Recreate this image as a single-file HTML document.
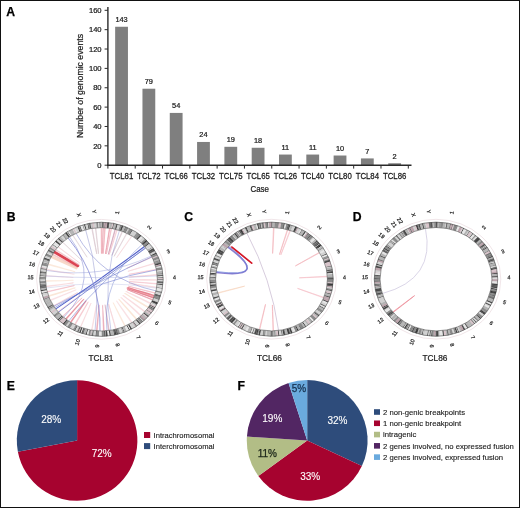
<!DOCTYPE html>
<html><head><meta charset="utf-8"><style>
html,body{margin:0;padding:0;background:#fff;width:520px;height:508px;overflow:hidden}
svg{display:block;will-change:transform;filter:blur(0.3px)}
</style></head><body>
<svg width="520" height="508" viewBox="0 0 520 508" font-family='"Liberation Sans", sans-serif'>
<rect width="520" height="508" fill="#fff"/>
<rect x="115.15" y="26.76" width="12.8" height="138.44" fill="#7f7f7f"/>
<text x="121.55" y="22.16" font-size="7.4" text-anchor="middle" fill="#1a1a1a" stroke="#1a1a1a" stroke-width="0.22">143</text>
<text transform="translate(121.55,178.7) scale(1,1.14)" x="0" y="0" font-size="7.8" text-anchor="middle" fill="#1a1a1a" stroke="#1a1a1a" stroke-width="0.22">TCL81</text>
<rect x="142.46" y="88.72" width="12.8" height="76.48" fill="#7f7f7f"/>
<text x="148.86" y="84.12" font-size="7.4" text-anchor="middle" fill="#1a1a1a" stroke="#1a1a1a" stroke-width="0.22">79</text>
<text transform="translate(148.86,178.7) scale(1,1.14)" x="0" y="0" font-size="7.8" text-anchor="middle" fill="#1a1a1a" stroke="#1a1a1a" stroke-width="0.22">TCL72</text>
<rect x="169.77" y="112.92" width="12.8" height="52.28" fill="#7f7f7f"/>
<text x="176.17" y="108.32" font-size="7.4" text-anchor="middle" fill="#1a1a1a" stroke="#1a1a1a" stroke-width="0.22">54</text>
<text transform="translate(176.17,178.7) scale(1,1.14)" x="0" y="0" font-size="7.8" text-anchor="middle" fill="#1a1a1a" stroke="#1a1a1a" stroke-width="0.22">TCL66</text>
<rect x="197.08" y="141.96" width="12.8" height="23.24" fill="#7f7f7f"/>
<text x="203.48" y="137.36" font-size="7.4" text-anchor="middle" fill="#1a1a1a" stroke="#1a1a1a" stroke-width="0.22">24</text>
<text transform="translate(203.48,178.7) scale(1,1.14)" x="0" y="0" font-size="7.8" text-anchor="middle" fill="#1a1a1a" stroke="#1a1a1a" stroke-width="0.22">TCL32</text>
<rect x="224.39" y="146.81" width="12.8" height="18.39" fill="#7f7f7f"/>
<text x="230.79" y="142.21" font-size="7.4" text-anchor="middle" fill="#1a1a1a" stroke="#1a1a1a" stroke-width="0.22">19</text>
<text transform="translate(230.79,178.7) scale(1,1.14)" x="0" y="0" font-size="7.8" text-anchor="middle" fill="#1a1a1a" stroke="#1a1a1a" stroke-width="0.22">TCL75</text>
<rect x="251.70" y="147.77" width="12.8" height="17.43" fill="#7f7f7f"/>
<text x="258.10" y="143.17" font-size="7.4" text-anchor="middle" fill="#1a1a1a" stroke="#1a1a1a" stroke-width="0.22">18</text>
<text transform="translate(258.10,178.7) scale(1,1.14)" x="0" y="0" font-size="7.8" text-anchor="middle" fill="#1a1a1a" stroke="#1a1a1a" stroke-width="0.22">TCL65</text>
<rect x="279.01" y="154.55" width="12.8" height="10.65" fill="#7f7f7f"/>
<text x="285.41" y="149.95" font-size="7.4" text-anchor="middle" fill="#1a1a1a" stroke="#1a1a1a" stroke-width="0.22">11</text>
<text transform="translate(285.41,178.7) scale(1,1.14)" x="0" y="0" font-size="7.8" text-anchor="middle" fill="#1a1a1a" stroke="#1a1a1a" stroke-width="0.22">TCL26</text>
<rect x="306.32" y="154.55" width="12.8" height="10.65" fill="#7f7f7f"/>
<text x="312.72" y="149.95" font-size="7.4" text-anchor="middle" fill="#1a1a1a" stroke="#1a1a1a" stroke-width="0.22">11</text>
<text transform="translate(312.72,178.7) scale(1,1.14)" x="0" y="0" font-size="7.8" text-anchor="middle" fill="#1a1a1a" stroke="#1a1a1a" stroke-width="0.22">TCL40</text>
<rect x="333.63" y="155.52" width="12.8" height="9.68" fill="#7f7f7f"/>
<text x="340.03" y="150.92" font-size="7.4" text-anchor="middle" fill="#1a1a1a" stroke="#1a1a1a" stroke-width="0.22">10</text>
<text transform="translate(340.03,178.7) scale(1,1.14)" x="0" y="0" font-size="7.8" text-anchor="middle" fill="#1a1a1a" stroke="#1a1a1a" stroke-width="0.22">TCL80</text>
<rect x="360.94" y="158.42" width="12.8" height="6.78" fill="#7f7f7f"/>
<text x="367.34" y="153.82" font-size="7.4" text-anchor="middle" fill="#1a1a1a" stroke="#1a1a1a" stroke-width="0.22">7</text>
<text transform="translate(367.34,178.7) scale(1,1.14)" x="0" y="0" font-size="7.8" text-anchor="middle" fill="#1a1a1a" stroke="#1a1a1a" stroke-width="0.22">TCL84</text>
<rect x="388.25" y="163.26" width="12.8" height="1.94" fill="#7f7f7f"/>
<text x="394.65" y="158.66" font-size="7.4" text-anchor="middle" fill="#1a1a1a" stroke="#1a1a1a" stroke-width="0.22">2</text>
<text transform="translate(394.65,178.7) scale(1,1.14)" x="0" y="0" font-size="7.8" text-anchor="middle" fill="#1a1a1a" stroke="#1a1a1a" stroke-width="0.22">TCL86</text>
<line x1="107.9" y1="7" x2="107.9" y2="165.89999999999998" stroke="#2a2a2a" stroke-width="1.4"/>
<line x1="107.2" y1="165.2" x2="411.5" y2="165.2" stroke="#2a2a2a" stroke-width="1.4"/>
<line x1="104.6" y1="165.20" x2="107.9" y2="165.20" stroke="#2a2a2a" stroke-width="1"/>
<text x="101.6" y="167.90" font-size="7.6" text-anchor="end" fill="#1a1a1a" stroke="#1a1a1a" stroke-width="0.22">0</text>
<line x1="104.6" y1="145.84" x2="107.9" y2="145.84" stroke="#2a2a2a" stroke-width="1"/>
<text x="101.6" y="148.54" font-size="7.6" text-anchor="end" fill="#1a1a1a" stroke="#1a1a1a" stroke-width="0.22">20</text>
<line x1="104.6" y1="126.47" x2="107.9" y2="126.47" stroke="#2a2a2a" stroke-width="1"/>
<text x="101.6" y="129.17" font-size="7.6" text-anchor="end" fill="#1a1a1a" stroke="#1a1a1a" stroke-width="0.22">40</text>
<line x1="104.6" y1="107.11" x2="107.9" y2="107.11" stroke="#2a2a2a" stroke-width="1"/>
<text x="101.6" y="109.81" font-size="7.6" text-anchor="end" fill="#1a1a1a" stroke="#1a1a1a" stroke-width="0.22">60</text>
<line x1="104.6" y1="87.75" x2="107.9" y2="87.75" stroke="#2a2a2a" stroke-width="1"/>
<text x="101.6" y="90.45" font-size="7.6" text-anchor="end" fill="#1a1a1a" stroke="#1a1a1a" stroke-width="0.22">80</text>
<line x1="104.6" y1="68.39" x2="107.9" y2="68.39" stroke="#2a2a2a" stroke-width="1"/>
<text x="101.6" y="71.09" font-size="7.6" text-anchor="end" fill="#1a1a1a" stroke="#1a1a1a" stroke-width="0.22">100</text>
<line x1="104.6" y1="49.03" x2="107.9" y2="49.03" stroke="#2a2a2a" stroke-width="1"/>
<text x="101.6" y="51.73" font-size="7.6" text-anchor="end" fill="#1a1a1a" stroke="#1a1a1a" stroke-width="0.22">120</text>
<line x1="104.6" y1="29.66" x2="107.9" y2="29.66" stroke="#2a2a2a" stroke-width="1"/>
<text x="101.6" y="32.36" font-size="7.6" text-anchor="end" fill="#1a1a1a" stroke="#1a1a1a" stroke-width="0.22">140</text>
<line x1="104.6" y1="10.30" x2="107.9" y2="10.30" stroke="#2a2a2a" stroke-width="1"/>
<text x="101.6" y="13.00" font-size="7.6" text-anchor="end" fill="#1a1a1a" stroke="#1a1a1a" stroke-width="0.22">160</text>
<line x1="107.90" y1="165.2" x2="107.90" y2="168.6" stroke="#2a2a2a" stroke-width="1"/>
<line x1="135.21" y1="165.2" x2="135.21" y2="168.6" stroke="#2a2a2a" stroke-width="1"/>
<line x1="162.52" y1="165.2" x2="162.52" y2="168.6" stroke="#2a2a2a" stroke-width="1"/>
<line x1="189.83" y1="165.2" x2="189.83" y2="168.6" stroke="#2a2a2a" stroke-width="1"/>
<line x1="217.14" y1="165.2" x2="217.14" y2="168.6" stroke="#2a2a2a" stroke-width="1"/>
<line x1="244.45" y1="165.2" x2="244.45" y2="168.6" stroke="#2a2a2a" stroke-width="1"/>
<line x1="271.75" y1="165.2" x2="271.75" y2="168.6" stroke="#2a2a2a" stroke-width="1"/>
<line x1="299.06" y1="165.2" x2="299.06" y2="168.6" stroke="#2a2a2a" stroke-width="1"/>
<line x1="326.37" y1="165.2" x2="326.37" y2="168.6" stroke="#2a2a2a" stroke-width="1"/>
<line x1="353.68" y1="165.2" x2="353.68" y2="168.6" stroke="#2a2a2a" stroke-width="1"/>
<line x1="380.99" y1="165.2" x2="380.99" y2="168.6" stroke="#2a2a2a" stroke-width="1"/>
<line x1="408.30" y1="165.2" x2="408.30" y2="168.6" stroke="#2a2a2a" stroke-width="1"/>
<text x="259.7" y="192.2" font-size="9" text-anchor="middle" fill="#1a1a1a" textLength="18.5" lengthAdjust="spacingAndGlyphs" stroke="#1a1a1a" stroke-width="0.22">Case</text>
<text transform="translate(82.6,86) rotate(-90)" x="0" y="0" font-size="9.3" text-anchor="middle" fill="#1a1a1a" textLength="104" lengthAdjust="spacingAndGlyphs" stroke="#1a1a1a" stroke-width="0.22">Number of genomic events</text>
<path d="M91.82,228.57 Q101.45,279.30 92.30,228.50" stroke="#d8c4cc" stroke-width="0.9" stroke-opacity="0.7200000000000001" fill="none"/>
<path d="M95.38,228.11 Q101.45,279.30 95.87,228.06" stroke="#d8c4cc" stroke-width="0.9" stroke-opacity="0.63" fill="none"/>
<path d="M101.21,227.80 Q101.45,279.30 101.69,227.80" stroke="#f0b0ba" stroke-width="1.0" stroke-opacity="0.765" fill="none"/>
<path d="M102.96,227.82 Q101.45,279.30 103.44,227.83" stroke="#e48c9c" stroke-width="0.9" stroke-opacity="0.54" fill="none"/>
<path d="M104.71,227.89 Q101.45,279.30 105.19,227.92" stroke="#f0b0ba" stroke-width="1.0" stroke-opacity="0.7200000000000001" fill="none"/>
<path d="M109.35,228.32 Q101.45,279.30 109.83,228.39" stroke="#e48c9c" stroke-width="0.9" stroke-opacity="0.63" fill="none"/>
<path d="M111.08,228.57 Q101.45,279.30 111.56,228.65" stroke="#f0b0ba" stroke-width="0.9" stroke-opacity="0.63" fill="none"/>
<path d="M114.98,229.34 Q101.45,279.30 115.45,229.45" stroke="#d0a4b8" stroke-width="1.0" stroke-opacity="0.7200000000000001" fill="none"/>
<path d="M116.76,229.78 Q101.45,279.30 117.23,229.91" stroke="#f0b0ba" stroke-width="0.8" stroke-opacity="0.54" fill="none"/>
<path d="M122.10,231.47 Q101.45,279.30 122.55,231.63" stroke="#d8c4cc" stroke-width="0.9" stroke-opacity="0.7200000000000001" fill="none"/>
<path d="M126.53,233.31 Q101.45,279.30 126.96,233.52" stroke="#d8c4cc" stroke-width="0.8" stroke-opacity="0.63" fill="none"/>
<path d="M131.59,235.99 Q101.45,279.30 132.00,236.23" stroke="#f6d0d4" stroke-width="0.8" stroke-opacity="0.63" fill="none"/>
<path d="M151.68,257.01 Q101.45,279.30 151.89,257.41" stroke="#f6d0d4" stroke-width="1.0" stroke-opacity="0.7200000000000001" fill="none"/>
<path d="M154.37,263.17 Q101.45,279.30 154.52,263.60" stroke="#f6d0d4" stroke-width="0.9" stroke-opacity="0.63" fill="none"/>
<path d="M156.10,269.25 Q101.45,279.30 156.20,269.69" stroke="#f0b0ba" stroke-width="0.8" stroke-opacity="0.54" fill="none"/>
<path d="M156.94,274.59 Q101.45,279.30 156.98,275.04" stroke="#f6d0d4" stroke-width="1.0" stroke-opacity="0.7200000000000001" fill="none"/>
<path d="M157.17,279.79 Q101.45,279.30 157.16,280.24" stroke="#f6d0d4" stroke-width="1.2" stroke-opacity="0.7200000000000001" fill="none"/>
<path d="M156.98,283.56 Q101.45,279.30 156.94,284.01" stroke="#f0b0ba" stroke-width="0.8" stroke-opacity="0.54" fill="none"/>
<path d="M156.52,287.13 Q101.45,279.30 156.45,287.58" stroke="#f6d0d4" stroke-width="1.0" stroke-opacity="0.63" fill="none"/>
<path d="M155.21,292.85 Q101.45,279.30 155.08,293.28" stroke="#f0b0ba" stroke-width="0.9" stroke-opacity="0.63" fill="none"/>
<path d="M154.37,295.43 Q101.45,279.30 154.22,295.85" stroke="#dc5c6c" stroke-width="1.1" stroke-opacity="0.7200000000000001" fill="none"/>
<path d="M153.56,297.55 Q101.45,279.30 153.38,297.97" stroke="#dc5c6c" stroke-width="1.1" stroke-opacity="0.675" fill="none"/>
<path d="M152.65,299.63 Q101.45,279.30 152.45,300.04" stroke="#e48c9c" stroke-width="1.0" stroke-opacity="0.63" fill="none"/>
<path d="M150.76,303.28 Q101.45,279.30 150.54,303.68" stroke="#f6d0d4" stroke-width="1.1" stroke-opacity="0.7200000000000001" fill="none"/>
<path d="M148.32,307.16 Q101.45,279.30 148.05,307.54" stroke="#f8dcc8" stroke-width="1.2" stroke-opacity="0.7200000000000001" fill="none"/>
<path d="M144.91,311.54 Q101.45,279.30 144.60,311.88" stroke="#f6d0d4" stroke-width="1.2" stroke-opacity="0.7200000000000001" fill="none"/>
<path d="M141.02,315.56 Q101.45,279.30 140.68,315.87" stroke="#f6d0d4" stroke-width="1.1" stroke-opacity="0.7200000000000001" fill="none"/>
<path d="M136.71,319.18 Q101.45,279.30 136.33,319.46" stroke="#f8dcc8" stroke-width="1.1" stroke-opacity="0.7200000000000001" fill="none"/>
<path d="M132.00,322.37 Q101.45,279.30 131.59,322.61" stroke="#f6d0d4" stroke-width="1.1" stroke-opacity="0.63" fill="none"/>
<path d="M125.22,325.88 Q101.45,279.30 124.78,326.07" stroke="#f8dcc8" stroke-width="1.1" stroke-opacity="0.63" fill="none"/>
<path d="M116.11,328.99 Q101.45,279.30 115.64,329.10" stroke="#f6d0d4" stroke-width="1.0" stroke-opacity="0.63" fill="none"/>
<path d="M109.06,330.32 Q101.45,279.30 108.58,330.38" stroke="#d0a4b8" stroke-width="1.1" stroke-opacity="0.7200000000000001" fill="none"/>
<path d="M104.03,330.74 Q101.45,279.30 103.54,330.76" stroke="#e48c9c" stroke-width="1.1" stroke-opacity="0.675" fill="none"/>
<path d="M97.03,330.64 Q101.45,279.30 96.54,330.60" stroke="#e48c9c" stroke-width="1.1" stroke-opacity="0.675" fill="none"/>
<path d="M92.01,330.06 Q101.45,279.30 91.53,329.98" stroke="#f6d0d4" stroke-width="1.0" stroke-opacity="0.54" fill="none"/>
<path d="M80.80,327.13 Q101.45,279.30 80.35,326.97" stroke="#f6d0d4" stroke-width="1.0" stroke-opacity="0.54" fill="none"/>
<path d="M75.08,324.67 Q101.45,279.30 74.65,324.45" stroke="#f0b0ba" stroke-width="1.1" stroke-opacity="0.63" fill="none"/>
<path d="M70.90,322.37 Q101.45,279.30 70.49,322.12" stroke="#dc5c6c" stroke-width="1.1" stroke-opacity="0.63" fill="none"/>
<path d="M66.19,319.18 Q101.45,279.30 65.82,318.90" stroke="#dc5c6c" stroke-width="1.1" stroke-opacity="0.63" fill="none"/>
<path d="M62.92,316.50 Q101.45,279.30 62.57,316.19" stroke="#f0b0ba" stroke-width="1.0" stroke-opacity="0.54" fill="none"/>
<path d="M58.30,311.88 Q101.45,279.30 57.99,311.54" stroke="#f6d0d4" stroke-width="1.0" stroke-opacity="0.63" fill="none"/>
<path d="M53.81,306.02 Q101.45,279.30 53.56,305.63" stroke="#f6d0d4" stroke-width="1.0" stroke-opacity="0.63" fill="none"/>
<path d="M50.64,300.45 Q101.45,279.30 50.45,300.04" stroke="#f6d0d4" stroke-width="1.1" stroke-opacity="0.63" fill="none"/>
<path d="M48.84,296.28 Q101.45,279.30 48.68,295.85" stroke="#f8dcc8" stroke-width="1.2" stroke-opacity="0.7200000000000001" fill="none"/>
<path d="M47.44,291.98 Q101.45,279.30 47.32,291.54" stroke="#f0b0ba" stroke-width="1.0" stroke-opacity="0.54" fill="none"/>
<path d="M46.30,286.69 Q101.45,279.30 46.24,286.24" stroke="#f6d0d4" stroke-width="1.2" stroke-opacity="0.7200000000000001" fill="none"/>
<path d="M45.77,281.32 Q101.45,279.30 45.75,280.87" stroke="#f8dcc8" stroke-width="1.1" stroke-opacity="0.63" fill="none"/>
<path d="M45.85,275.93 Q101.45,279.30 45.88,275.48" stroke="#f6d0d4" stroke-width="1.1" stroke-opacity="0.63" fill="none"/>
<path d="M46.70,269.69 Q101.45,279.30 46.80,269.25" stroke="#f6d0d4" stroke-width="1.1" stroke-opacity="0.63" fill="none"/>
<path d="M48.09,264.46 Q101.45,279.30 48.23,264.03" stroke="#f8dcc8" stroke-width="1.1" stroke-opacity="0.63" fill="none"/>
<path d="M57.99,247.06 Q101.45,279.30 58.30,246.72" stroke="#f6d0d4" stroke-width="0.9" stroke-opacity="0.63" fill="none"/>
<path d="M62.57,242.41 Q101.45,279.30 62.92,242.10" stroke="#d8c4cc" stroke-width="0.8" stroke-opacity="0.54" fill="none"/>
<path d="M72.54,235.27 Q101.45,279.30 72.96,235.04" stroke="#d8c4cc" stroke-width="0.8" stroke-opacity="0.54" fill="none"/>
<path d="M51.46,256.77 L76.46,268.03" stroke="#f6d0bc" stroke-width="2.6" stroke-opacity="0.8" fill="none" stroke-linecap="round"/>
<path d="M52.71,254.54 L77.08,266.92" stroke="#f0b0b0" stroke-width="1.6" stroke-opacity="0.7" fill="none" stroke-linecap="round"/>
<path d="M54.29,252.06 L77.87,265.68" stroke="#d83444" stroke-width="2.8" stroke-opacity="0.92" fill="none" stroke-linecap="round"/>
<path d="M55.89,249.82 L78.67,264.56" stroke="#f0b8c0" stroke-width="1.4" stroke-opacity="0.7" fill="none" stroke-linecap="round"/>
<path d="M153.71,296.88 L127.58,288.09" stroke="#e87884" stroke-width="2.2" stroke-opacity="0.45" fill="none" stroke-linecap="round"/>
<path d="M144.41,246.50 Q101.45,279.30 55.84,308.88" stroke="#4a58c8" stroke-width="1.1" stroke-opacity="0.96" fill="none"/>
<path d="M145.75,248.06 Q101.45,279.30 58.52,312.13" stroke="#5a68c8" stroke-width="0.8800000000000001" stroke-opacity="0.84" fill="none"/>
<path d="M156.24,269.91 Q101.45,279.30 53.92,306.18" stroke="#6a78d0" stroke-width="0.77" stroke-opacity="0.72" fill="none"/>
<path d="M68.17,238.00 Q101.45,279.30 100.01,330.78" stroke="#7a80d0" stroke-width="0.8800000000000001" stroke-opacity="0.84" fill="none"/>
<path d="M76.12,233.43 Q101.45,279.30 155.77,290.80" stroke="#8088d0" stroke-width="0.77" stroke-opacity="0.72" fill="none"/>
<path d="M69.69,236.99 Q101.45,279.30 63.77,317.24" stroke="#8a90d8" stroke-width="0.77" stroke-opacity="0.72" fill="none"/>
<path d="M85.65,229.91 Q101.45,279.30 95.07,330.46" stroke="#9094d0" stroke-width="0.77" stroke-opacity="0.66" fill="none"/>
<path d="M119.43,230.55 Q101.45,279.30 110.83,330.07" stroke="#8c90d0" stroke-width="0.77" stroke-opacity="0.6" fill="none"/>
<path d="M142.31,244.28 Q101.45,279.30 106.95,330.55" stroke="#7080d0" stroke-width="0.77" stroke-opacity="0.6" fill="none"/>
<path d="M54.89,307.59 Q101.45,279.30 151.64,256.93" stroke="#6070c8" stroke-width="0.77" stroke-opacity="0.72" fill="none"/>
<path d="M68.73,320.99 Q101.45,279.30 145.35,247.58" stroke="#5868c8" stroke-width="0.77" stroke-opacity="0.6" fill="none"/>
<path d="M151.14,256.00 Q101.45,279.30 46.55,270.47" stroke="#9098d8" stroke-width="0.66" stroke-opacity="0.66" fill="none"/>
<path d="M45.84,275.99 Q101.45,279.30 157.05,275.94" stroke="#b0b8e4" stroke-width="0.77" stroke-opacity="0.66" fill="none"/>
<path d="M46.53,288.00 Q101.45,279.30 156.35,288.14" stroke="#b8bce4" stroke-width="0.66" stroke-opacity="0.6" fill="none"/>
<ellipse cx="101.45" cy="279.3" rx="64.81" ry="59.9" fill="none" stroke="#e6d4d8" stroke-width="0.6"/>
<ellipse cx="101.45" cy="279.3" rx="58.86" ry="54.40" fill="none" stroke="#d0d0d0" stroke-width="5.40"/>
<path d="M98.65,222.26 A61.78,57.10 0 0 1 99.71,222.22 L99.87,227.62 A55.94,51.70 0 0 0 98.91,227.65Z" fill="#d2d2d2"/>
<path d="M99.71,222.22 A61.78,57.10 0 0 1 100.30,222.21 L100.41,227.61 A55.94,51.70 0 0 0 99.87,227.62Z" fill="#1a1a1a"/>
<path d="M100.30,222.21 A61.78,57.10 0 0 1 102.07,222.20 L102.01,227.60 A55.94,51.70 0 0 0 100.41,227.61Z" fill="#b4b4b4"/>
<path d="M102.07,222.20 A61.78,57.10 0 0 1 102.46,222.21 L102.36,227.61 A55.94,51.70 0 0 0 102.01,227.60Z" fill="#1a1a1a"/>
<path d="M102.46,222.21 A61.78,57.10 0 0 1 103.16,222.22 L103.00,227.62 A55.94,51.70 0 0 0 102.36,227.61Z" fill="#555555"/>
<path d="M103.16,222.22 A61.78,57.10 0 0 1 103.85,222.24 L103.63,227.64 A55.94,51.70 0 0 0 103.00,227.62Z" fill="#555555"/>
<path d="M103.85,222.24 A61.78,57.10 0 0 1 105.12,222.30 L104.78,227.69 A55.94,51.70 0 0 0 103.63,227.64Z" fill="#bca4ac"/>
<path d="M105.12,222.30 A61.78,57.10 0 0 1 105.51,222.32 L105.13,227.71 A55.94,51.70 0 0 0 104.78,227.69Z" fill="#1a1a1a"/>
<path d="M105.51,222.32 A61.78,57.10 0 0 1 107.49,222.47 L106.92,227.85 A55.94,51.70 0 0 0 105.13,227.71Z" fill="#bca4ac"/>
<path d="M107.49,222.47 A61.78,57.10 0 0 1 108.04,222.53 L107.42,227.90 A55.94,51.70 0 0 0 106.92,227.85Z" fill="#1a1a1a"/>
<path d="M108.04,222.53 A61.78,57.10 0 0 1 108.61,222.58 L107.93,227.95 A55.94,51.70 0 0 0 107.42,227.90Z" fill="#1a1a1a"/>
<path d="M108.61,222.58 A61.78,57.10 0 0 1 109.08,222.64 L108.36,228.00 A55.94,51.70 0 0 0 107.93,227.95Z" fill="#1a1a1a"/>
<path d="M109.08,222.64 A61.78,57.10 0 0 1 109.58,222.70 L108.81,228.05 A55.94,51.70 0 0 0 108.36,228.00Z" fill="#555555"/>
<path d="M109.58,222.70 A61.78,57.10 0 0 1 110.37,222.80 L109.53,228.14 A55.94,51.70 0 0 0 108.81,228.05Z" fill="#d2d2d2"/>
<path d="M110.37,222.80 A61.78,57.10 0 0 1 112.36,223.10 L111.33,228.41 A55.94,51.70 0 0 0 109.53,228.14Z" fill="#b4b4b4"/>
<path d="M112.36,223.10 A61.78,57.10 0 0 1 113.52,223.30 L112.38,228.60 A55.94,51.70 0 0 0 111.33,228.41Z" fill="#d8c4ca"/>
<path d="M113.52,223.30 A61.78,57.10 0 0 1 114.03,223.40 L112.84,228.68 A55.94,51.70 0 0 0 112.38,228.60Z" fill="#1a1a1a"/>
<path d="M114.03,223.40 A61.78,57.10 0 0 1 116.36,223.89 L114.95,229.13 A55.94,51.70 0 0 0 112.84,228.68Z" fill="#b4b4b4"/>
<path d="M116.36,223.89 A61.78,57.10 0 0 1 117.07,224.05 L115.59,229.28 A55.94,51.70 0 0 0 114.95,229.13Z" fill="#555555"/>
<path d="M117.07,224.05 A61.78,57.10 0 0 1 117.68,224.20 L116.14,229.42 A55.94,51.70 0 0 0 115.59,229.28Z" fill="#1a1a1a"/>
<path d="M117.68,224.20 A61.78,57.10 0 0 1 120.32,224.93 L118.53,230.07 A55.94,51.70 0 0 0 116.14,229.42Z" fill="#d2d2d2"/>
<path d="M120.32,224.93 A61.78,57.10 0 0 1 122.12,225.49 L120.16,230.58 A55.94,51.70 0 0 0 118.53,230.07Z" fill="#8a8a8a"/>
<path d="M122.12,225.49 A61.78,57.10 0 0 1 122.79,225.72 L120.78,230.78 A55.94,51.70 0 0 0 120.16,230.58Z" fill="#1a1a1a"/>
<path d="M122.79,225.72 A61.78,57.10 0 0 1 123.37,225.91 L121.30,230.96 A55.94,51.70 0 0 0 120.78,230.78Z" fill="#1a1a1a"/>
<path d="M123.37,225.91 A61.78,57.10 0 0 1 125.55,226.72 L123.27,231.69 A55.94,51.70 0 0 0 121.30,230.96Z" fill="#b4b4b4"/>
<path d="M125.55,226.72 A61.78,57.10 0 0 1 126.10,226.94 L123.77,231.89 A55.94,51.70 0 0 0 123.27,231.69Z" fill="#555555"/>
<path d="M126.10,226.94 A61.78,57.10 0 0 1 128.38,227.91 L125.84,232.77 A55.94,51.70 0 0 0 123.77,231.89Z" fill="#8a8a8a"/>
<path d="M128.38,227.91 A61.78,57.10 0 0 1 128.52,227.97 L125.96,232.83 A55.94,51.70 0 0 0 125.84,232.77Z" fill="#555555"/>
<path d="M128.52,227.97 A61.78,57.10 0 0 1 128.91,228.15 L126.31,232.99 A55.94,51.70 0 0 0 125.96,232.83Z" fill="#f0f0f0"/>
<text transform="translate(117.04,212.60) rotate(-78.3)" x="0" y="2.1" font-size="5.4" text-anchor="middle" fill="#2a2a2a" class="t2" stroke="#2a2a2a" stroke-width="0.25">1</text>
<path d="M128.91,228.15 A61.78,57.10 0 0 1 129.67,228.50 L127.00,233.31 A55.94,51.70 0 0 0 126.31,232.99Z" fill="#b4b4b4"/>
<path d="M129.67,228.50 A61.78,57.10 0 0 1 132.29,229.82 L129.37,234.50 A55.94,51.70 0 0 0 127.00,233.31Z" fill="#8a8a8a"/>
<path d="M132.29,229.82 A61.78,57.10 0 0 1 132.80,230.10 L129.84,234.75 A55.94,51.70 0 0 0 129.37,234.50Z" fill="#1a1a1a"/>
<path d="M132.80,230.10 A61.78,57.10 0 0 1 135.33,231.55 L132.13,236.07 A55.94,51.70 0 0 0 129.84,234.75Z" fill="#d2d2d2"/>
<path d="M135.33,231.55 A61.78,57.10 0 0 1 136.97,232.58 L133.61,237.00 A55.94,51.70 0 0 0 132.13,236.07Z" fill="#d2d2d2"/>
<path d="M136.97,232.58 A61.78,57.10 0 0 1 138.01,233.27 L134.55,237.62 A55.94,51.70 0 0 0 133.61,237.00Z" fill="#8a8a8a"/>
<path d="M138.01,233.27 A61.78,57.10 0 0 1 140.31,234.91 L136.64,239.11 A55.94,51.70 0 0 0 134.55,237.62Z" fill="#8a8a8a"/>
<path d="M140.31,234.91 A61.78,57.10 0 0 1 140.79,235.27 L137.07,239.43 A55.94,51.70 0 0 0 136.64,239.11Z" fill="#1a1a1a"/>
<path d="M140.79,235.27 A61.78,57.10 0 0 1 141.34,235.69 L137.56,239.82 A55.94,51.70 0 0 0 137.07,239.43Z" fill="#1a1a1a"/>
<path d="M141.34,235.69 A61.78,57.10 0 0 1 143.29,237.29 L139.34,241.26 A55.94,51.70 0 0 0 137.56,239.82Z" fill="#e6e6e6"/>
<path d="M143.29,237.29 A61.78,57.10 0 0 1 145.05,238.85 L140.93,242.67 A55.94,51.70 0 0 0 139.34,241.26Z" fill="#d2d2d2"/>
<path d="M145.05,238.85 A61.78,57.10 0 0 1 146.40,240.12 L142.15,243.83 A55.94,51.70 0 0 0 140.93,242.67Z" fill="#8a8a8a"/>
<path d="M146.40,240.12 A61.78,57.10 0 0 1 146.91,240.63 L142.61,244.29 A55.94,51.70 0 0 0 142.15,243.83Z" fill="#1a1a1a"/>
<path d="M146.91,240.63 A61.78,57.10 0 0 1 147.31,241.04 L142.97,244.66 A55.94,51.70 0 0 0 142.61,244.29Z" fill="#1a1a1a"/>
<path d="M147.31,241.04 A61.78,57.10 0 0 1 147.66,241.40 L143.29,244.99 A55.94,51.70 0 0 0 142.97,244.66Z" fill="#555555"/>
<path d="M147.66,241.40 A61.78,57.10 0 0 1 148.95,242.79 L144.46,246.24 A55.94,51.70 0 0 0 143.29,244.99Z" fill="#8a8a8a"/>
<path d="M148.95,242.79 A61.78,57.10 0 0 1 149.20,243.06 L144.68,246.49 A55.94,51.70 0 0 0 144.46,246.24Z" fill="#555555"/>
<path d="M149.20,243.06 A61.78,57.10 0 0 1 149.59,243.51 L145.04,246.90 A55.94,51.70 0 0 0 144.68,246.49Z" fill="#1a1a1a"/>
<path d="M149.59,243.51 A61.78,57.10 0 0 1 151.24,245.50 L146.53,248.69 A55.94,51.70 0 0 0 145.04,246.90Z" fill="#d2d2d2"/>
<path d="M151.24,245.50 A61.78,57.10 0 0 1 151.60,245.96 L146.86,249.11 A55.94,51.70 0 0 0 146.53,248.69Z" fill="#d2d2d2"/>
<path d="M151.60,245.96 A61.78,57.10 0 0 1 151.85,246.28 L147.09,249.40 A55.94,51.70 0 0 0 146.86,249.11Z" fill="#f0f0f0"/>
<text transform="translate(149.05,227.27) rotate(-49.7)" x="0" y="2.1" font-size="5.4" text-anchor="middle" fill="#2a2a2a" class="t2" stroke="#2a2a2a" stroke-width="0.25">2</text>
<path d="M151.85,246.28 A61.78,57.10 0 0 1 152.61,247.29 L147.77,250.32 A55.94,51.70 0 0 0 147.09,249.40Z" fill="#d2d2d2"/>
<path d="M152.61,247.29 A61.78,57.10 0 0 1 152.83,247.59 L147.97,250.59 A55.94,51.70 0 0 0 147.77,250.32Z" fill="#1a1a1a"/>
<path d="M152.83,247.59 A61.78,57.10 0 0 1 153.26,248.20 L148.36,251.14 A55.94,51.70 0 0 0 147.97,250.59Z" fill="#d2d2d2"/>
<path d="M153.26,248.20 A61.78,57.10 0 0 1 153.61,248.70 L148.68,251.59 A55.94,51.70 0 0 0 148.36,251.14Z" fill="#1a1a1a"/>
<path d="M153.61,248.70 A61.78,57.10 0 0 1 153.85,249.05 L148.89,251.91 A55.94,51.70 0 0 0 148.68,251.59Z" fill="#1a1a1a"/>
<path d="M153.85,249.05 A61.78,57.10 0 0 1 154.11,249.44 L149.13,252.26 A55.94,51.70 0 0 0 148.89,251.91Z" fill="#1a1a1a"/>
<path d="M154.11,249.44 A61.78,57.10 0 0 1 154.38,249.84 L149.37,252.63 A55.94,51.70 0 0 0 149.13,252.26Z" fill="#555555"/>
<path d="M154.38,249.84 A61.78,57.10 0 0 1 154.66,250.28 L149.62,253.02 A55.94,51.70 0 0 0 149.37,252.63Z" fill="#1a1a1a"/>
<path d="M154.66,250.28 A61.78,57.10 0 0 1 154.87,250.61 L149.82,253.33 A55.94,51.70 0 0 0 149.62,253.02Z" fill="#1a1a1a"/>
<path d="M154.87,250.61 A61.78,57.10 0 0 1 155.10,250.99 L150.03,253.67 A55.94,51.70 0 0 0 149.82,253.33Z" fill="#555555"/>
<path d="M155.10,250.99 A61.78,57.10 0 0 1 156.13,252.71 L150.96,255.23 A55.94,51.70 0 0 0 150.03,253.67Z" fill="#d2d2d2"/>
<path d="M156.13,252.71 A61.78,57.10 0 0 1 156.33,253.07 L151.14,255.55 A55.94,51.70 0 0 0 150.96,255.23Z" fill="#1a1a1a"/>
<path d="M156.33,253.07 A61.78,57.10 0 0 1 156.64,253.63 L151.42,256.06 A55.94,51.70 0 0 0 151.14,255.55Z" fill="#1a1a1a"/>
<path d="M156.64,253.63 A61.78,57.10 0 0 1 157.63,255.54 L152.32,257.79 A55.94,51.70 0 0 0 151.42,256.06Z" fill="#8a8a8a"/>
<path d="M157.63,255.54 A61.78,57.10 0 0 1 158.14,256.60 L152.78,258.75 A55.94,51.70 0 0 0 152.32,257.79Z" fill="#d8c4ca"/>
<path d="M158.14,256.60 A61.78,57.10 0 0 1 159.11,258.79 L153.66,260.73 A55.94,51.70 0 0 0 152.78,258.75Z" fill="#8a8a8a"/>
<path d="M159.11,258.79 A61.78,57.10 0 0 1 159.55,259.88 L154.06,261.72 A55.94,51.70 0 0 0 153.66,260.73Z" fill="#b4b4b4"/>
<path d="M159.55,259.88 A61.78,57.10 0 0 1 160.09,261.32 L154.54,263.02 A55.94,51.70 0 0 0 154.06,261.72Z" fill="#8a8a8a"/>
<path d="M160.09,261.32 A61.78,57.10 0 0 1 160.54,262.63 L154.95,264.21 A55.94,51.70 0 0 0 154.54,263.02Z" fill="#8a8a8a"/>
<path d="M160.54,262.63 A61.78,57.10 0 0 1 160.77,263.33 L155.16,264.84 A55.94,51.70 0 0 0 154.95,264.21Z" fill="#1a1a1a"/>
<path d="M160.77,263.33 A61.78,57.10 0 0 1 160.97,264.00 L155.34,265.44 A55.94,51.70 0 0 0 155.16,264.84Z" fill="#1a1a1a"/>
<path d="M160.97,264.00 A61.78,57.10 0 0 1 161.35,265.30 L155.68,266.62 A55.94,51.70 0 0 0 155.34,265.44Z" fill="#bca4ac"/>
<path d="M161.35,265.30 A61.78,57.10 0 0 1 161.46,265.74 L155.79,267.02 A55.94,51.70 0 0 0 155.68,266.62Z" fill="#555555"/>
<path d="M161.46,265.74 A61.78,57.10 0 0 1 161.64,266.43 L155.95,267.65 A55.94,51.70 0 0 0 155.79,267.02Z" fill="#e6e6e6"/>
<path d="M161.64,266.43 A61.78,57.10 0 0 1 161.72,266.74 L156.02,267.93 A55.94,51.70 0 0 0 155.95,267.65Z" fill="#d2d2d2"/>
<path d="M161.72,266.74 A61.78,57.10 0 0 1 161.81,267.13 L156.10,268.28 A55.94,51.70 0 0 0 156.02,267.93Z" fill="#f0f0f0"/>
<text transform="translate(168.22,251.29) rotate(-24.0)" x="0" y="2.1" font-size="5.4" text-anchor="middle" fill="#2a2a2a" class="t2" stroke="#2a2a2a" stroke-width="0.25">3</text>
<path d="M161.81,267.13 A61.78,57.10 0 0 1 162.37,269.79 L156.61,270.69 A55.94,51.70 0 0 0 156.10,268.28Z" fill="#8a8a8a"/>
<path d="M162.37,269.79 A61.78,57.10 0 0 1 162.55,270.84 L156.77,271.64 A55.94,51.70 0 0 0 156.61,270.69Z" fill="#e6e6e6"/>
<path d="M162.55,270.84 A61.78,57.10 0 0 1 162.92,273.55 L157.11,274.10 A55.94,51.70 0 0 0 156.77,271.64Z" fill="#b4b4b4"/>
<path d="M162.92,273.55 A61.78,57.10 0 0 1 162.97,274.04 L157.15,274.53 A55.94,51.70 0 0 0 157.11,274.10Z" fill="#555555"/>
<path d="M162.97,274.04 A61.78,57.10 0 0 1 163.07,275.16 L157.24,275.55 A55.94,51.70 0 0 0 157.15,274.53Z" fill="#b4b4b4"/>
<path d="M163.07,275.16 A61.78,57.10 0 0 1 163.10,275.55 L157.27,275.91 A55.94,51.70 0 0 0 157.24,275.55Z" fill="#1a1a1a"/>
<path d="M163.10,275.55 A61.78,57.10 0 0 1 163.13,276.10 L157.30,276.40 A55.94,51.70 0 0 0 157.27,275.91Z" fill="#1a1a1a"/>
<path d="M163.13,276.10 A61.78,57.10 0 0 1 163.20,277.47 L157.36,277.65 A55.94,51.70 0 0 0 157.30,276.40Z" fill="#e6e6e6"/>
<path d="M163.20,277.47 A61.78,57.10 0 0 1 163.21,277.90 L157.37,278.04 A55.94,51.70 0 0 0 157.36,277.65Z" fill="#1a1a1a"/>
<path d="M163.21,277.90 A61.78,57.10 0 0 1 163.23,279.29 L157.39,279.29 A55.94,51.70 0 0 0 157.37,278.04Z" fill="#d8c4ca"/>
<path d="M163.23,279.29 A61.78,57.10 0 0 1 163.23,279.72 L157.39,279.68 A55.94,51.70 0 0 0 157.39,279.29Z" fill="#1a1a1a"/>
<path d="M163.23,279.72 A61.78,57.10 0 0 1 163.17,281.83 L157.33,281.59 A55.94,51.70 0 0 0 157.39,279.68Z" fill="#d2d2d2"/>
<path d="M163.17,281.83 A61.78,57.10 0 0 1 163.13,282.53 L157.30,282.22 A55.94,51.70 0 0 0 157.33,281.59Z" fill="#1a1a1a"/>
<path d="M163.13,282.53 A61.78,57.10 0 0 1 163.08,283.27 L157.25,282.89 A55.94,51.70 0 0 0 157.30,282.22Z" fill="#555555"/>
<path d="M163.08,283.27 A61.78,57.10 0 0 1 162.98,284.45 L157.16,283.97 A55.94,51.70 0 0 0 157.25,282.89Z" fill="#b4b4b4"/>
<path d="M162.98,284.45 A61.78,57.10 0 0 1 162.91,285.16 L157.09,284.61 A55.94,51.70 0 0 0 157.16,283.97Z" fill="#1a1a1a"/>
<path d="M162.91,285.16 A61.78,57.10 0 0 1 162.77,286.30 L156.97,285.64 A55.94,51.70 0 0 0 157.09,284.61Z" fill="#d2d2d2"/>
<path d="M162.77,286.30 A61.78,57.10 0 0 1 162.47,288.23 L156.70,287.39 A55.94,51.70 0 0 0 156.97,285.64Z" fill="#d2d2d2"/>
<path d="M162.47,288.23 A61.78,57.10 0 0 1 162.39,288.69 L156.63,287.80 A55.94,51.70 0 0 0 156.70,287.39Z" fill="#1a1a1a"/>
<path d="M162.39,288.69 A61.78,57.10 0 0 1 162.38,288.75 L156.62,287.86 A55.94,51.70 0 0 0 156.63,287.80Z" fill="#8a8a8a"/>
<path d="M162.38,288.75 A61.78,57.10 0 0 1 162.31,289.14 L156.55,288.21 A55.94,51.70 0 0 0 156.62,287.86Z" fill="#f0f0f0"/>
<text transform="translate(174.43,277.16) rotate(-1.4)" x="0" y="2.1" font-size="5.4" text-anchor="middle" fill="#2a2a2a" class="t2" stroke="#2a2a2a" stroke-width="0.25">4</text>
<path d="M162.31,289.14 A61.78,57.10 0 0 1 161.74,291.79 L156.04,290.60 A55.94,51.70 0 0 0 156.55,288.21Z" fill="#e6e6e6"/>
<path d="M161.74,291.79 A61.78,57.10 0 0 1 161.50,292.74 L155.82,291.47 A55.94,51.70 0 0 0 156.04,290.60Z" fill="#8a8a8a"/>
<path d="M161.50,292.74 A61.78,57.10 0 0 1 161.40,293.11 L155.73,291.80 A55.94,51.70 0 0 0 155.82,291.47Z" fill="#1a1a1a"/>
<path d="M161.40,293.11 A61.78,57.10 0 0 1 160.68,295.53 L155.08,293.99 A55.94,51.70 0 0 0 155.73,291.80Z" fill="#d2d2d2"/>
<path d="M160.68,295.53 A61.78,57.10 0 0 1 160.50,296.10 L154.91,294.51 A55.94,51.70 0 0 0 155.08,293.99Z" fill="#1a1a1a"/>
<path d="M160.50,296.10 A61.78,57.10 0 0 1 160.31,296.65 L154.75,295.01 A55.94,51.70 0 0 0 154.91,294.51Z" fill="#555555"/>
<path d="M160.31,296.65 A61.78,57.10 0 0 1 160.16,297.08 L154.61,295.40 A55.94,51.70 0 0 0 154.75,295.01Z" fill="#1a1a1a"/>
<path d="M160.16,297.08 A61.78,57.10 0 0 1 159.24,299.50 L153.77,297.59 A55.94,51.70 0 0 0 154.61,295.40Z" fill="#8a8a8a"/>
<path d="M159.24,299.50 A61.78,57.10 0 0 1 159.06,299.93 L153.61,297.98 A55.94,51.70 0 0 0 153.77,297.59Z" fill="#555555"/>
<path d="M159.06,299.93 A61.78,57.10 0 0 1 158.10,302.09 L152.74,299.94 A55.94,51.70 0 0 0 153.61,297.98Z" fill="#d2d2d2"/>
<path d="M158.10,302.09 A61.78,57.10 0 0 1 157.78,302.76 L152.45,300.54 A55.94,51.70 0 0 0 152.74,299.94Z" fill="#b4b4b4"/>
<path d="M157.78,302.76 A61.78,57.10 0 0 1 157.46,303.39 L152.17,301.12 A55.94,51.70 0 0 0 152.45,300.54Z" fill="#1a1a1a"/>
<path d="M157.46,303.39 A61.78,57.10 0 0 1 157.12,304.07 L151.85,301.72 A55.94,51.70 0 0 0 152.17,301.12Z" fill="#1a1a1a"/>
<path d="M157.12,304.07 A61.78,57.10 0 0 1 156.92,304.44 L151.68,302.06 A55.94,51.70 0 0 0 151.85,301.72Z" fill="#1a1a1a"/>
<path d="M156.92,304.44 A61.78,57.10 0 0 1 156.34,305.51 L151.15,303.03 A55.94,51.70 0 0 0 151.68,302.06Z" fill="#b4b4b4"/>
<path d="M156.34,305.51 A61.78,57.10 0 0 1 155.88,306.32 L150.73,303.77 A55.94,51.70 0 0 0 151.15,303.03Z" fill="#e6e6e6"/>
<path d="M155.88,306.32 A61.78,57.10 0 0 1 155.10,307.62 L150.02,304.94 A55.94,51.70 0 0 0 150.73,303.77Z" fill="#d8c4ca"/>
<path d="M155.10,307.62 A61.78,57.10 0 0 1 154.85,308.01 L149.80,305.30 A55.94,51.70 0 0 0 150.02,304.94Z" fill="#1a1a1a"/>
<path d="M154.85,308.01 A61.78,57.10 0 0 1 154.65,308.34 L149.62,305.59 A55.94,51.70 0 0 0 149.80,305.30Z" fill="#1a1a1a"/>
<path d="M154.65,308.34 A61.78,57.10 0 0 1 154.43,308.68 L149.42,305.90 A55.94,51.70 0 0 0 149.62,305.59Z" fill="#f0f0f0"/>
<text transform="translate(170.00,302.19) rotate(20.2)" x="0" y="2.1" font-size="5.4" text-anchor="middle" fill="#2a2a2a" class="t2" stroke="#2a2a2a" stroke-width="0.25">5</text>
<path d="M154.43,308.68 A61.78,57.10 0 0 1 154.01,309.31 L149.04,306.47 A55.94,51.70 0 0 0 149.42,305.90Z" fill="#1a1a1a"/>
<path d="M154.01,309.31 A61.78,57.10 0 0 1 153.25,310.42 L148.35,307.48 A55.94,51.70 0 0 0 149.04,306.47Z" fill="#8a8a8a"/>
<path d="M153.25,310.42 A61.78,57.10 0 0 1 153.03,310.74 L148.15,307.76 A55.94,51.70 0 0 0 148.35,307.48Z" fill="#1a1a1a"/>
<path d="M153.03,310.74 A61.78,57.10 0 0 1 151.42,312.88 L146.69,309.70 A55.94,51.70 0 0 0 148.15,307.76Z" fill="#d8c4ca"/>
<path d="M151.42,312.88 A61.78,57.10 0 0 1 151.14,313.23 L146.44,310.02 A55.94,51.70 0 0 0 146.69,309.70Z" fill="#1a1a1a"/>
<path d="M151.14,313.23 A61.78,57.10 0 0 1 149.83,314.81 L145.26,311.45 A55.94,51.70 0 0 0 146.44,310.02Z" fill="#d8c4ca"/>
<path d="M149.83,314.81 A61.78,57.10 0 0 1 148.57,316.23 L144.12,312.74 A55.94,51.70 0 0 0 145.26,311.45Z" fill="#b4b4b4"/>
<path d="M148.57,316.23 A61.78,57.10 0 0 1 148.18,316.66 L143.76,313.12 A55.94,51.70 0 0 0 144.12,312.74Z" fill="#1a1a1a"/>
<path d="M148.18,316.66 A61.78,57.10 0 0 1 147.90,316.94 L143.51,313.38 A55.94,51.70 0 0 0 143.76,313.12Z" fill="#1a1a1a"/>
<path d="M147.90,316.94 A61.78,57.10 0 0 1 146.98,317.90 L142.67,314.25 A55.94,51.70 0 0 0 143.51,313.38Z" fill="#d8c4ca"/>
<path d="M146.98,317.90 A61.78,57.10 0 0 1 145.76,319.09 L141.57,315.33 A55.94,51.70 0 0 0 142.67,314.25Z" fill="#b4b4b4"/>
<path d="M145.76,319.09 A61.78,57.10 0 0 1 144.19,320.53 L140.15,316.63 A55.94,51.70 0 0 0 141.57,315.33Z" fill="#bca4ac"/>
<path d="M144.19,320.53 A61.78,57.10 0 0 1 143.82,320.86 L139.81,316.93 A55.94,51.70 0 0 0 140.15,316.63Z" fill="#1a1a1a"/>
<path d="M143.82,320.86 A61.78,57.10 0 0 1 142.73,321.78 L138.83,317.76 A55.94,51.70 0 0 0 139.81,316.93Z" fill="#d2d2d2"/>
<path d="M142.73,321.78 A61.78,57.10 0 0 1 142.34,322.10 L138.48,318.05 A55.94,51.70 0 0 0 138.83,317.76Z" fill="#1a1a1a"/>
<path d="M142.34,322.10 A61.78,57.10 0 0 1 140.83,323.30 L137.11,319.13 A55.94,51.70 0 0 0 138.48,318.05Z" fill="#8a8a8a"/>
<path d="M140.83,323.30 A61.78,57.10 0 0 1 140.78,323.34 L137.06,319.17 A55.94,51.70 0 0 0 137.11,319.13Z" fill="#1a1a1a"/>
<path d="M140.78,323.34 A61.78,57.10 0 0 1 140.45,323.59 L136.76,319.40 A55.94,51.70 0 0 0 137.06,319.17Z" fill="#f0f0f0"/>
<text transform="translate(157.02,322.89) rotate(40.7)" x="0" y="2.1" font-size="5.4" text-anchor="middle" fill="#2a2a2a" class="t2" stroke="#2a2a2a" stroke-width="0.25">6</text>
<path d="M140.45,323.59 A61.78,57.10 0 0 1 139.97,323.95 L136.32,319.72 A55.94,51.70 0 0 0 136.76,319.40Z" fill="#1a1a1a"/>
<path d="M139.97,323.95 A61.78,57.10 0 0 1 139.46,324.32 L135.86,320.06 A55.94,51.70 0 0 0 136.32,319.72Z" fill="#1a1a1a"/>
<path d="M139.46,324.32 A61.78,57.10 0 0 1 138.33,325.11 L134.84,320.78 A55.94,51.70 0 0 0 135.86,320.06Z" fill="#d2d2d2"/>
<path d="M138.33,325.11 A61.78,57.10 0 0 1 136.81,326.12 L133.47,321.69 A55.94,51.70 0 0 0 134.84,320.78Z" fill="#d2d2d2"/>
<path d="M136.81,326.12 A61.78,57.10 0 0 1 136.22,326.50 L132.93,322.04 A55.94,51.70 0 0 0 133.47,321.69Z" fill="#555555"/>
<path d="M136.22,326.50 A61.78,57.10 0 0 1 135.45,326.98 L132.23,322.47 A55.94,51.70 0 0 0 132.93,322.04Z" fill="#bca4ac"/>
<path d="M135.45,326.98 A61.78,57.10 0 0 1 134.48,327.55 L131.36,322.99 A55.94,51.70 0 0 0 132.23,322.47Z" fill="#d2d2d2"/>
<path d="M134.48,327.55 A61.78,57.10 0 0 1 131.92,328.97 L129.04,324.27 A55.94,51.70 0 0 0 131.36,322.99Z" fill="#d2d2d2"/>
<path d="M131.92,328.97 A61.78,57.10 0 0 1 131.40,329.24 L128.57,324.52 A55.94,51.70 0 0 0 129.04,324.27Z" fill="#1a1a1a"/>
<path d="M131.40,329.24 A61.78,57.10 0 0 1 130.73,329.58 L127.96,324.82 A55.94,51.70 0 0 0 128.57,324.52Z" fill="#1a1a1a"/>
<path d="M130.73,329.58 A61.78,57.10 0 0 1 129.78,330.04 L127.10,325.24 A55.94,51.70 0 0 0 127.96,324.82Z" fill="#e6e6e6"/>
<path d="M129.78,330.04 A61.78,57.10 0 0 1 129.10,330.36 L126.48,325.54 A55.94,51.70 0 0 0 127.10,325.24Z" fill="#1a1a1a"/>
<path d="M129.10,330.36 A61.78,57.10 0 0 1 126.77,331.38 L124.38,326.46 A55.94,51.70 0 0 0 126.48,325.54Z" fill="#e6e6e6"/>
<path d="M126.77,331.38 A61.78,57.10 0 0 1 124.32,332.34 L122.16,327.33 A55.94,51.70 0 0 0 124.38,326.46Z" fill="#b4b4b4"/>
<path d="M124.32,332.34 A61.78,57.10 0 0 1 123.80,332.53 L121.68,327.50 A55.94,51.70 0 0 0 122.16,327.33Z" fill="#1a1a1a"/>
<path d="M123.80,332.53 A61.78,57.10 0 0 1 123.63,332.60 L121.53,327.55 A55.94,51.70 0 0 0 121.68,327.50Z" fill="#b4b4b4"/>
<path d="M123.63,332.60 A61.78,57.10 0 0 1 123.22,332.74 L121.16,327.68 A55.94,51.70 0 0 0 121.53,327.55Z" fill="#f0f0f0"/>
<text transform="translate(138.54,337.29) rotate(59.9)" x="0" y="2.1" font-size="5.4" text-anchor="middle" fill="#2a2a2a" class="t2" stroke="#2a2a2a" stroke-width="0.25">7</text>
<path d="M123.22,332.74 A61.78,57.10 0 0 1 122.84,332.87 L120.82,327.80 A55.94,51.70 0 0 0 121.16,327.68Z" fill="#1a1a1a"/>
<path d="M122.84,332.87 A61.78,57.10 0 0 1 120.06,333.75 L118.30,328.60 A55.94,51.70 0 0 0 120.82,327.80Z" fill="#d2d2d2"/>
<path d="M120.06,333.75 A61.78,57.10 0 0 1 118.15,334.27 L116.57,329.08 A55.94,51.70 0 0 0 118.30,328.60Z" fill="#8a8a8a"/>
<path d="M118.15,334.27 A61.78,57.10 0 0 1 117.62,334.41 L116.09,329.20 A55.94,51.70 0 0 0 116.57,329.08Z" fill="#555555"/>
<path d="M117.62,334.41 A61.78,57.10 0 0 1 117.25,334.50 L115.75,329.28 A55.94,51.70 0 0 0 116.09,329.20Z" fill="#1a1a1a"/>
<path d="M117.25,334.50 A61.78,57.10 0 0 1 116.64,334.65 L115.21,329.41 A55.94,51.70 0 0 0 115.75,329.28Z" fill="#555555"/>
<path d="M116.64,334.65 A61.78,57.10 0 0 1 116.22,334.74 L114.82,329.50 A55.94,51.70 0 0 0 115.21,329.41Z" fill="#555555"/>
<path d="M116.22,334.74 A61.78,57.10 0 0 1 115.50,334.90 L114.18,329.64 A55.94,51.70 0 0 0 114.82,329.50Z" fill="#1a1a1a"/>
<path d="M115.50,334.90 A61.78,57.10 0 0 1 114.88,335.03 L113.61,329.76 A55.94,51.70 0 0 0 114.18,329.64Z" fill="#555555"/>
<path d="M114.88,335.03 A61.78,57.10 0 0 1 114.29,335.15 L113.07,329.87 A55.94,51.70 0 0 0 113.61,329.76Z" fill="#1a1a1a"/>
<path d="M114.29,335.15 A61.78,57.10 0 0 1 112.43,335.49 L111.40,330.18 A55.94,51.70 0 0 0 113.07,329.87Z" fill="#b4b4b4"/>
<path d="M112.43,335.49 A61.78,57.10 0 0 1 110.71,335.75 L109.83,330.42 A55.94,51.70 0 0 0 111.40,330.18Z" fill="#b4b4b4"/>
<path d="M110.71,335.75 A61.78,57.10 0 0 1 110.13,335.83 L109.31,330.49 A55.94,51.70 0 0 0 109.83,330.42Z" fill="#1a1a1a"/>
<path d="M110.13,335.83 A61.78,57.10 0 0 1 109.58,335.90 L108.81,330.55 A55.94,51.70 0 0 0 109.31,330.49Z" fill="#1a1a1a"/>
<path d="M109.58,335.90 A61.78,57.10 0 0 1 107.57,336.12 L106.99,330.75 A55.94,51.70 0 0 0 108.81,330.55Z" fill="#e6e6e6"/>
<path d="M107.57,336.12 A61.78,57.10 0 0 1 106.91,336.18 L106.40,330.80 A55.94,51.70 0 0 0 106.99,330.75Z" fill="#1a1a1a"/>
<path d="M106.91,336.18 A61.78,57.10 0 0 1 106.32,336.22 L105.86,330.84 A55.94,51.70 0 0 0 106.40,330.80Z" fill="#1a1a1a"/>
<path d="M106.32,336.22 A61.78,57.10 0 0 1 105.77,336.26 L105.36,330.87 A55.94,51.70 0 0 0 105.86,330.84Z" fill="#1a1a1a"/>
<path d="M105.77,336.26 A61.78,57.10 0 0 1 105.34,336.29 L104.97,330.90 A55.94,51.70 0 0 0 105.36,330.87Z" fill="#f0f0f0"/>
<text transform="translate(117.81,344.84) rotate(77.7)" x="0" y="2.1" font-size="5.4" text-anchor="middle" fill="#2a2a2a" class="t2" stroke="#2a2a2a" stroke-width="0.25">8</text>
<path d="M105.34,336.29 A61.78,57.10 0 0 1 104.66,336.32 L104.36,330.93 A55.94,51.70 0 0 0 104.97,330.90Z" fill="#1a1a1a"/>
<path d="M104.66,336.32 A61.78,57.10 0 0 1 103.98,336.35 L103.75,330.96 A55.94,51.70 0 0 0 104.36,330.93Z" fill="#555555"/>
<path d="M103.98,336.35 A61.78,57.10 0 0 1 101.56,336.40 L101.55,331.00 A55.94,51.70 0 0 0 103.75,330.96Z" fill="#8a8a8a"/>
<path d="M101.56,336.40 A61.78,57.10 0 0 1 98.87,336.35 L99.11,330.95 A55.94,51.70 0 0 0 101.55,331.00Z" fill="#e6e6e6"/>
<path d="M98.87,336.35 A61.78,57.10 0 0 1 95.95,336.17 L96.47,330.79 A55.94,51.70 0 0 0 99.11,330.95Z" fill="#8a8a8a"/>
<path d="M95.95,336.17 A61.78,57.10 0 0 1 95.48,336.13 L96.04,330.76 A55.94,51.70 0 0 0 96.47,330.79Z" fill="#1a1a1a"/>
<path d="M95.48,336.13 A61.78,57.10 0 0 1 93.45,335.92 L94.20,330.56 A55.94,51.70 0 0 0 96.04,330.76Z" fill="#d2d2d2"/>
<path d="M93.45,335.92 A61.78,57.10 0 0 1 92.58,335.81 L93.42,330.46 A55.94,51.70 0 0 0 94.20,330.56Z" fill="#b4b4b4"/>
<path d="M92.58,335.81 A61.78,57.10 0 0 1 91.99,335.73 L92.88,330.39 A55.94,51.70 0 0 0 93.42,330.46Z" fill="#1a1a1a"/>
<path d="M91.99,335.73 A61.78,57.10 0 0 1 90.88,335.56 L91.88,330.24 A55.94,51.70 0 0 0 92.88,330.39Z" fill="#b4b4b4"/>
<path d="M90.88,335.56 A61.78,57.10 0 0 1 90.04,335.42 L91.12,330.11 A55.94,51.70 0 0 0 91.88,330.24Z" fill="#d8c4ca"/>
<path d="M90.04,335.42 A61.78,57.10 0 0 1 88.17,335.07 L89.43,329.79 A55.94,51.70 0 0 0 91.12,330.11Z" fill="#8a8a8a"/>
<path d="M88.17,335.07 A61.78,57.10 0 0 1 87.75,334.98 L89.05,329.71 A55.94,51.70 0 0 0 89.43,329.79Z" fill="#f0f0f0"/>
<text transform="translate(96.92,346.20) rotate(-85.6)" x="0" y="2.1" font-size="5.4" text-anchor="middle" fill="#2a2a2a" class="t2" stroke="#2a2a2a" stroke-width="0.25">9</text>
<path d="M87.75,334.98 A61.78,57.10 0 0 1 86.43,334.69 L87.85,329.45 A55.94,51.70 0 0 0 89.05,329.71Z" fill="#e6e6e6"/>
<path d="M86.43,334.69 A61.78,57.10 0 0 1 85.74,334.52 L87.22,329.30 A55.94,51.70 0 0 0 87.85,329.45Z" fill="#1a1a1a"/>
<path d="M85.74,334.52 A61.78,57.10 0 0 1 83.18,333.85 L84.91,328.69 A55.94,51.70 0 0 0 87.22,329.30Z" fill="#b4b4b4"/>
<path d="M83.18,333.85 A61.78,57.10 0 0 1 82.44,333.63 L84.24,328.49 A55.94,51.70 0 0 0 84.91,328.69Z" fill="#555555"/>
<path d="M82.44,333.63 A61.78,57.10 0 0 1 81.75,333.42 L83.61,328.30 A55.94,51.70 0 0 0 84.24,328.49Z" fill="#555555"/>
<path d="M81.75,333.42 A61.78,57.10 0 0 1 81.26,333.27 L83.17,328.16 A55.94,51.70 0 0 0 83.61,328.30Z" fill="#1a1a1a"/>
<path d="M81.26,333.27 A61.78,57.10 0 0 1 80.28,332.94 L82.28,327.87 A55.94,51.70 0 0 0 83.17,328.16Z" fill="#e6e6e6"/>
<path d="M80.28,332.94 A61.78,57.10 0 0 1 79.68,332.74 L81.74,327.69 A55.94,51.70 0 0 0 82.28,327.87Z" fill="#1a1a1a"/>
<path d="M79.68,332.74 A61.78,57.10 0 0 1 79.21,332.57 L81.31,327.53 A55.94,51.70 0 0 0 81.74,327.69Z" fill="#1a1a1a"/>
<path d="M79.21,332.57 A61.78,57.10 0 0 1 77.99,332.12 L80.21,327.13 A55.94,51.70 0 0 0 81.31,327.53Z" fill="#b4b4b4"/>
<path d="M77.99,332.12 A61.78,57.10 0 0 1 77.46,331.92 L79.73,326.94 A55.94,51.70 0 0 0 80.21,327.13Z" fill="#1a1a1a"/>
<path d="M77.46,331.92 A61.78,57.10 0 0 1 76.73,331.63 L79.07,326.68 A55.94,51.70 0 0 0 79.73,326.94Z" fill="#8a8a8a"/>
<path d="M76.73,331.63 A61.78,57.10 0 0 1 74.79,330.81 L77.31,325.94 A55.94,51.70 0 0 0 79.07,326.68Z" fill="#d2d2d2"/>
<path d="M74.79,330.81 A61.78,57.10 0 0 1 74.24,330.57 L76.82,325.72 A55.94,51.70 0 0 0 77.31,325.94Z" fill="#1a1a1a"/>
<path d="M74.24,330.57 A61.78,57.10 0 0 1 73.02,329.99 L75.71,325.20 A55.94,51.70 0 0 0 76.82,325.72Z" fill="#8a8a8a"/>
<path d="M73.02,329.99 A61.78,57.10 0 0 1 72.28,329.64 L75.04,324.88 A55.94,51.70 0 0 0 75.71,325.20Z" fill="#b4b4b4"/>
<path d="M72.28,329.64 A61.78,57.10 0 0 1 71.90,329.45 L74.70,324.70 A55.94,51.70 0 0 0 75.04,324.88Z" fill="#f0f0f0"/>
<text transform="translate(77.25,342.12) rotate(-69.5)" x="0" y="2.1" font-size="5.4" text-anchor="middle" fill="#2a2a2a" class="t2" stroke="#2a2a2a" stroke-width="0.25">10</text>
<path d="M71.90,329.45 A61.78,57.10 0 0 1 69.69,328.28 L72.70,323.65 A55.94,51.70 0 0 0 74.70,324.70Z" fill="#d2d2d2"/>
<path d="M69.69,328.28 A61.78,57.10 0 0 1 67.19,326.82 L70.43,322.32 A55.94,51.70 0 0 0 72.70,323.65Z" fill="#8a8a8a"/>
<path d="M67.19,326.82 A61.78,57.10 0 0 1 65.65,325.84 L69.04,321.44 A55.94,51.70 0 0 0 70.43,322.32Z" fill="#d2d2d2"/>
<path d="M65.65,325.84 A61.78,57.10 0 0 1 63.65,324.47 L67.22,320.19 A55.94,51.70 0 0 0 69.04,321.44Z" fill="#8a8a8a"/>
<path d="M63.65,324.47 A61.78,57.10 0 0 1 63.32,324.22 L66.92,319.98 A55.94,51.70 0 0 0 67.22,320.19Z" fill="#1a1a1a"/>
<path d="M63.32,324.22 A61.78,57.10 0 0 1 62.77,323.82 L66.43,319.61 A55.94,51.70 0 0 0 66.92,319.98Z" fill="#1a1a1a"/>
<path d="M62.77,323.82 A61.78,57.10 0 0 1 61.24,322.65 L65.04,318.55 A55.94,51.70 0 0 0 66.43,319.61Z" fill="#d8c4ca"/>
<path d="M61.24,322.65 A61.78,57.10 0 0 1 59.39,321.12 L63.37,317.17 A55.94,51.70 0 0 0 65.04,318.55Z" fill="#d8c4ca"/>
<path d="M59.39,321.12 A61.78,57.10 0 0 1 58.93,320.73 L62.95,316.81 A55.94,51.70 0 0 0 63.37,317.17Z" fill="#555555"/>
<path d="M58.93,320.73 A61.78,57.10 0 0 1 58.63,320.46 L62.68,316.57 A55.94,51.70 0 0 0 62.95,316.81Z" fill="#555555"/>
<path d="M58.63,320.46 A61.78,57.10 0 0 1 58.32,320.19 L62.40,316.32 A55.94,51.70 0 0 0 62.68,316.57Z" fill="#f0f0f0"/>
<text transform="translate(59.91,333.34) rotate(-53.8)" x="0" y="2.1" font-size="5.4" text-anchor="middle" fill="#2a2a2a" class="t2" stroke="#2a2a2a" stroke-width="0.25">11</text>
<path d="M58.32,320.19 A61.78,57.10 0 0 1 57.92,319.82 L62.04,315.99 A55.94,51.70 0 0 0 62.40,316.32Z" fill="#1a1a1a"/>
<path d="M57.92,319.82 A61.78,57.10 0 0 1 57.53,319.46 L61.68,315.66 A55.94,51.70 0 0 0 62.04,315.99Z" fill="#1a1a1a"/>
<path d="M57.53,319.46 A61.78,57.10 0 0 1 55.79,317.76 L60.11,314.13 A55.94,51.70 0 0 0 61.68,315.66Z" fill="#b4b4b4"/>
<path d="M55.79,317.76 A61.78,57.10 0 0 1 54.55,316.47 L58.99,312.96 A55.94,51.70 0 0 0 60.11,314.13Z" fill="#b4b4b4"/>
<path d="M54.55,316.47 A61.78,57.10 0 0 1 54.31,316.20 L58.76,312.71 A55.94,51.70 0 0 0 58.99,312.96Z" fill="#1a1a1a"/>
<path d="M54.31,316.20 A61.78,57.10 0 0 1 53.42,315.22 L57.96,311.82 A55.94,51.70 0 0 0 58.76,312.71Z" fill="#8a8a8a"/>
<path d="M53.42,315.22 A61.78,57.10 0 0 1 51.74,313.21 L56.44,310.00 A55.94,51.70 0 0 0 57.96,311.82Z" fill="#d2d2d2"/>
<path d="M51.74,313.21 A61.78,57.10 0 0 1 50.63,311.77 L55.44,308.70 A55.94,51.70 0 0 0 56.44,310.00Z" fill="#d8c4ca"/>
<path d="M50.63,311.77 A61.78,57.10 0 0 1 49.63,310.39 L54.53,307.45 A55.94,51.70 0 0 0 55.44,308.70Z" fill="#d2d2d2"/>
<path d="M49.63,310.39 A61.78,57.10 0 0 1 48.73,309.07 L53.72,306.26 A55.94,51.70 0 0 0 54.53,307.45Z" fill="#b4b4b4"/>
<path d="M48.73,309.07 A61.78,57.10 0 0 1 48.50,308.72 L53.51,305.93 A55.94,51.70 0 0 0 53.72,306.26Z" fill="#1a1a1a"/>
<path d="M48.50,308.72 A61.78,57.10 0 0 1 48.25,308.34 L53.28,305.59 A55.94,51.70 0 0 0 53.51,305.93Z" fill="#8a8a8a"/>
<path d="M48.25,308.34 A61.78,57.10 0 0 1 48.03,307.99 L53.09,305.28 A55.94,51.70 0 0 0 53.28,305.59Z" fill="#f0f0f0"/>
<text transform="translate(45.83,320.55) rotate(-38.1)" x="0" y="2.1" font-size="5.4" text-anchor="middle" fill="#2a2a2a" class="t2" stroke="#2a2a2a" stroke-width="0.25">12</text>
<path d="M48.03,307.99 A61.78,57.10 0 0 1 47.76,307.55 L52.84,304.88 A55.94,51.70 0 0 0 53.09,305.28Z" fill="#1a1a1a"/>
<path d="M47.76,307.55 A61.78,57.10 0 0 1 47.39,306.95 L52.51,304.34 A55.94,51.70 0 0 0 52.84,304.88Z" fill="#555555"/>
<path d="M47.39,306.95 A61.78,57.10 0 0 1 46.42,305.25 L51.62,302.80 A55.94,51.70 0 0 0 52.51,304.34Z" fill="#b4b4b4"/>
<path d="M46.42,305.25 A61.78,57.10 0 0 1 45.21,302.93 L50.53,300.70 A55.94,51.70 0 0 0 51.62,302.80Z" fill="#b4b4b4"/>
<path d="M45.21,302.93 A61.78,57.10 0 0 1 44.46,301.35 L49.85,299.26 A55.94,51.70 0 0 0 50.53,300.70Z" fill="#b4b4b4"/>
<path d="M44.46,301.35 A61.78,57.10 0 0 1 43.65,299.46 L49.11,297.55 A55.94,51.70 0 0 0 49.85,299.26Z" fill="#b4b4b4"/>
<path d="M43.65,299.46 A61.78,57.10 0 0 1 43.42,298.89 L48.91,297.04 A55.94,51.70 0 0 0 49.11,297.55Z" fill="#555555"/>
<path d="M43.42,298.89 A61.78,57.10 0 0 1 42.70,296.98 L48.26,295.31 A55.94,51.70 0 0 0 48.91,297.04Z" fill="#bca4ac"/>
<path d="M42.70,296.98 A61.78,57.10 0 0 1 42.42,296.15 L48.00,294.56 A55.94,51.70 0 0 0 48.26,295.31Z" fill="#d2d2d2"/>
<path d="M42.42,296.15 A61.78,57.10 0 0 1 42.29,295.77 L47.89,294.21 A55.94,51.70 0 0 0 48.00,294.56Z" fill="#f0f0f0"/>
<text transform="translate(36.50,305.93) rotate(-23.7)" x="0" y="2.1" font-size="5.4" text-anchor="middle" fill="#2a2a2a" class="t2" stroke="#2a2a2a" stroke-width="0.25">13</text>
<path d="M42.29,295.77 A61.78,57.10 0 0 1 41.62,293.55 L47.28,292.20 A55.94,51.70 0 0 0 47.89,294.21Z" fill="#d2d2d2"/>
<path d="M41.62,293.55 A61.78,57.10 0 0 1 41.50,293.11 L47.17,291.81 A55.94,51.70 0 0 0 47.28,292.20Z" fill="#1a1a1a"/>
<path d="M41.50,293.11 A61.78,57.10 0 0 1 40.98,290.99 L46.70,289.88 A55.94,51.70 0 0 0 47.17,291.81Z" fill="#e6e6e6"/>
<path d="M40.98,290.99 A61.78,57.10 0 0 1 40.83,290.32 L46.56,289.28 A55.94,51.70 0 0 0 46.70,289.88Z" fill="#1a1a1a"/>
<path d="M40.83,290.32 A61.78,57.10 0 0 1 40.75,289.96 L46.49,288.95 A55.94,51.70 0 0 0 46.56,289.28Z" fill="#555555"/>
<path d="M40.75,289.96 A61.78,57.10 0 0 1 40.43,288.22 L46.20,287.38 A55.94,51.70 0 0 0 46.49,288.95Z" fill="#b4b4b4"/>
<path d="M40.43,288.22 A61.78,57.10 0 0 1 40.33,287.62 L46.11,286.83 A55.94,51.70 0 0 0 46.20,287.38Z" fill="#555555"/>
<path d="M40.33,287.62 A61.78,57.10 0 0 1 40.22,286.90 L46.01,286.18 A55.94,51.70 0 0 0 46.11,286.83Z" fill="#555555"/>
<path d="M40.22,286.90 A61.78,57.10 0 0 1 40.13,286.28 L45.93,285.62 A55.94,51.70 0 0 0 46.01,286.18Z" fill="#555555"/>
<path d="M40.13,286.28 A61.78,57.10 0 0 1 40.08,285.85 L45.88,285.23 A55.94,51.70 0 0 0 45.93,285.62Z" fill="#1a1a1a"/>
<path d="M40.08,285.85 A61.78,57.10 0 0 1 40.03,285.48 L45.84,284.89 A55.94,51.70 0 0 0 45.88,285.23Z" fill="#1a1a1a"/>
<path d="M40.03,285.48 A61.78,57.10 0 0 1 39.87,283.96 L45.70,283.52 A55.94,51.70 0 0 0 45.84,284.89Z" fill="#8a8a8a"/>
<path d="M39.87,283.96 A61.78,57.10 0 0 1 39.84,283.56 L45.67,283.16 A55.94,51.70 0 0 0 45.70,283.52Z" fill="#f0f0f0"/>
<text transform="translate(31.71,291.38) rotate(-10.7)" x="0" y="2.1" font-size="5.4" text-anchor="middle" fill="#2a2a2a" class="t2" stroke="#2a2a2a" stroke-width="0.25">14</text>
<path d="M39.84,283.56 A61.78,57.10 0 0 1 39.74,282.10 L45.58,281.83 A55.94,51.70 0 0 0 45.67,283.16Z" fill="#8a8a8a"/>
<path d="M39.74,282.10 A61.78,57.10 0 0 1 39.71,281.49 L45.55,281.28 A55.94,51.70 0 0 0 45.58,281.83Z" fill="#1a1a1a"/>
<path d="M39.71,281.49 A61.78,57.10 0 0 1 39.67,279.30 L45.51,279.30 A55.94,51.70 0 0 0 45.55,281.28Z" fill="#d2d2d2"/>
<path d="M39.67,279.30 A61.78,57.10 0 0 1 39.68,278.04 L45.52,278.16 A55.94,51.70 0 0 0 45.51,279.30Z" fill="#8a8a8a"/>
<path d="M39.68,278.04 A61.78,57.10 0 0 1 39.72,276.85 L45.56,277.09 A55.94,51.70 0 0 0 45.52,278.16Z" fill="#8a8a8a"/>
<path d="M39.72,276.85 A61.78,57.10 0 0 1 39.78,275.80 L45.62,276.13 A55.94,51.70 0 0 0 45.56,277.09Z" fill="#d2d2d2"/>
<path d="M39.78,275.80 A61.78,57.10 0 0 1 39.81,275.36 L45.64,275.73 A55.94,51.70 0 0 0 45.62,276.13Z" fill="#1a1a1a"/>
<path d="M39.81,275.36 A61.78,57.10 0 0 1 40.09,272.66 L45.89,273.29 A55.94,51.70 0 0 0 45.64,275.73Z" fill="#b4b4b4"/>
<path d="M40.09,272.66 A61.78,57.10 0 0 1 40.16,272.11 L45.96,272.79 A55.94,51.70 0 0 0 45.89,273.29Z" fill="#1a1a1a"/>
<path d="M40.16,272.11 A61.78,57.10 0 0 1 40.22,271.71 L46.01,272.43 A55.94,51.70 0 0 0 45.96,272.79Z" fill="#f0f0f0"/>
<text transform="translate(30.47,277.06) rotate(1.5)" x="0" y="2.1" font-size="5.4" text-anchor="middle" fill="#2a2a2a" class="t2" stroke="#2a2a2a" stroke-width="0.25">15</text>
<path d="M40.22,271.71 A61.78,57.10 0 0 1 40.29,271.19 L46.08,271.96 A55.94,51.70 0 0 0 46.01,272.43Z" fill="#1a1a1a"/>
<path d="M40.29,271.19 A61.78,57.10 0 0 1 40.69,268.93 L46.44,269.91 A55.94,51.70 0 0 0 46.08,271.96Z" fill="#d2d2d2"/>
<path d="M40.69,268.93 A61.78,57.10 0 0 1 40.92,267.86 L46.65,268.94 A55.94,51.70 0 0 0 46.44,269.91Z" fill="#8a8a8a"/>
<path d="M40.92,267.86 A61.78,57.10 0 0 1 41.16,266.84 L46.86,268.02 A55.94,51.70 0 0 0 46.65,268.94Z" fill="#d8c4ca"/>
<path d="M41.16,266.84 A61.78,57.10 0 0 1 41.57,265.26 L47.23,266.58 A55.94,51.70 0 0 0 46.86,268.02Z" fill="#e6e6e6"/>
<path d="M41.57,265.26 A61.78,57.10 0 0 1 42.20,263.11 L47.81,264.64 A55.94,51.70 0 0 0 47.23,266.58Z" fill="#8a8a8a"/>
<path d="M42.20,263.11 A61.78,57.10 0 0 1 42.60,261.92 L48.16,263.57 A55.94,51.70 0 0 0 47.81,264.64Z" fill="#8a8a8a"/>
<path d="M42.60,261.92 A61.78,57.10 0 0 1 42.61,261.90 L48.17,263.54 A55.94,51.70 0 0 0 48.16,263.57Z" fill="#1a1a1a"/>
<path d="M42.61,261.90 A61.78,57.10 0 0 1 42.74,261.52 L48.29,263.20 A55.94,51.70 0 0 0 48.17,263.54Z" fill="#f0f0f0"/>
<text transform="translate(32.21,263.95) rotate(12.7)" x="0" y="2.1" font-size="5.4" text-anchor="middle" fill="#2a2a2a" class="t2" stroke="#2a2a2a" stroke-width="0.25">16</text>
<path d="M42.74,261.52 A61.78,57.10 0 0 1 43.25,260.14 L48.75,261.95 A55.94,51.70 0 0 0 48.29,263.20Z" fill="#b4b4b4"/>
<path d="M43.25,260.14 A61.78,57.10 0 0 1 43.70,259.01 L49.16,260.93 A55.94,51.70 0 0 0 48.75,261.95Z" fill="#b4b4b4"/>
<path d="M43.70,259.01 A61.78,57.10 0 0 1 43.85,258.65 L49.30,260.60 A55.94,51.70 0 0 0 49.16,260.93Z" fill="#1a1a1a"/>
<path d="M43.85,258.65 A61.78,57.10 0 0 1 44.00,258.29 L49.44,260.27 A55.94,51.70 0 0 0 49.30,260.60Z" fill="#555555"/>
<path d="M44.00,258.29 A61.78,57.10 0 0 1 44.24,257.74 L49.65,259.78 A55.94,51.70 0 0 0 49.44,260.27Z" fill="#1a1a1a"/>
<path d="M44.24,257.74 A61.78,57.10 0 0 1 44.39,257.41 L49.79,259.48 A55.94,51.70 0 0 0 49.65,259.78Z" fill="#1a1a1a"/>
<path d="M44.39,257.41 A61.78,57.10 0 0 1 45.33,255.42 L50.64,257.68 A55.94,51.70 0 0 0 49.79,259.48Z" fill="#d2d2d2"/>
<path d="M45.33,255.42 A61.78,57.10 0 0 1 46.49,253.21 L51.69,255.68 A55.94,51.70 0 0 0 50.64,257.68Z" fill="#8a8a8a"/>
<path d="M46.49,253.21 A61.78,57.10 0 0 1 46.69,252.86 L51.87,255.36 A55.94,51.70 0 0 0 51.69,255.68Z" fill="#f0f0f0"/>
<text transform="translate(36.01,252.75) rotate(22.7)" x="0" y="2.1" font-size="5.4" text-anchor="middle" fill="#2a2a2a" class="t2" stroke="#2a2a2a" stroke-width="0.25">17</text>
<path d="M46.69,252.86 A61.78,57.10 0 0 1 47.42,251.61 L52.53,254.23 A55.94,51.70 0 0 0 51.87,255.36Z" fill="#d2d2d2"/>
<path d="M47.42,251.61 A61.78,57.10 0 0 1 47.92,250.79 L52.98,253.48 A55.94,51.70 0 0 0 52.53,254.23Z" fill="#b4b4b4"/>
<path d="M47.92,250.79 A61.78,57.10 0 0 1 48.22,250.32 L53.25,253.06 A55.94,51.70 0 0 0 52.98,253.48Z" fill="#555555"/>
<path d="M48.22,250.32 A61.78,57.10 0 0 1 48.46,249.94 L53.47,252.71 A55.94,51.70 0 0 0 53.25,253.06Z" fill="#1a1a1a"/>
<path d="M48.46,249.94 A61.78,57.10 0 0 1 48.79,249.44 L53.77,252.26 A55.94,51.70 0 0 0 53.47,252.71Z" fill="#555555"/>
<path d="M48.79,249.44 A61.78,57.10 0 0 1 49.44,248.47 L54.36,251.39 A55.94,51.70 0 0 0 53.77,252.26Z" fill="#b4b4b4"/>
<path d="M49.44,248.47 A61.78,57.10 0 0 1 50.27,247.31 L55.11,250.34 A55.94,51.70 0 0 0 54.36,251.39Z" fill="#8a8a8a"/>
<path d="M50.27,247.31 A61.78,57.10 0 0 1 51.64,245.52 L56.35,248.71 A55.94,51.70 0 0 0 55.11,250.34Z" fill="#d8c4ca"/>
<path d="M51.64,245.52 A61.78,57.10 0 0 1 51.90,245.20 L56.58,248.42 A55.94,51.70 0 0 0 56.35,248.71Z" fill="#f0f0f0"/>
<text transform="translate(41.34,243.05) rotate(31.9)" x="0" y="2.1" font-size="5.4" text-anchor="middle" fill="#2a2a2a" class="t2" stroke="#2a2a2a" stroke-width="0.25">18</text>
<path d="M51.90,245.20 A61.78,57.10 0 0 1 52.41,244.56 L57.05,247.85 A55.94,51.70 0 0 0 56.58,248.42Z" fill="#d2d2d2"/>
<path d="M52.41,244.56 A61.78,57.10 0 0 1 52.75,244.17 L57.35,247.49 A55.94,51.70 0 0 0 57.05,247.85Z" fill="#1a1a1a"/>
<path d="M52.75,244.17 A61.78,57.10 0 0 1 54.05,242.68 L58.53,246.14 A55.94,51.70 0 0 0 57.35,247.49Z" fill="#e6e6e6"/>
<path d="M54.05,242.68 A61.78,57.10 0 0 1 55.13,241.52 L59.51,245.09 A55.94,51.70 0 0 0 58.53,246.14Z" fill="#e6e6e6"/>
<path d="M55.13,241.52 A61.78,57.10 0 0 1 55.64,240.98 L59.97,244.61 A55.94,51.70 0 0 0 59.51,245.09Z" fill="#1a1a1a"/>
<path d="M55.64,240.98 A61.78,57.10 0 0 1 56.09,240.53 L60.38,244.20 A55.94,51.70 0 0 0 59.97,244.61Z" fill="#1a1a1a"/>
<path d="M56.09,240.53 A61.78,57.10 0 0 1 56.37,240.25 L60.64,243.95 A55.94,51.70 0 0 0 60.38,244.20Z" fill="#555555"/>
<path d="M56.37,240.25 A61.78,57.10 0 0 1 56.67,239.96 L60.90,243.68 A55.94,51.70 0 0 0 60.64,243.95Z" fill="#f0f0f0"/>
<text transform="translate(47.22,235.43) rotate(39.9)" x="0" y="2.1" font-size="5.4" text-anchor="middle" fill="#2a2a2a" class="t2" stroke="#2a2a2a" stroke-width="0.25">19</text>
<path d="M56.67,239.96 A61.78,57.10 0 0 1 57.93,238.77 L62.04,242.60 A55.94,51.70 0 0 0 60.90,243.68Z" fill="#d2d2d2"/>
<path d="M57.93,238.77 A61.78,57.10 0 0 1 58.22,238.51 L62.31,242.37 A55.94,51.70 0 0 0 62.04,242.60Z" fill="#1a1a1a"/>
<path d="M58.22,238.51 A61.78,57.10 0 0 1 58.57,238.19 L62.63,242.08 A55.94,51.70 0 0 0 62.31,242.37Z" fill="#1a1a1a"/>
<path d="M58.57,238.19 A61.78,57.10 0 0 1 58.85,237.94 L62.88,241.85 A55.94,51.70 0 0 0 62.63,242.08Z" fill="#1a1a1a"/>
<path d="M58.85,237.94 A61.78,57.10 0 0 1 60.47,236.57 L64.35,240.61 A55.94,51.70 0 0 0 62.88,241.85Z" fill="#b4b4b4"/>
<path d="M60.47,236.57 A61.78,57.10 0 0 1 62.13,235.26 L65.85,239.42 A55.94,51.70 0 0 0 64.35,240.61Z" fill="#d2d2d2"/>
<path d="M62.13,235.26 A61.78,57.10 0 0 1 62.46,235.01 L66.15,239.19 A55.94,51.70 0 0 0 65.85,239.42Z" fill="#f0f0f0"/>
<text transform="translate(53.35,229.35) rotate(47.0)" x="0" y="2.1" font-size="5.4" text-anchor="middle" fill="#2a2a2a" class="t2" stroke="#2a2a2a" stroke-width="0.25">20</text>
<path d="M62.46,235.01 A61.78,57.10 0 0 1 62.97,234.63 L66.61,238.85 A55.94,51.70 0 0 0 66.15,239.19Z" fill="#555555"/>
<path d="M62.97,234.63 A61.78,57.10 0 0 1 65.32,232.98 L68.74,237.36 A55.94,51.70 0 0 0 66.61,238.85Z" fill="#b4b4b4"/>
<path d="M65.32,232.98 A61.78,57.10 0 0 1 65.95,232.56 L69.31,236.98 A55.94,51.70 0 0 0 68.74,237.36Z" fill="#1a1a1a"/>
<path d="M65.95,232.56 A61.78,57.10 0 0 1 66.48,232.23 L69.79,236.68 A55.94,51.70 0 0 0 69.31,236.98Z" fill="#1a1a1a"/>
<path d="M66.48,232.23 A61.78,57.10 0 0 1 66.96,231.93 L70.22,236.41 A55.94,51.70 0 0 0 69.79,236.68Z" fill="#8a8a8a"/>
<path d="M66.96,231.93 A61.78,57.10 0 0 1 67.32,231.70 L70.55,236.21 A55.94,51.70 0 0 0 70.22,236.41Z" fill="#f0f0f0"/>
<text transform="translate(59.59,224.48) rotate(53.5)" x="0" y="2.1" font-size="5.4" text-anchor="middle" fill="#2a2a2a" class="t2" stroke="#2a2a2a" stroke-width="0.25">21</text>
<path d="M67.32,231.70 A61.78,57.10 0 0 1 67.78,231.42 L70.97,235.95 A55.94,51.70 0 0 0 70.55,236.21Z" fill="#1a1a1a"/>
<path d="M67.78,231.42 A61.78,57.10 0 0 1 68.80,230.82 L71.89,235.41 A55.94,51.70 0 0 0 70.97,235.95Z" fill="#e6e6e6"/>
<path d="M68.80,230.82 A61.78,57.10 0 0 1 70.27,230.01 L73.22,234.67 A55.94,51.70 0 0 0 71.89,235.41Z" fill="#b4b4b4"/>
<path d="M70.27,230.01 A61.78,57.10 0 0 1 72.34,228.94 L75.09,233.70 A55.94,51.70 0 0 0 73.22,234.67Z" fill="#b4b4b4"/>
<path d="M72.34,228.94 A61.78,57.10 0 0 1 72.47,228.87 L75.21,233.64 A55.94,51.70 0 0 0 75.09,233.70Z" fill="#d2d2d2"/>
<path d="M72.47,228.87 A61.78,57.10 0 0 1 72.86,228.68 L75.56,233.47 A55.94,51.70 0 0 0 75.21,233.64Z" fill="#f0f0f0"/>
<text transform="translate(65.64,220.71) rotate(59.2)" x="0" y="2.1" font-size="5.4" text-anchor="middle" fill="#2a2a2a" class="t2" stroke="#2a2a2a" stroke-width="0.25">22</text>
<path d="M72.86,228.68 A61.78,57.10 0 0 1 74.04,228.13 L76.63,232.97 A55.94,51.70 0 0 0 75.56,233.47Z" fill="#d8c4ca"/>
<path d="M74.04,228.13 A61.78,57.10 0 0 1 75.02,227.69 L77.52,232.57 A55.94,51.70 0 0 0 76.63,232.97Z" fill="#e6e6e6"/>
<path d="M75.02,227.69 A61.78,57.10 0 0 1 77.48,226.67 L79.75,231.65 A55.94,51.70 0 0 0 77.52,232.57Z" fill="#d2d2d2"/>
<path d="M77.48,226.67 A61.78,57.10 0 0 1 78.15,226.42 L80.36,231.42 A55.94,51.70 0 0 0 79.75,231.65Z" fill="#1a1a1a"/>
<path d="M78.15,226.42 A61.78,57.10 0 0 1 78.90,226.14 L81.03,231.17 A55.94,51.70 0 0 0 80.36,231.42Z" fill="#555555"/>
<path d="M78.90,226.14 A61.78,57.10 0 0 1 79.69,225.86 L81.75,230.91 A55.94,51.70 0 0 0 81.03,231.17Z" fill="#8a8a8a"/>
<path d="M79.69,225.86 A61.78,57.10 0 0 1 80.20,225.68 L82.21,230.75 A55.94,51.70 0 0 0 81.75,230.91Z" fill="#1a1a1a"/>
<path d="M80.20,225.68 A61.78,57.10 0 0 1 82.43,224.97 L84.23,230.11 A55.94,51.70 0 0 0 82.21,230.75Z" fill="#e6e6e6"/>
<path d="M82.43,224.97 A61.78,57.10 0 0 1 83.20,224.75 L84.93,229.91 A55.94,51.70 0 0 0 84.23,230.11Z" fill="#8a8a8a"/>
<path d="M83.20,224.75 A61.78,57.10 0 0 1 84.12,224.49 L85.76,229.68 A55.94,51.70 0 0 0 84.93,229.91Z" fill="#d2d2d2"/>
<path d="M84.12,224.49 A61.78,57.10 0 0 1 84.64,224.35 L86.23,229.55 A55.94,51.70 0 0 0 85.76,229.68Z" fill="#1a1a1a"/>
<path d="M84.64,224.35 A61.78,57.10 0 0 1 85.06,224.25 L86.61,229.45 A55.94,51.70 0 0 0 86.23,229.55Z" fill="#1a1a1a"/>
<path d="M85.06,224.25 A61.78,57.10 0 0 1 87.54,223.67 L88.85,228.93 A55.94,51.70 0 0 0 86.61,229.45Z" fill="#d2d2d2"/>
<path d="M87.54,223.67 A61.78,57.10 0 0 1 88.08,223.55 L89.35,228.82 A55.94,51.70 0 0 0 88.85,228.93Z" fill="#1a1a1a"/>
<path d="M88.08,223.55 A61.78,57.10 0 0 1 89.36,223.30 L90.51,228.60 A55.94,51.70 0 0 0 89.35,228.82Z" fill="#8a8a8a"/>
<path d="M89.36,223.30 A61.78,57.10 0 0 1 90.07,223.18 L91.14,228.49 A55.94,51.70 0 0 0 90.51,228.60Z" fill="#1a1a1a"/>
<path d="M90.07,223.18 A61.78,57.10 0 0 1 90.82,223.05 L91.82,228.37 A55.94,51.70 0 0 0 91.14,228.49Z" fill="#8a8a8a"/>
<path d="M90.82,223.05 A61.78,57.10 0 0 1 91.24,222.98 L92.21,228.31 A55.94,51.70 0 0 0 91.82,228.37Z" fill="#f0f0f0"/>
<text transform="translate(79.32,214.78) rotate(71.3)" x="0" y="2.1" font-size="5.4" text-anchor="middle" fill="#2a2a2a" class="t2" stroke="#2a2a2a" stroke-width="0.25">X</text>
<path d="M91.24,222.98 A61.78,57.10 0 0 1 92.22,222.84 L93.10,228.18 A55.94,51.70 0 0 0 92.21,228.31Z" fill="#b4b4b4"/>
<path d="M92.22,222.84 A61.78,57.10 0 0 1 93.98,222.62 L94.68,227.98 A55.94,51.70 0 0 0 93.10,228.18Z" fill="#d8c4ca"/>
<path d="M93.98,222.62 A61.78,57.10 0 0 1 96.35,222.39 L96.83,227.78 A55.94,51.70 0 0 0 94.68,227.98Z" fill="#d2d2d2"/>
<path d="M96.35,222.39 A61.78,57.10 0 0 1 98.22,222.28 L98.52,227.67 A55.94,51.70 0 0 0 96.83,227.78Z" fill="#8a8a8a"/>
<path d="M98.22,222.28 A61.78,57.10 0 0 1 98.65,222.26 L98.91,227.65 A55.94,51.70 0 0 0 98.52,227.67Z" fill="#f0f0f0"/>
<text transform="translate(94.61,211.60) rotate(83.7)" x="0" y="2.1" font-size="5.4" text-anchor="middle" fill="#2a2a2a" class="t2" stroke="#2a2a2a" stroke-width="0.25">Y</text>
<ellipse cx="101.45" cy="279.3" rx="61.78" ry="57.1" fill="none" stroke="#484848" stroke-width="0.55"/>
<ellipse cx="101.45" cy="279.3" rx="55.94" ry="51.7" fill="none" stroke="#484848" stroke-width="0.55"/>
<path d="M273.44,227.73 Q271.50,279.20 274.03,227.75" stroke="#f0a8b0" stroke-width="0.8" stroke-opacity="0.7" fill="none"/>
<path d="M287.23,229.80 Q271.50,279.20 287.79,229.95" stroke="#f0a8b0" stroke-width="0.8" stroke-opacity="0.7" fill="none"/>
<path d="M289.83,230.56 Q271.50,279.20 290.38,230.74" stroke="#f4b8c0" stroke-width="0.8" stroke-opacity="0.7" fill="none"/>
<path d="M319.11,252.44 Q271.50,279.20 319.41,252.91" stroke="#f0a8b0" stroke-width="0.8" stroke-opacity="0.7" fill="none"/>
<path d="M327.13,276.24 Q271.50,279.20 327.16,276.77" stroke="#f4b8c0" stroke-width="0.8" stroke-opacity="0.7" fill="none"/>
<path d="M323.66,297.32 Q271.50,279.20 323.45,297.82" stroke="#f4b8c0" stroke-width="0.8" stroke-opacity="0.7" fill="none"/>
<path d="M217.91,293.31 Q271.50,279.20 217.75,292.79" stroke="#f6d0b8" stroke-width="0.8" stroke-opacity="0.7" fill="none"/>
<path d="M259.82,329.56 Q271.50,279.20 259.25,329.44" stroke="#f0a8b0" stroke-width="0.8" stroke-opacity="0.7" fill="none"/>
<path d="M273.54,330.67 Q271.50,279.20 272.96,330.68" stroke="#f0a8b0" stroke-width="0.8" stroke-opacity="0.7" fill="none"/>
<path d="M246.82,233.03 Q271.50,279.20 278.54,330.29" stroke="#c4b4cc" stroke-width="0.8" stroke-opacity="0.85" fill="none"/>
<path d="M227.96,247.06 Q271.50,279.20 216.26,272.43" stroke="#7c70cc" stroke-width="1.6" stroke-opacity="0.9" fill="none"/>
<path d="M228.76,246.16 Q271.50,279.20 216.40,271.54" stroke="#5f78d8" stroke-width="0.8" stroke-opacity="0.8" fill="none"/>
<path d="M229.29,245.58 Q271.50,279.20 229.61,245.24" stroke="#f0b0b8" stroke-width="0.7" stroke-opacity="0.8" fill="none"/>
<path d="M231.91,247.06 L251.71,263.13" stroke="#d41828" stroke-width="1.7" stroke-opacity="1.0" fill="none" stroke-linecap="round"/>
<ellipse cx="271.5" cy="279.2" rx="64.81" ry="59.9" fill="none" stroke="#e6d4d8" stroke-width="0.6"/>
<ellipse cx="271.5" cy="279.2" rx="58.86" ry="54.40" fill="none" stroke="#d0d0d0" stroke-width="5.40"/>
<path d="M268.70,222.16 A61.78,57.10 0 0 1 271.62,222.10 L271.61,227.50 A55.94,51.70 0 0 0 268.96,227.55Z" fill="#bca4ac"/>
<path d="M271.62,222.10 A61.78,57.10 0 0 1 272.35,222.11 L272.27,227.50 A55.94,51.70 0 0 0 271.61,227.50Z" fill="#1a1a1a"/>
<path d="M272.35,222.11 A61.78,57.10 0 0 1 274.77,222.18 L274.46,227.57 A55.94,51.70 0 0 0 272.27,227.50Z" fill="#b4b4b4"/>
<path d="M274.77,222.18 A61.78,57.10 0 0 1 276.22,222.27 L275.78,227.65 A55.94,51.70 0 0 0 274.46,227.57Z" fill="#8a8a8a"/>
<path d="M276.22,222.27 A61.78,57.10 0 0 1 278.34,222.45 L277.70,227.82 A55.94,51.70 0 0 0 275.78,227.65Z" fill="#8a8a8a"/>
<path d="M278.34,222.45 A61.78,57.10 0 0 1 278.89,222.51 L278.19,227.87 A55.94,51.70 0 0 0 277.70,227.82Z" fill="#555555"/>
<path d="M278.89,222.51 A61.78,57.10 0 0 1 281.25,222.82 L280.33,228.15 A55.94,51.70 0 0 0 278.19,227.87Z" fill="#d8c4ca"/>
<path d="M281.25,222.82 A61.78,57.10 0 0 1 284.11,223.30 L282.92,228.59 A55.94,51.70 0 0 0 280.33,228.15Z" fill="#8a8a8a"/>
<path d="M284.11,223.30 A61.78,57.10 0 0 1 284.50,223.38 L283.27,228.66 A55.94,51.70 0 0 0 282.92,228.59Z" fill="#1a1a1a"/>
<path d="M284.50,223.38 A61.78,57.10 0 0 1 285.00,223.48 L283.72,228.75 A55.94,51.70 0 0 0 283.27,228.66Z" fill="#555555"/>
<path d="M285.00,223.48 A61.78,57.10 0 0 1 286.57,223.82 L285.14,229.06 A55.94,51.70 0 0 0 283.72,228.75Z" fill="#e6e6e6"/>
<path d="M286.57,223.82 A61.78,57.10 0 0 1 288.45,224.29 L286.85,229.48 A55.94,51.70 0 0 0 285.14,229.06Z" fill="#8a8a8a"/>
<path d="M288.45,224.29 A61.78,57.10 0 0 1 288.95,224.42 L287.30,229.60 A55.94,51.70 0 0 0 286.85,229.48Z" fill="#1a1a1a"/>
<path d="M288.95,224.42 A61.78,57.10 0 0 1 289.72,224.64 L288.00,229.80 A55.94,51.70 0 0 0 287.30,229.60Z" fill="#555555"/>
<path d="M289.72,224.64 A61.78,57.10 0 0 1 290.45,224.85 L288.66,229.99 A55.94,51.70 0 0 0 288.00,229.80Z" fill="#1a1a1a"/>
<path d="M290.45,224.85 A61.78,57.10 0 0 1 292.87,225.62 L290.85,230.69 A55.94,51.70 0 0 0 288.66,229.99Z" fill="#b4b4b4"/>
<path d="M292.87,225.62 A61.78,57.10 0 0 1 295.48,226.58 L293.21,231.55 A55.94,51.70 0 0 0 290.85,230.69Z" fill="#d2d2d2"/>
<path d="M295.48,226.58 A61.78,57.10 0 0 1 296.21,226.87 L293.88,231.82 A55.94,51.70 0 0 0 293.21,231.55Z" fill="#1a1a1a"/>
<path d="M296.21,226.87 A61.78,57.10 0 0 1 296.86,227.13 L294.46,232.05 A55.94,51.70 0 0 0 293.88,231.82Z" fill="#1a1a1a"/>
<path d="M296.86,227.13 A61.78,57.10 0 0 1 297.41,227.36 L294.96,232.26 A55.94,51.70 0 0 0 294.46,232.05Z" fill="#555555"/>
<path d="M297.41,227.36 A61.78,57.10 0 0 1 298.57,227.87 L296.01,232.73 A55.94,51.70 0 0 0 294.96,232.26Z" fill="#bca4ac"/>
<path d="M298.57,227.87 A61.78,57.10 0 0 1 298.96,228.05 L296.36,232.89 A55.94,51.70 0 0 0 296.01,232.73Z" fill="#f0f0f0"/>
<text transform="translate(287.09,212.50) rotate(-78.3)" x="0" y="2.1" font-size="5.4" text-anchor="middle" fill="#2a2a2a" class="t2" stroke="#2a2a2a" stroke-width="0.25">1</text>
<path d="M298.96,228.05 A61.78,57.10 0 0 1 300.64,228.85 L297.88,233.61 A55.94,51.70 0 0 0 296.36,232.89Z" fill="#d2d2d2"/>
<path d="M300.64,228.85 A61.78,57.10 0 0 1 302.00,229.54 L299.12,234.24 A55.94,51.70 0 0 0 297.88,233.61Z" fill="#e6e6e6"/>
<path d="M302.00,229.54 A61.78,57.10 0 0 1 302.54,229.83 L299.60,234.50 A55.94,51.70 0 0 0 299.12,234.24Z" fill="#555555"/>
<path d="M302.54,229.83 A61.78,57.10 0 0 1 304.96,231.20 L301.80,235.74 A55.94,51.70 0 0 0 299.60,234.50Z" fill="#b4b4b4"/>
<path d="M304.96,231.20 A61.78,57.10 0 0 1 305.39,231.46 L302.19,235.97 A55.94,51.70 0 0 0 301.80,235.74Z" fill="#1a1a1a"/>
<path d="M305.39,231.46 A61.78,57.10 0 0 1 306.03,231.85 L302.77,236.33 A55.94,51.70 0 0 0 302.19,235.97Z" fill="#1a1a1a"/>
<path d="M306.03,231.85 A61.78,57.10 0 0 1 307.16,232.57 L303.78,236.98 A55.94,51.70 0 0 0 302.77,236.33Z" fill="#e6e6e6"/>
<path d="M307.16,232.57 A61.78,57.10 0 0 1 308.33,233.36 L304.85,237.69 A55.94,51.70 0 0 0 303.78,236.98Z" fill="#bca4ac"/>
<path d="M308.33,233.36 A61.78,57.10 0 0 1 308.81,233.69 L305.29,237.99 A55.94,51.70 0 0 0 304.85,237.69Z" fill="#555555"/>
<path d="M308.81,233.69 A61.78,57.10 0 0 1 310.57,234.97 L306.87,239.15 A55.94,51.70 0 0 0 305.29,237.99Z" fill="#8a8a8a"/>
<path d="M310.57,234.97 A61.78,57.10 0 0 1 311.03,235.32 L307.29,239.47 A55.94,51.70 0 0 0 306.87,239.15Z" fill="#1a1a1a"/>
<path d="M311.03,235.32 A61.78,57.10 0 0 1 313.19,237.06 L309.25,241.05 A55.94,51.70 0 0 0 307.29,239.47Z" fill="#8a8a8a"/>
<path d="M313.19,237.06 A61.78,57.10 0 0 1 313.87,237.64 L309.86,241.57 A55.94,51.70 0 0 0 309.25,241.05Z" fill="#d2d2d2"/>
<path d="M313.87,237.64 A61.78,57.10 0 0 1 315.58,239.19 L311.41,242.98 A55.94,51.70 0 0 0 309.86,241.57Z" fill="#e6e6e6"/>
<path d="M315.58,239.19 A61.78,57.10 0 0 1 316.41,239.98 L312.16,243.69 A55.94,51.70 0 0 0 311.41,242.98Z" fill="#b4b4b4"/>
<path d="M316.41,239.98 A61.78,57.10 0 0 1 317.01,240.59 L312.71,244.24 A55.94,51.70 0 0 0 312.16,243.69Z" fill="#b4b4b4"/>
<path d="M317.01,240.59 A61.78,57.10 0 0 1 317.52,241.10 L313.17,244.71 A55.94,51.70 0 0 0 312.71,244.24Z" fill="#1a1a1a"/>
<path d="M317.52,241.10 A61.78,57.10 0 0 1 318.18,241.79 L313.76,245.33 A55.94,51.70 0 0 0 313.17,244.71Z" fill="#8a8a8a"/>
<path d="M318.18,241.79 A61.78,57.10 0 0 1 318.48,242.12 L314.04,245.63 A55.94,51.70 0 0 0 313.76,245.33Z" fill="#1a1a1a"/>
<path d="M318.48,242.12 A61.78,57.10 0 0 1 318.93,242.61 L314.44,246.07 A55.94,51.70 0 0 0 314.04,245.63Z" fill="#555555"/>
<path d="M318.93,242.61 A61.78,57.10 0 0 1 319.21,242.93 L314.70,246.36 A55.94,51.70 0 0 0 314.44,246.07Z" fill="#555555"/>
<path d="M319.21,242.93 A61.78,57.10 0 0 1 319.71,243.49 L315.15,246.87 A55.94,51.70 0 0 0 314.70,246.36Z" fill="#1a1a1a"/>
<path d="M319.71,243.49 A61.78,57.10 0 0 1 320.22,244.08 L315.61,247.40 A55.94,51.70 0 0 0 315.15,246.87Z" fill="#b4b4b4"/>
<path d="M320.22,244.08 A61.78,57.10 0 0 1 320.66,244.61 L316.01,247.89 A55.94,51.70 0 0 0 315.61,247.40Z" fill="#1a1a1a"/>
<path d="M320.66,244.61 A61.78,57.10 0 0 1 321.07,245.11 L316.38,248.34 A55.94,51.70 0 0 0 316.01,247.89Z" fill="#1a1a1a"/>
<path d="M321.07,245.11 A61.78,57.10 0 0 1 321.54,245.71 L316.81,248.88 A55.94,51.70 0 0 0 316.38,248.34Z" fill="#1a1a1a"/>
<path d="M321.54,245.71 A61.78,57.10 0 0 1 321.65,245.86 L316.91,249.01 A55.94,51.70 0 0 0 316.81,248.88Z" fill="#1a1a1a"/>
<path d="M321.65,245.86 A61.78,57.10 0 0 1 321.90,246.18 L317.14,249.30 A55.94,51.70 0 0 0 316.91,249.01Z" fill="#f0f0f0"/>
<text transform="translate(319.10,227.17) rotate(-49.7)" x="0" y="2.1" font-size="5.4" text-anchor="middle" fill="#2a2a2a" class="t2" stroke="#2a2a2a" stroke-width="0.25">2</text>
<path d="M321.90,246.18 A61.78,57.10 0 0 1 323.12,247.82 L318.23,250.79 A55.94,51.70 0 0 0 317.14,249.30Z" fill="#b4b4b4"/>
<path d="M323.12,247.82 A61.78,57.10 0 0 1 323.33,248.12 L318.43,251.06 A55.94,51.70 0 0 0 318.23,250.79Z" fill="#1a1a1a"/>
<path d="M323.33,248.12 A61.78,57.10 0 0 1 324.27,249.51 L319.28,252.32 A55.94,51.70 0 0 0 318.43,251.06Z" fill="#d2d2d2"/>
<path d="M324.27,249.51 A61.78,57.10 0 0 1 325.49,251.45 L320.39,254.07 A55.94,51.70 0 0 0 319.28,252.32Z" fill="#e6e6e6"/>
<path d="M325.49,251.45 A61.78,57.10 0 0 1 326.65,253.46 L321.43,255.90 A55.94,51.70 0 0 0 320.39,254.07Z" fill="#d2d2d2"/>
<path d="M326.65,253.46 A61.78,57.10 0 0 1 326.86,253.85 L321.63,256.25 A55.94,51.70 0 0 0 321.43,255.90Z" fill="#555555"/>
<path d="M326.86,253.85 A61.78,57.10 0 0 1 327.05,254.20 L321.79,256.57 A55.94,51.70 0 0 0 321.63,256.25Z" fill="#1a1a1a"/>
<path d="M327.05,254.20 A61.78,57.10 0 0 1 327.80,255.68 L322.47,257.91 A55.94,51.70 0 0 0 321.79,256.57Z" fill="#e6e6e6"/>
<path d="M327.80,255.68 A61.78,57.10 0 0 1 328.22,256.57 L322.86,258.71 A55.94,51.70 0 0 0 322.47,257.91Z" fill="#8a8a8a"/>
<path d="M328.22,256.57 A61.78,57.10 0 0 1 328.85,257.97 L323.43,259.98 A55.94,51.70 0 0 0 322.86,258.71Z" fill="#8a8a8a"/>
<path d="M328.85,257.97 A61.78,57.10 0 0 1 329.25,258.90 L323.78,260.82 A55.94,51.70 0 0 0 323.43,259.98Z" fill="#d8c4ca"/>
<path d="M329.25,258.90 A61.78,57.10 0 0 1 329.71,260.06 L324.20,261.87 A55.94,51.70 0 0 0 323.78,260.82Z" fill="#8a8a8a"/>
<path d="M329.71,260.06 A61.78,57.10 0 0 1 329.91,260.60 L324.39,262.36 A55.94,51.70 0 0 0 324.20,261.87Z" fill="#1a1a1a"/>
<path d="M329.91,260.60 A61.78,57.10 0 0 1 330.04,260.94 L324.50,262.67 A55.94,51.70 0 0 0 324.39,262.36Z" fill="#1a1a1a"/>
<path d="M330.04,260.94 A61.78,57.10 0 0 1 330.24,261.52 L324.69,263.19 A55.94,51.70 0 0 0 324.50,262.67Z" fill="#1a1a1a"/>
<path d="M330.24,261.52 A61.78,57.10 0 0 1 330.81,263.20 L325.20,264.71 A55.94,51.70 0 0 0 324.69,263.19Z" fill="#d8c4ca"/>
<path d="M330.81,263.20 A61.78,57.10 0 0 1 331.55,265.76 L325.87,267.03 A55.94,51.70 0 0 0 325.20,264.71Z" fill="#d8c4ca"/>
<path d="M331.55,265.76 A61.78,57.10 0 0 1 331.66,266.20 L325.97,267.43 A55.94,51.70 0 0 0 325.87,267.03Z" fill="#555555"/>
<path d="M331.66,266.20 A61.78,57.10 0 0 1 331.77,266.64 L326.07,267.83 A55.94,51.70 0 0 0 325.97,267.43Z" fill="#8a8a8a"/>
<path d="M331.77,266.64 A61.78,57.10 0 0 1 331.86,267.03 L326.15,268.18 A55.94,51.70 0 0 0 326.07,267.83Z" fill="#f0f0f0"/>
<text transform="translate(338.27,251.19) rotate(-24.0)" x="0" y="2.1" font-size="5.4" text-anchor="middle" fill="#2a2a2a" class="t2" stroke="#2a2a2a" stroke-width="0.25">3</text>
<path d="M331.86,267.03 A61.78,57.10 0 0 1 332.36,269.36 L326.60,270.29 A55.94,51.70 0 0 0 326.15,268.18Z" fill="#b4b4b4"/>
<path d="M332.36,269.36 A61.78,57.10 0 0 1 332.46,269.91 L326.69,270.79 A55.94,51.70 0 0 0 326.60,270.29Z" fill="#555555"/>
<path d="M332.46,269.91 A61.78,57.10 0 0 1 332.55,270.42 L326.77,271.25 A55.94,51.70 0 0 0 326.69,270.79Z" fill="#1a1a1a"/>
<path d="M332.55,270.42 A61.78,57.10 0 0 1 332.69,271.34 L326.91,272.08 A55.94,51.70 0 0 0 326.77,271.25Z" fill="#b4b4b4"/>
<path d="M332.69,271.34 A61.78,57.10 0 0 1 332.75,271.75 L326.96,272.46 A55.94,51.70 0 0 0 326.91,272.08Z" fill="#1a1a1a"/>
<path d="M332.75,271.75 A61.78,57.10 0 0 1 332.83,272.31 L327.03,272.96 A55.94,51.70 0 0 0 326.96,272.46Z" fill="#1a1a1a"/>
<path d="M332.83,272.31 A61.78,57.10 0 0 1 332.91,272.91 L327.10,273.50 A55.94,51.70 0 0 0 327.03,272.96Z" fill="#1a1a1a"/>
<path d="M332.91,272.91 A61.78,57.10 0 0 1 333.03,274.04 L327.21,274.53 A55.94,51.70 0 0 0 327.10,273.50Z" fill="#e6e6e6"/>
<path d="M333.03,274.04 A61.78,57.10 0 0 1 333.23,276.75 L327.39,276.98 A55.94,51.70 0 0 0 327.21,274.53Z" fill="#b4b4b4"/>
<path d="M333.23,276.75 A61.78,57.10 0 0 1 333.28,278.35 L327.43,278.43 A55.94,51.70 0 0 0 327.39,276.98Z" fill="#8a8a8a"/>
<path d="M333.28,278.35 A61.78,57.10 0 0 1 333.28,278.87 L327.44,278.90 A55.94,51.70 0 0 0 327.43,278.43Z" fill="#1a1a1a"/>
<path d="M333.28,278.87 A61.78,57.10 0 0 1 333.28,279.26 L327.44,279.25 A55.94,51.70 0 0 0 327.44,278.90Z" fill="#1a1a1a"/>
<path d="M333.28,279.26 A61.78,57.10 0 0 1 333.28,279.81 L327.44,279.75 A55.94,51.70 0 0 0 327.44,279.25Z" fill="#555555"/>
<path d="M333.28,279.81 A61.78,57.10 0 0 1 333.18,282.44 L327.35,282.13 A55.94,51.70 0 0 0 327.44,279.75Z" fill="#8a8a8a"/>
<path d="M333.18,282.44 A61.78,57.10 0 0 1 333.09,283.74 L327.26,283.31 A55.94,51.70 0 0 0 327.35,282.13Z" fill="#d8c4ca"/>
<path d="M333.09,283.74 A61.78,57.10 0 0 1 333.03,284.36 L327.21,283.87 A55.94,51.70 0 0 0 327.26,283.31Z" fill="#1a1a1a"/>
<path d="M333.03,284.36 A61.78,57.10 0 0 1 332.96,285.04 L327.15,284.49 A55.94,51.70 0 0 0 327.21,283.87Z" fill="#1a1a1a"/>
<path d="M332.96,285.04 A61.78,57.10 0 0 1 332.90,285.56 L327.09,284.96 A55.94,51.70 0 0 0 327.15,284.49Z" fill="#1a1a1a"/>
<path d="M332.90,285.56 A61.78,57.10 0 0 1 332.84,285.99 L327.04,285.35 A55.94,51.70 0 0 0 327.09,284.96Z" fill="#555555"/>
<path d="M332.84,285.99 A61.78,57.10 0 0 1 332.78,286.45 L326.99,285.76 A55.94,51.70 0 0 0 327.04,285.35Z" fill="#1a1a1a"/>
<path d="M332.78,286.45 A61.78,57.10 0 0 1 332.56,287.91 L326.78,287.09 A55.94,51.70 0 0 0 326.99,285.76Z" fill="#bca4ac"/>
<path d="M332.56,287.91 A61.78,57.10 0 0 1 332.43,288.65 L326.67,287.76 A55.94,51.70 0 0 0 326.78,287.09Z" fill="#d2d2d2"/>
<path d="M332.43,288.65 A61.78,57.10 0 0 1 332.36,289.04 L326.60,288.11 A55.94,51.70 0 0 0 326.67,287.76Z" fill="#f0f0f0"/>
<text transform="translate(344.48,277.06) rotate(-1.4)" x="0" y="2.1" font-size="5.4" text-anchor="middle" fill="#2a2a2a" class="t2" stroke="#2a2a2a" stroke-width="0.25">4</text>
<path d="M332.36,289.04 A61.78,57.10 0 0 1 332.14,290.13 L326.41,289.09 A55.94,51.70 0 0 0 326.60,288.11Z" fill="#8a8a8a"/>
<path d="M332.14,290.13 A61.78,57.10 0 0 1 332.00,290.76 L326.28,289.67 A55.94,51.70 0 0 0 326.41,289.09Z" fill="#555555"/>
<path d="M332.00,290.76 A61.78,57.10 0 0 1 331.91,291.15 L326.20,290.02 A55.94,51.70 0 0 0 326.28,289.67Z" fill="#1a1a1a"/>
<path d="M331.91,291.15 A61.78,57.10 0 0 1 331.71,292.00 L326.02,290.79 A55.94,51.70 0 0 0 326.20,290.02Z" fill="#d2d2d2"/>
<path d="M331.71,292.00 A61.78,57.10 0 0 1 331.18,293.97 L325.53,292.58 A55.94,51.70 0 0 0 326.02,290.79Z" fill="#d8c4ca"/>
<path d="M331.18,293.97 A61.78,57.10 0 0 1 331.00,294.56 L325.38,293.11 A55.94,51.70 0 0 0 325.53,292.58Z" fill="#1a1a1a"/>
<path d="M331.00,294.56 A61.78,57.10 0 0 1 330.28,296.79 L324.72,295.13 A55.94,51.70 0 0 0 325.38,293.11Z" fill="#b4b4b4"/>
<path d="M330.28,296.79 A61.78,57.10 0 0 1 330.10,297.29 L324.56,295.58 A55.94,51.70 0 0 0 324.72,295.13Z" fill="#555555"/>
<path d="M330.10,297.29 A61.78,57.10 0 0 1 329.90,297.82 L324.38,296.06 A55.94,51.70 0 0 0 324.56,295.58Z" fill="#1a1a1a"/>
<path d="M329.90,297.82 A61.78,57.10 0 0 1 329.28,299.42 L323.82,297.51 A55.94,51.70 0 0 0 324.38,296.06Z" fill="#bca4ac"/>
<path d="M329.28,299.42 A61.78,57.10 0 0 1 328.32,301.63 L322.94,299.51 A55.94,51.70 0 0 0 323.82,297.51Z" fill="#bca4ac"/>
<path d="M328.32,301.63 A61.78,57.10 0 0 1 328.13,302.03 L322.77,299.87 A55.94,51.70 0 0 0 322.94,299.51Z" fill="#1a1a1a"/>
<path d="M328.13,302.03 A61.78,57.10 0 0 1 327.90,302.51 L322.57,300.30 A55.94,51.70 0 0 0 322.77,299.87Z" fill="#1a1a1a"/>
<path d="M327.90,302.51 A61.78,57.10 0 0 1 326.93,304.43 L321.68,302.04 A55.94,51.70 0 0 0 322.57,300.30Z" fill="#e6e6e6"/>
<path d="M326.93,304.43 A61.78,57.10 0 0 1 325.98,306.14 L320.82,303.59 A55.94,51.70 0 0 0 321.68,302.04Z" fill="#d2d2d2"/>
<path d="M325.98,306.14 A61.78,57.10 0 0 1 325.59,306.79 L320.47,304.18 A55.94,51.70 0 0 0 320.82,303.59Z" fill="#555555"/>
<path d="M325.59,306.79 A61.78,57.10 0 0 1 325.39,307.12 L320.30,304.48 A55.94,51.70 0 0 0 320.47,304.18Z" fill="#555555"/>
<path d="M325.39,307.12 A61.78,57.10 0 0 1 324.92,307.88 L319.87,305.17 A55.94,51.70 0 0 0 320.30,304.48Z" fill="#e6e6e6"/>
<path d="M324.92,307.88 A61.78,57.10 0 0 1 324.70,308.24 L319.67,305.49 A55.94,51.70 0 0 0 319.87,305.17Z" fill="#b4b4b4"/>
<path d="M324.70,308.24 A61.78,57.10 0 0 1 324.48,308.58 L319.47,305.80 A55.94,51.70 0 0 0 319.67,305.49Z" fill="#f0f0f0"/>
<text transform="translate(340.05,302.09) rotate(20.2)" x="0" y="2.1" font-size="5.4" text-anchor="middle" fill="#2a2a2a" class="t2" stroke="#2a2a2a" stroke-width="0.25">5</text>
<path d="M324.48,308.58 A61.78,57.10 0 0 1 324.23,308.96 L319.24,306.14 A55.94,51.70 0 0 0 319.47,305.80Z" fill="#1a1a1a"/>
<path d="M324.23,308.96 A61.78,57.10 0 0 1 323.01,310.73 L318.14,307.75 A55.94,51.70 0 0 0 319.24,306.14Z" fill="#b4b4b4"/>
<path d="M323.01,310.73 A61.78,57.10 0 0 1 322.02,312.06 L317.25,308.96 A55.94,51.70 0 0 0 318.14,307.75Z" fill="#8a8a8a"/>
<path d="M322.02,312.06 A61.78,57.10 0 0 1 321.44,312.82 L316.71,309.64 A55.94,51.70 0 0 0 317.25,308.96Z" fill="#8a8a8a"/>
<path d="M321.44,312.82 A61.78,57.10 0 0 1 319.67,314.95 L315.12,311.57 A55.94,51.70 0 0 0 316.71,309.64Z" fill="#d2d2d2"/>
<path d="M319.67,314.95 A61.78,57.10 0 0 1 319.06,315.65 L314.56,312.20 A55.94,51.70 0 0 0 315.12,311.57Z" fill="#8a8a8a"/>
<path d="M319.06,315.65 A61.78,57.10 0 0 1 318.57,316.19 L314.11,312.69 A55.94,51.70 0 0 0 314.56,312.20Z" fill="#1a1a1a"/>
<path d="M318.57,316.19 A61.78,57.10 0 0 1 317.38,317.44 L313.04,313.82 A55.94,51.70 0 0 0 314.11,312.69Z" fill="#b4b4b4"/>
<path d="M317.38,317.44 A61.78,57.10 0 0 1 316.25,318.57 L312.01,314.85 A55.94,51.70 0 0 0 313.04,313.82Z" fill="#d8c4ca"/>
<path d="M316.25,318.57 A61.78,57.10 0 0 1 314.47,320.23 L310.40,316.35 A55.94,51.70 0 0 0 312.01,314.85Z" fill="#8a8a8a"/>
<path d="M314.47,320.23 A61.78,57.10 0 0 1 314.18,320.48 L310.15,316.58 A55.94,51.70 0 0 0 310.40,316.35Z" fill="#555555"/>
<path d="M314.18,320.48 A61.78,57.10 0 0 1 312.64,321.80 L308.75,317.77 A55.94,51.70 0 0 0 310.15,316.58Z" fill="#e6e6e6"/>
<path d="M312.64,321.80 A61.78,57.10 0 0 1 312.20,322.16 L308.35,318.10 A55.94,51.70 0 0 0 308.75,317.77Z" fill="#555555"/>
<path d="M312.20,322.16 A61.78,57.10 0 0 1 310.93,323.16 L307.20,319.00 A55.94,51.70 0 0 0 308.35,318.10Z" fill="#b4b4b4"/>
<path d="M310.93,323.16 A61.78,57.10 0 0 1 310.83,323.24 L307.11,319.07 A55.94,51.70 0 0 0 307.20,319.00Z" fill="#b4b4b4"/>
<path d="M310.83,323.24 A61.78,57.10 0 0 1 310.50,323.49 L306.81,319.30 A55.94,51.70 0 0 0 307.11,319.07Z" fill="#f0f0f0"/>
<text transform="translate(327.07,322.79) rotate(40.7)" x="0" y="2.1" font-size="5.4" text-anchor="middle" fill="#2a2a2a" class="t2" stroke="#2a2a2a" stroke-width="0.25">6</text>
<path d="M310.50,323.49 A61.78,57.10 0 0 1 309.06,324.53 L305.51,320.25 A55.94,51.70 0 0 0 306.81,319.30Z" fill="#d8c4ca"/>
<path d="M309.06,324.53 A61.78,57.10 0 0 1 307.86,325.37 L304.42,321.00 A55.94,51.70 0 0 0 305.51,320.25Z" fill="#b4b4b4"/>
<path d="M307.86,325.37 A61.78,57.10 0 0 1 306.02,326.56 L302.75,322.08 A55.94,51.70 0 0 0 304.42,321.00Z" fill="#d2d2d2"/>
<path d="M306.02,326.56 A61.78,57.10 0 0 1 305.48,326.89 L302.27,322.38 A55.94,51.70 0 0 0 302.75,322.08Z" fill="#1a1a1a"/>
<path d="M305.48,326.89 A61.78,57.10 0 0 1 304.08,327.72 L301.00,323.13 A55.94,51.70 0 0 0 302.27,322.38Z" fill="#b4b4b4"/>
<path d="M304.08,327.72 A61.78,57.10 0 0 1 301.52,329.11 L298.68,324.39 A55.94,51.70 0 0 0 301.00,323.13Z" fill="#8a8a8a"/>
<path d="M301.52,329.11 A61.78,57.10 0 0 1 300.92,329.41 L298.14,324.66 A55.94,51.70 0 0 0 298.68,324.39Z" fill="#555555"/>
<path d="M300.92,329.41 A61.78,57.10 0 0 1 298.47,330.57 L295.92,325.71 A55.94,51.70 0 0 0 298.14,324.66Z" fill="#b4b4b4"/>
<path d="M298.47,330.57 A61.78,57.10 0 0 1 297.76,330.88 L295.28,326.00 A55.94,51.70 0 0 0 295.92,325.71Z" fill="#1a1a1a"/>
<path d="M297.76,330.88 A61.78,57.10 0 0 1 295.56,331.79 L293.29,326.82 A55.94,51.70 0 0 0 295.28,326.00Z" fill="#8a8a8a"/>
<path d="M295.56,331.79 A61.78,57.10 0 0 1 293.68,332.50 L291.58,327.45 A55.94,51.70 0 0 0 293.29,326.82Z" fill="#e6e6e6"/>
<path d="M293.68,332.50 A61.78,57.10 0 0 1 293.27,332.64 L291.21,327.58 A55.94,51.70 0 0 0 291.58,327.45Z" fill="#f0f0f0"/>
<text transform="translate(308.59,337.19) rotate(59.9)" x="0" y="2.1" font-size="5.4" text-anchor="middle" fill="#2a2a2a" class="t2" stroke="#2a2a2a" stroke-width="0.25">7</text>
<path d="M293.27,332.64 A61.78,57.10 0 0 1 292.35,332.95 L290.38,327.87 A55.94,51.70 0 0 0 291.21,327.58Z" fill="#d2d2d2"/>
<path d="M292.35,332.95 A61.78,57.10 0 0 1 291.69,333.16 L289.78,328.06 A55.94,51.70 0 0 0 290.38,327.87Z" fill="#1a1a1a"/>
<path d="M291.69,333.16 A61.78,57.10 0 0 1 291.01,333.38 L289.16,328.26 A55.94,51.70 0 0 0 289.78,328.06Z" fill="#1a1a1a"/>
<path d="M291.01,333.38 A61.78,57.10 0 0 1 289.99,333.68 L288.24,328.53 A55.94,51.70 0 0 0 289.16,328.26Z" fill="#8a8a8a"/>
<path d="M289.99,333.68 A61.78,57.10 0 0 1 289.40,333.85 L287.70,328.68 A55.94,51.70 0 0 0 288.24,328.53Z" fill="#1a1a1a"/>
<path d="M289.40,333.85 A61.78,57.10 0 0 1 288.63,334.06 L287.01,328.87 A55.94,51.70 0 0 0 287.70,328.68Z" fill="#1a1a1a"/>
<path d="M288.63,334.06 A61.78,57.10 0 0 1 288.07,334.21 L286.50,329.01 A55.94,51.70 0 0 0 287.01,328.87Z" fill="#1a1a1a"/>
<path d="M288.07,334.21 A61.78,57.10 0 0 1 285.50,334.81 L284.18,329.55 A55.94,51.70 0 0 0 286.50,329.01Z" fill="#b4b4b4"/>
<path d="M285.50,334.81 A61.78,57.10 0 0 1 284.85,334.95 L283.59,329.68 A55.94,51.70 0 0 0 284.18,329.55Z" fill="#555555"/>
<path d="M284.85,334.95 A61.78,57.10 0 0 1 284.27,335.07 L283.06,329.78 A55.94,51.70 0 0 0 283.59,329.68Z" fill="#1a1a1a"/>
<path d="M284.27,335.07 A61.78,57.10 0 0 1 283.58,335.20 L282.44,329.90 A55.94,51.70 0 0 0 283.06,329.78Z" fill="#1a1a1a"/>
<path d="M283.58,335.20 A61.78,57.10 0 0 1 282.45,335.40 L281.42,330.08 A55.94,51.70 0 0 0 282.44,329.90Z" fill="#b4b4b4"/>
<path d="M282.45,335.40 A61.78,57.10 0 0 1 281.79,335.50 L280.82,330.18 A55.94,51.70 0 0 0 281.42,330.08Z" fill="#555555"/>
<path d="M281.79,335.50 A61.78,57.10 0 0 1 279.28,335.84 L278.55,330.49 A55.94,51.70 0 0 0 280.82,330.18Z" fill="#d2d2d2"/>
<path d="M279.28,335.84 A61.78,57.10 0 0 1 278.75,335.91 L278.06,330.54 A55.94,51.70 0 0 0 278.55,330.49Z" fill="#1a1a1a"/>
<path d="M278.75,335.91 A61.78,57.10 0 0 1 278.37,335.95 L277.72,330.58 A55.94,51.70 0 0 0 278.06,330.54Z" fill="#1a1a1a"/>
<path d="M278.37,335.95 A61.78,57.10 0 0 1 276.36,336.12 L275.90,330.74 A55.94,51.70 0 0 0 277.72,330.58Z" fill="#d8c4ca"/>
<path d="M276.36,336.12 A61.78,57.10 0 0 1 275.82,336.16 L275.41,330.77 A55.94,51.70 0 0 0 275.90,330.74Z" fill="#8a8a8a"/>
<path d="M275.82,336.16 A61.78,57.10 0 0 1 275.39,336.19 L275.02,330.80 A55.94,51.70 0 0 0 275.41,330.77Z" fill="#f0f0f0"/>
<text transform="translate(287.86,344.74) rotate(77.7)" x="0" y="2.1" font-size="5.4" text-anchor="middle" fill="#2a2a2a" class="t2" stroke="#2a2a2a" stroke-width="0.25">8</text>
<path d="M275.39,336.19 A61.78,57.10 0 0 1 274.64,336.23 L274.34,330.83 A55.94,51.70 0 0 0 275.02,330.80Z" fill="#555555"/>
<path d="M274.64,336.23 A61.78,57.10 0 0 1 273.19,336.28 L273.03,330.88 A55.94,51.70 0 0 0 274.34,330.83Z" fill="#b4b4b4"/>
<path d="M273.19,336.28 A61.78,57.10 0 0 1 271.34,336.30 L271.35,330.90 A55.94,51.70 0 0 0 273.03,330.88Z" fill="#8a8a8a"/>
<path d="M271.34,336.30 A61.78,57.10 0 0 1 270.60,336.29 L270.69,330.89 A55.94,51.70 0 0 0 271.35,330.90Z" fill="#1a1a1a"/>
<path d="M270.60,336.29 A61.78,57.10 0 0 1 269.16,336.26 L269.38,330.86 A55.94,51.70 0 0 0 270.69,330.89Z" fill="#b4b4b4"/>
<path d="M269.16,336.26 A61.78,57.10 0 0 1 266.61,336.12 L267.07,330.74 A55.94,51.70 0 0 0 269.38,330.86Z" fill="#b4b4b4"/>
<path d="M266.61,336.12 A61.78,57.10 0 0 1 264.97,335.98 L265.59,330.61 A55.94,51.70 0 0 0 267.07,330.74Z" fill="#d2d2d2"/>
<path d="M264.97,335.98 A61.78,57.10 0 0 1 264.01,335.88 L264.72,330.52 A55.94,51.70 0 0 0 265.59,330.61Z" fill="#8a8a8a"/>
<path d="M264.01,335.88 A61.78,57.10 0 0 1 262.38,335.68 L263.25,330.33 A55.94,51.70 0 0 0 264.72,330.52Z" fill="#8a8a8a"/>
<path d="M262.38,335.68 A61.78,57.10 0 0 1 259.74,335.26 L260.85,329.96 A55.94,51.70 0 0 0 263.25,330.33Z" fill="#d2d2d2"/>
<path d="M259.74,335.26 A61.78,57.10 0 0 1 259.27,335.17 L260.43,329.88 A55.94,51.70 0 0 0 260.85,329.96Z" fill="#1a1a1a"/>
<path d="M259.27,335.17 A61.78,57.10 0 0 1 258.79,335.08 L259.99,329.79 A55.94,51.70 0 0 0 260.43,329.88Z" fill="#1a1a1a"/>
<path d="M258.79,335.08 A61.78,57.10 0 0 1 258.22,334.97 L259.48,329.69 A55.94,51.70 0 0 0 259.99,329.79Z" fill="#1a1a1a"/>
<path d="M258.22,334.97 A61.78,57.10 0 0 1 257.80,334.88 L259.10,329.61 A55.94,51.70 0 0 0 259.48,329.69Z" fill="#f0f0f0"/>
<text transform="translate(266.97,346.10) rotate(-85.6)" x="0" y="2.1" font-size="5.4" text-anchor="middle" fill="#2a2a2a" class="t2" stroke="#2a2a2a" stroke-width="0.25">9</text>
<path d="M257.80,334.88 A61.78,57.10 0 0 1 257.30,334.77 L258.64,329.52 A55.94,51.70 0 0 0 259.10,329.61Z" fill="#555555"/>
<path d="M257.30,334.77 A61.78,57.10 0 0 1 256.86,334.67 L258.25,329.43 A55.94,51.70 0 0 0 258.64,329.52Z" fill="#555555"/>
<path d="M256.86,334.67 A61.78,57.10 0 0 1 256.12,334.50 L257.58,329.27 A55.94,51.70 0 0 0 258.25,329.43Z" fill="#1a1a1a"/>
<path d="M256.12,334.50 A61.78,57.10 0 0 1 255.49,334.35 L257.00,329.13 A55.94,51.70 0 0 0 257.58,329.27Z" fill="#555555"/>
<path d="M255.49,334.35 A61.78,57.10 0 0 1 255.08,334.25 L256.64,329.04 A55.94,51.70 0 0 0 257.00,329.13Z" fill="#1a1a1a"/>
<path d="M255.08,334.25 A61.78,57.10 0 0 1 254.44,334.08 L256.05,328.89 A55.94,51.70 0 0 0 256.64,329.04Z" fill="#1a1a1a"/>
<path d="M254.44,334.08 A61.78,57.10 0 0 1 253.75,333.89 L255.43,328.72 A55.94,51.70 0 0 0 256.05,328.89Z" fill="#555555"/>
<path d="M253.75,333.89 A61.78,57.10 0 0 1 252.52,333.54 L254.32,328.40 A55.94,51.70 0 0 0 255.43,328.72Z" fill="#d2d2d2"/>
<path d="M252.52,333.54 A61.78,57.10 0 0 1 251.83,333.33 L253.69,328.21 A55.94,51.70 0 0 0 254.32,328.40Z" fill="#555555"/>
<path d="M251.83,333.33 A61.78,57.10 0 0 1 250.38,332.86 L252.38,327.79 A55.94,51.70 0 0 0 253.69,328.21Z" fill="#e6e6e6"/>
<path d="M250.38,332.86 A61.78,57.10 0 0 1 249.75,332.64 L251.81,327.59 A55.94,51.70 0 0 0 252.38,327.79Z" fill="#555555"/>
<path d="M249.75,332.64 A61.78,57.10 0 0 1 247.06,331.64 L249.37,326.68 A55.94,51.70 0 0 0 251.81,327.59Z" fill="#b4b4b4"/>
<path d="M247.06,331.64 A61.78,57.10 0 0 1 244.82,330.70 L247.34,325.83 A55.94,51.70 0 0 0 249.37,326.68Z" fill="#e6e6e6"/>
<path d="M244.82,330.70 A61.78,57.10 0 0 1 242.33,329.54 L245.09,324.78 A55.94,51.70 0 0 0 247.34,325.83Z" fill="#d2d2d2"/>
<path d="M242.33,329.54 A61.78,57.10 0 0 1 241.95,329.35 L244.75,324.60 A55.94,51.70 0 0 0 245.09,324.78Z" fill="#f0f0f0"/>
<text transform="translate(247.30,342.02) rotate(-69.5)" x="0" y="2.1" font-size="5.4" text-anchor="middle" fill="#2a2a2a" class="t2" stroke="#2a2a2a" stroke-width="0.25">10</text>
<path d="M241.95,329.35 A61.78,57.10 0 0 1 241.39,329.06 L244.24,324.34 A55.94,51.70 0 0 0 244.75,324.60Z" fill="#1a1a1a"/>
<path d="M241.39,329.06 A61.78,57.10 0 0 1 240.91,328.81 L243.80,324.12 A55.94,51.70 0 0 0 244.24,324.34Z" fill="#555555"/>
<path d="M240.91,328.81 A61.78,57.10 0 0 1 239.92,328.28 L242.90,323.63 A55.94,51.70 0 0 0 243.80,324.12Z" fill="#d8c4ca"/>
<path d="M239.92,328.28 A61.78,57.10 0 0 1 239.26,327.91 L242.31,323.30 A55.94,51.70 0 0 0 242.90,323.63Z" fill="#555555"/>
<path d="M239.26,327.91 A61.78,57.10 0 0 1 238.27,327.33 L241.41,322.78 A55.94,51.70 0 0 0 242.31,323.30Z" fill="#d8c4ca"/>
<path d="M238.27,327.33 A61.78,57.10 0 0 1 237.82,327.07 L241.01,322.54 A55.94,51.70 0 0 0 241.41,322.78Z" fill="#1a1a1a"/>
<path d="M237.82,327.07 A61.78,57.10 0 0 1 236.52,326.26 L239.83,321.81 A55.94,51.70 0 0 0 241.01,322.54Z" fill="#e6e6e6"/>
<path d="M236.52,326.26 A61.78,57.10 0 0 1 234.28,324.78 L237.80,320.47 A55.94,51.70 0 0 0 239.83,321.81Z" fill="#d2d2d2"/>
<path d="M234.28,324.78 A61.78,57.10 0 0 1 232.91,323.79 L236.56,319.57 A55.94,51.70 0 0 0 237.80,320.47Z" fill="#8a8a8a"/>
<path d="M232.91,323.79 A61.78,57.10 0 0 1 231.91,323.03 L235.65,318.89 A55.94,51.70 0 0 0 236.56,319.57Z" fill="#d2d2d2"/>
<path d="M231.91,323.03 A61.78,57.10 0 0 1 231.41,322.64 L235.20,318.54 A55.94,51.70 0 0 0 235.65,318.89Z" fill="#1a1a1a"/>
<path d="M231.41,322.64 A61.78,57.10 0 0 1 230.82,322.17 L234.67,318.11 A55.94,51.70 0 0 0 235.20,318.54Z" fill="#1a1a1a"/>
<path d="M230.82,322.17 A61.78,57.10 0 0 1 230.47,321.89 L234.35,317.85 A55.94,51.70 0 0 0 234.67,318.11Z" fill="#1a1a1a"/>
<path d="M230.47,321.89 A61.78,57.10 0 0 1 230.11,321.59 L234.02,317.58 A55.94,51.70 0 0 0 234.35,317.85Z" fill="#555555"/>
<path d="M230.11,321.59 A61.78,57.10 0 0 1 229.75,321.29 L233.70,317.31 A55.94,51.70 0 0 0 234.02,317.58Z" fill="#1a1a1a"/>
<path d="M229.75,321.29 A61.78,57.10 0 0 1 229.36,320.95 L233.34,317.01 A55.94,51.70 0 0 0 233.70,317.31Z" fill="#1a1a1a"/>
<path d="M229.36,320.95 A61.78,57.10 0 0 1 229.04,320.68 L233.05,316.75 A55.94,51.70 0 0 0 233.34,317.01Z" fill="#1a1a1a"/>
<path d="M229.04,320.68 A61.78,57.10 0 0 1 228.68,320.36 L232.73,316.47 A55.94,51.70 0 0 0 233.05,316.75Z" fill="#555555"/>
<path d="M228.68,320.36 A61.78,57.10 0 0 1 228.37,320.09 L232.45,316.22 A55.94,51.70 0 0 0 232.73,316.47Z" fill="#f0f0f0"/>
<text transform="translate(229.96,333.24) rotate(-53.8)" x="0" y="2.1" font-size="5.4" text-anchor="middle" fill="#2a2a2a" class="t2" stroke="#2a2a2a" stroke-width="0.25">11</text>
<path d="M228.37,320.09 A61.78,57.10 0 0 1 227.62,319.40 L231.77,315.60 A55.94,51.70 0 0 0 232.45,316.22Z" fill="#8a8a8a"/>
<path d="M227.62,319.40 A61.78,57.10 0 0 1 227.13,318.93 L231.32,315.17 A55.94,51.70 0 0 0 231.77,315.60Z" fill="#1a1a1a"/>
<path d="M227.13,318.93 A61.78,57.10 0 0 1 226.57,318.39 L230.82,314.69 A55.94,51.70 0 0 0 231.32,315.17Z" fill="#555555"/>
<path d="M226.57,318.39 A61.78,57.10 0 0 1 226.13,317.96 L230.42,314.29 A55.94,51.70 0 0 0 230.82,314.69Z" fill="#555555"/>
<path d="M226.13,317.96 A61.78,57.10 0 0 1 225.14,316.95 L229.53,313.38 A55.94,51.70 0 0 0 230.42,314.29Z" fill="#d2d2d2"/>
<path d="M225.14,316.95 A61.78,57.10 0 0 1 223.78,315.46 L228.29,312.03 A55.94,51.70 0 0 0 229.53,313.38Z" fill="#8a8a8a"/>
<path d="M223.78,315.46 A61.78,57.10 0 0 1 222.55,314.04 L227.18,310.74 A55.94,51.70 0 0 0 228.29,312.03Z" fill="#d8c4ca"/>
<path d="M222.55,314.04 A61.78,57.10 0 0 1 220.78,311.80 L225.58,308.72 A55.94,51.70 0 0 0 227.18,310.74Z" fill="#d2d2d2"/>
<path d="M220.78,311.80 A61.78,57.10 0 0 1 220.44,311.34 L225.27,308.30 A55.94,51.70 0 0 0 225.58,308.72Z" fill="#555555"/>
<path d="M220.44,311.34 A61.78,57.10 0 0 1 219.99,310.72 L224.86,307.74 A55.94,51.70 0 0 0 225.27,308.30Z" fill="#1a1a1a"/>
<path d="M219.99,310.72 A61.78,57.10 0 0 1 219.42,309.91 L224.34,307.01 A55.94,51.70 0 0 0 224.86,307.74Z" fill="#bca4ac"/>
<path d="M219.42,309.91 A61.78,57.10 0 0 1 218.30,308.24 L223.33,305.49 A55.94,51.70 0 0 0 224.34,307.01Z" fill="#e6e6e6"/>
<path d="M218.30,308.24 A61.78,57.10 0 0 1 218.08,307.89 L223.14,305.18 A55.94,51.70 0 0 0 223.33,305.49Z" fill="#f0f0f0"/>
<text transform="translate(215.88,320.45) rotate(-38.1)" x="0" y="2.1" font-size="5.4" text-anchor="middle" fill="#2a2a2a" class="t2" stroke="#2a2a2a" stroke-width="0.25">12</text>
<path d="M218.08,307.89 A61.78,57.10 0 0 1 217.72,307.31 L222.81,304.65 A55.94,51.70 0 0 0 223.14,305.18Z" fill="#1a1a1a"/>
<path d="M217.72,307.31 A61.78,57.10 0 0 1 217.47,306.89 L222.58,304.27 A55.94,51.70 0 0 0 222.81,304.65Z" fill="#1a1a1a"/>
<path d="M217.47,306.89 A61.78,57.10 0 0 1 217.15,306.35 L222.29,303.78 A55.94,51.70 0 0 0 222.58,304.27Z" fill="#1a1a1a"/>
<path d="M217.15,306.35 A61.78,57.10 0 0 1 216.70,305.56 L221.88,303.07 A55.94,51.70 0 0 0 222.29,303.78Z" fill="#d8c4ca"/>
<path d="M216.70,305.56 A61.78,57.10 0 0 1 216.35,304.93 L221.56,302.50 A55.94,51.70 0 0 0 221.88,303.07Z" fill="#1a1a1a"/>
<path d="M216.35,304.93 A61.78,57.10 0 0 1 216.07,304.42 L221.31,302.03 A55.94,51.70 0 0 0 221.56,302.50Z" fill="#555555"/>
<path d="M216.07,304.42 A61.78,57.10 0 0 1 215.89,304.08 L221.15,301.73 A55.94,51.70 0 0 0 221.31,302.03Z" fill="#555555"/>
<path d="M215.89,304.08 A61.78,57.10 0 0 1 215.38,303.08 L220.69,300.82 A55.94,51.70 0 0 0 221.15,301.73Z" fill="#e6e6e6"/>
<path d="M215.38,303.08 A61.78,57.10 0 0 1 214.33,300.86 L219.74,298.81 A55.94,51.70 0 0 0 220.69,300.82Z" fill="#8a8a8a"/>
<path d="M214.33,300.86 A61.78,57.10 0 0 1 213.50,298.88 L218.99,297.02 A55.94,51.70 0 0 0 219.74,298.81Z" fill="#e6e6e6"/>
<path d="M213.50,298.88 A61.78,57.10 0 0 1 213.35,298.50 L218.85,296.68 A55.94,51.70 0 0 0 218.99,297.02Z" fill="#555555"/>
<path d="M213.35,298.50 A61.78,57.10 0 0 1 213.20,298.09 L218.71,296.31 A55.94,51.70 0 0 0 218.85,296.68Z" fill="#1a1a1a"/>
<path d="M213.20,298.09 A61.78,57.10 0 0 1 213.02,297.62 L218.55,295.88 A55.94,51.70 0 0 0 218.71,296.31Z" fill="#1a1a1a"/>
<path d="M213.02,297.62 A61.78,57.10 0 0 1 212.47,296.05 L218.05,294.46 A55.94,51.70 0 0 0 218.55,295.88Z" fill="#d2d2d2"/>
<path d="M212.47,296.05 A61.78,57.10 0 0 1 212.34,295.67 L217.94,294.11 A55.94,51.70 0 0 0 218.05,294.46Z" fill="#f0f0f0"/>
<text transform="translate(206.55,305.83) rotate(-23.7)" x="0" y="2.1" font-size="5.4" text-anchor="middle" fill="#2a2a2a" class="t2" stroke="#2a2a2a" stroke-width="0.25">13</text>
<path d="M212.34,295.67 A61.78,57.10 0 0 1 211.60,293.18 L217.26,291.85 A55.94,51.70 0 0 0 217.94,294.11Z" fill="#b4b4b4"/>
<path d="M211.60,293.18 A61.78,57.10 0 0 1 211.16,291.46 L216.87,290.30 A55.94,51.70 0 0 0 217.26,291.85Z" fill="#e6e6e6"/>
<path d="M211.16,291.46 A61.78,57.10 0 0 1 211.01,290.80 L216.73,289.71 A55.94,51.70 0 0 0 216.87,290.30Z" fill="#1a1a1a"/>
<path d="M211.01,290.80 A61.78,57.10 0 0 1 210.90,290.31 L216.63,289.26 A55.94,51.70 0 0 0 216.73,289.71Z" fill="#1a1a1a"/>
<path d="M210.90,290.31 A61.78,57.10 0 0 1 210.79,289.80 L216.53,288.80 A55.94,51.70 0 0 0 216.63,289.26Z" fill="#555555"/>
<path d="M210.79,289.80 A61.78,57.10 0 0 1 210.51,288.30 L216.28,287.44 A55.94,51.70 0 0 0 216.53,288.80Z" fill="#d2d2d2"/>
<path d="M210.51,288.30 A61.78,57.10 0 0 1 210.15,285.92 L215.95,285.29 A55.94,51.70 0 0 0 216.28,287.44Z" fill="#8a8a8a"/>
<path d="M210.15,285.92 A61.78,57.10 0 0 1 210.07,285.27 L215.88,284.70 A55.94,51.70 0 0 0 215.95,285.29Z" fill="#1a1a1a"/>
<path d="M210.07,285.27 A61.78,57.10 0 0 1 210.00,284.65 L215.82,284.13 A55.94,51.70 0 0 0 215.88,284.70Z" fill="#1a1a1a"/>
<path d="M210.00,284.65 A61.78,57.10 0 0 1 209.92,283.86 L215.75,283.42 A55.94,51.70 0 0 0 215.82,284.13Z" fill="#b4b4b4"/>
<path d="M209.92,283.86 A61.78,57.10 0 0 1 209.89,283.46 L215.72,283.06 A55.94,51.70 0 0 0 215.75,283.42Z" fill="#f0f0f0"/>
<text transform="translate(201.76,291.28) rotate(-10.7)" x="0" y="2.1" font-size="5.4" text-anchor="middle" fill="#2a2a2a" class="t2" stroke="#2a2a2a" stroke-width="0.25">14</text>
<path d="M209.89,283.46 A61.78,57.10 0 0 1 209.83,282.70 L215.67,282.37 A55.94,51.70 0 0 0 215.72,283.06Z" fill="#8a8a8a"/>
<path d="M209.83,282.70 A61.78,57.10 0 0 1 209.80,282.12 L215.63,281.85 A55.94,51.70 0 0 0 215.67,282.37Z" fill="#1a1a1a"/>
<path d="M209.80,282.12 A61.78,57.10 0 0 1 209.73,280.08 L215.57,279.99 A55.94,51.70 0 0 0 215.63,281.85Z" fill="#8a8a8a"/>
<path d="M209.73,280.08 A61.78,57.10 0 0 1 209.74,277.83 L215.58,277.96 A55.94,51.70 0 0 0 215.57,279.99Z" fill="#b4b4b4"/>
<path d="M209.74,277.83 A61.78,57.10 0 0 1 209.76,277.17 L215.60,277.36 A55.94,51.70 0 0 0 215.58,277.96Z" fill="#1a1a1a"/>
<path d="M209.76,277.17 A61.78,57.10 0 0 1 209.91,274.75 L215.73,275.18 A55.94,51.70 0 0 0 215.60,277.36Z" fill="#d2d2d2"/>
<path d="M209.91,274.75 A61.78,57.10 0 0 1 209.94,274.33 L215.76,274.79 A55.94,51.70 0 0 0 215.73,275.18Z" fill="#1a1a1a"/>
<path d="M209.94,274.33 A61.78,57.10 0 0 1 210.04,273.41 L215.85,273.96 A55.94,51.70 0 0 0 215.76,274.79Z" fill="#8a8a8a"/>
<path d="M210.04,273.41 A61.78,57.10 0 0 1 210.12,272.68 L215.93,273.30 A55.94,51.70 0 0 0 215.85,273.96Z" fill="#1a1a1a"/>
<path d="M210.12,272.68 A61.78,57.10 0 0 1 210.21,272.01 L216.01,272.69 A55.94,51.70 0 0 0 215.93,273.30Z" fill="#e6e6e6"/>
<path d="M210.21,272.01 A61.78,57.10 0 0 1 210.27,271.61 L216.06,272.33 A55.94,51.70 0 0 0 216.01,272.69Z" fill="#f0f0f0"/>
<text transform="translate(200.52,276.96) rotate(1.5)" x="0" y="2.1" font-size="5.4" text-anchor="middle" fill="#2a2a2a" class="t2" stroke="#2a2a2a" stroke-width="0.25">15</text>
<path d="M210.27,271.61 A61.78,57.10 0 0 1 210.33,271.18 L216.11,271.94 A55.94,51.70 0 0 0 216.06,272.33Z" fill="#1a1a1a"/>
<path d="M210.33,271.18 A61.78,57.10 0 0 1 210.75,268.79 L216.50,269.78 A55.94,51.70 0 0 0 216.11,271.94Z" fill="#b4b4b4"/>
<path d="M210.75,268.79 A61.78,57.10 0 0 1 211.02,267.54 L216.74,268.64 A55.94,51.70 0 0 0 216.50,269.78Z" fill="#e6e6e6"/>
<path d="M211.02,267.54 A61.78,57.10 0 0 1 211.14,267.03 L216.84,268.19 A55.94,51.70 0 0 0 216.74,268.64Z" fill="#555555"/>
<path d="M211.14,267.03 A61.78,57.10 0 0 1 211.28,266.44 L216.98,267.64 A55.94,51.70 0 0 0 216.84,268.19Z" fill="#555555"/>
<path d="M211.28,266.44 A61.78,57.10 0 0 1 211.52,265.51 L217.19,266.81 A55.94,51.70 0 0 0 216.98,267.64Z" fill="#b4b4b4"/>
<path d="M211.52,265.51 A61.78,57.10 0 0 1 211.86,264.28 L217.50,265.69 A55.94,51.70 0 0 0 217.19,266.81Z" fill="#e6e6e6"/>
<path d="M211.86,264.28 A61.78,57.10 0 0 1 212.03,263.74 L217.65,265.20 A55.94,51.70 0 0 0 217.50,265.69Z" fill="#1a1a1a"/>
<path d="M212.03,263.74 A61.78,57.10 0 0 1 212.49,262.28 L218.07,263.88 A55.94,51.70 0 0 0 217.65,265.20Z" fill="#8a8a8a"/>
<path d="M212.49,262.28 A61.78,57.10 0 0 1 212.66,261.80 L218.22,263.44 A55.94,51.70 0 0 0 218.07,263.88Z" fill="#1a1a1a"/>
<path d="M212.66,261.80 A61.78,57.10 0 0 1 212.79,261.42 L218.34,263.10 A55.94,51.70 0 0 0 218.22,263.44Z" fill="#f0f0f0"/>
<text transform="translate(202.26,263.85) rotate(12.7)" x="0" y="2.1" font-size="5.4" text-anchor="middle" fill="#2a2a2a" class="t2" stroke="#2a2a2a" stroke-width="0.25">16</text>
<path d="M212.79,261.42 A61.78,57.10 0 0 1 213.56,259.39 L219.04,261.26 A55.94,51.70 0 0 0 218.34,263.10Z" fill="#d2d2d2"/>
<path d="M213.56,259.39 A61.78,57.10 0 0 1 213.74,258.93 L219.20,260.85 A55.94,51.70 0 0 0 219.04,261.26Z" fill="#555555"/>
<path d="M213.74,258.93 A61.78,57.10 0 0 1 213.91,258.54 L219.35,260.49 A55.94,51.70 0 0 0 219.20,260.85Z" fill="#1a1a1a"/>
<path d="M213.91,258.54 A61.78,57.10 0 0 1 214.12,258.04 L219.54,260.04 A55.94,51.70 0 0 0 219.35,260.49Z" fill="#1a1a1a"/>
<path d="M214.12,258.04 A61.78,57.10 0 0 1 214.29,257.65 L219.70,259.69 A55.94,51.70 0 0 0 219.54,260.04Z" fill="#1a1a1a"/>
<path d="M214.29,257.65 A61.78,57.10 0 0 1 215.12,255.85 L220.45,258.05 A55.94,51.70 0 0 0 219.70,259.69Z" fill="#d2d2d2"/>
<path d="M215.12,255.85 A61.78,57.10 0 0 1 215.65,254.79 L220.93,257.10 A55.94,51.70 0 0 0 220.45,258.05Z" fill="#8a8a8a"/>
<path d="M215.65,254.79 A61.78,57.10 0 0 1 216.54,253.11 L221.74,255.58 A55.94,51.70 0 0 0 220.93,257.10Z" fill="#e6e6e6"/>
<path d="M216.54,253.11 A61.78,57.10 0 0 1 216.74,252.76 L221.92,255.26 A55.94,51.70 0 0 0 221.74,255.58Z" fill="#f0f0f0"/>
<text transform="translate(206.06,252.65) rotate(22.7)" x="0" y="2.1" font-size="5.4" text-anchor="middle" fill="#2a2a2a" class="t2" stroke="#2a2a2a" stroke-width="0.25">17</text>
<path d="M216.74,252.76 A61.78,57.10 0 0 1 216.96,252.37 L222.12,254.91 A55.94,51.70 0 0 0 221.92,255.26Z" fill="#1a1a1a"/>
<path d="M216.96,252.37 A61.78,57.10 0 0 1 217.14,252.06 L222.28,254.63 A55.94,51.70 0 0 0 222.12,254.91Z" fill="#1a1a1a"/>
<path d="M217.14,252.06 A61.78,57.10 0 0 1 217.39,251.65 L222.50,254.25 A55.94,51.70 0 0 0 222.28,254.63Z" fill="#1a1a1a"/>
<path d="M217.39,251.65 A61.78,57.10 0 0 1 217.72,251.09 L222.81,253.75 A55.94,51.70 0 0 0 222.50,254.25Z" fill="#1a1a1a"/>
<path d="M217.72,251.09 A61.78,57.10 0 0 1 218.00,250.64 L223.06,253.34 A55.94,51.70 0 0 0 222.81,253.75Z" fill="#555555"/>
<path d="M218.00,250.64 A61.78,57.10 0 0 1 218.32,250.14 L223.35,252.89 A55.94,51.70 0 0 0 223.06,253.34Z" fill="#1a1a1a"/>
<path d="M218.32,250.14 A61.78,57.10 0 0 1 218.64,249.63 L223.64,252.43 A55.94,51.70 0 0 0 223.35,252.89Z" fill="#1a1a1a"/>
<path d="M218.64,249.63 A61.78,57.10 0 0 1 218.97,249.14 L223.94,251.98 A55.94,51.70 0 0 0 223.64,252.43Z" fill="#1a1a1a"/>
<path d="M218.97,249.14 A61.78,57.10 0 0 1 220.52,246.95 L225.34,250.00 A55.94,51.70 0 0 0 223.94,251.98Z" fill="#b4b4b4"/>
<path d="M220.52,246.95 A61.78,57.10 0 0 1 221.60,245.53 L226.32,248.72 A55.94,51.70 0 0 0 225.34,250.00Z" fill="#d2d2d2"/>
<path d="M221.60,245.53 A61.78,57.10 0 0 1 221.69,245.42 L226.40,248.61 A55.94,51.70 0 0 0 226.32,248.72Z" fill="#1a1a1a"/>
<path d="M221.69,245.42 A61.78,57.10 0 0 1 221.95,245.10 L226.63,248.32 A55.94,51.70 0 0 0 226.40,248.61Z" fill="#f0f0f0"/>
<text transform="translate(211.39,242.95) rotate(31.9)" x="0" y="2.1" font-size="5.4" text-anchor="middle" fill="#2a2a2a" class="t2" stroke="#2a2a2a" stroke-width="0.25">18</text>
<path d="M221.95,245.10 A61.78,57.10 0 0 1 223.76,242.96 L228.27,246.39 A55.94,51.70 0 0 0 226.63,248.32Z" fill="#bca4ac"/>
<path d="M223.76,242.96 A61.78,57.10 0 0 1 224.54,242.10 L228.98,245.61 A55.94,51.70 0 0 0 228.27,246.39Z" fill="#b4b4b4"/>
<path d="M224.54,242.10 A61.78,57.10 0 0 1 226.36,240.21 L230.63,243.90 A55.94,51.70 0 0 0 228.98,245.61Z" fill="#8a8a8a"/>
<path d="M226.36,240.21 A61.78,57.10 0 0 1 226.42,240.15 L230.69,243.85 A55.94,51.70 0 0 0 230.63,243.90Z" fill="#8a8a8a"/>
<path d="M226.42,240.15 A61.78,57.10 0 0 1 226.72,239.86 L230.95,243.58 A55.94,51.70 0 0 0 230.69,243.85Z" fill="#f0f0f0"/>
<text transform="translate(217.27,235.33) rotate(39.9)" x="0" y="2.1" font-size="5.4" text-anchor="middle" fill="#2a2a2a" class="t2" stroke="#2a2a2a" stroke-width="0.25">19</text>
<path d="M226.72,239.86 A61.78,57.10 0 0 1 227.00,239.59 L231.21,243.34 A55.94,51.70 0 0 0 230.95,243.58Z" fill="#1a1a1a"/>
<path d="M227.00,239.59 A61.78,57.10 0 0 1 227.45,239.17 L231.61,242.95 A55.94,51.70 0 0 0 231.21,243.34Z" fill="#1a1a1a"/>
<path d="M227.45,239.17 A61.78,57.10 0 0 1 228.01,238.64 L232.12,242.48 A55.94,51.70 0 0 0 231.61,242.95Z" fill="#555555"/>
<path d="M228.01,238.64 A61.78,57.10 0 0 1 228.40,238.29 L232.47,242.16 A55.94,51.70 0 0 0 232.12,242.48Z" fill="#555555"/>
<path d="M228.40,238.29 A61.78,57.10 0 0 1 228.83,237.90 L232.87,241.81 A55.94,51.70 0 0 0 232.47,242.16Z" fill="#1a1a1a"/>
<path d="M228.83,237.90 A61.78,57.10 0 0 1 229.40,237.41 L233.38,241.36 A55.94,51.70 0 0 0 232.87,241.81Z" fill="#1a1a1a"/>
<path d="M229.40,237.41 A61.78,57.10 0 0 1 229.91,236.98 L233.84,240.97 A55.94,51.70 0 0 0 233.38,241.36Z" fill="#1a1a1a"/>
<path d="M229.91,236.98 A61.78,57.10 0 0 1 231.15,235.96 L234.97,240.05 A55.94,51.70 0 0 0 233.84,240.97Z" fill="#8a8a8a"/>
<path d="M231.15,235.96 A61.78,57.10 0 0 1 231.61,235.60 L235.38,239.72 A55.94,51.70 0 0 0 234.97,240.05Z" fill="#555555"/>
<path d="M231.61,235.60 A61.78,57.10 0 0 1 232.18,235.16 L235.90,239.32 A55.94,51.70 0 0 0 235.38,239.72Z" fill="#8a8a8a"/>
<path d="M232.18,235.16 A61.78,57.10 0 0 1 232.51,234.91 L236.20,239.09 A55.94,51.70 0 0 0 235.90,239.32Z" fill="#f0f0f0"/>
<text transform="translate(223.40,229.25) rotate(47.0)" x="0" y="2.1" font-size="5.4" text-anchor="middle" fill="#2a2a2a" class="t2" stroke="#2a2a2a" stroke-width="0.25">20</text>
<path d="M232.51,234.91 A61.78,57.10 0 0 1 234.36,233.57 L237.88,237.88 A55.94,51.70 0 0 0 236.20,239.09Z" fill="#b4b4b4"/>
<path d="M234.36,233.57 A61.78,57.10 0 0 1 234.83,233.24 L238.30,237.59 A55.94,51.70 0 0 0 237.88,237.88Z" fill="#1a1a1a"/>
<path d="M234.83,233.24 A61.78,57.10 0 0 1 235.25,232.96 L238.68,237.34 A55.94,51.70 0 0 0 238.30,237.59Z" fill="#1a1a1a"/>
<path d="M235.25,232.96 A61.78,57.10 0 0 1 236.86,231.92 L240.14,236.39 A55.94,51.70 0 0 0 238.68,237.34Z" fill="#8a8a8a"/>
<path d="M236.86,231.92 A61.78,57.10 0 0 1 237.01,231.83 L240.27,236.31 A55.94,51.70 0 0 0 240.14,236.39Z" fill="#bca4ac"/>
<path d="M237.01,231.83 A61.78,57.10 0 0 1 237.37,231.60 L240.60,236.11 A55.94,51.70 0 0 0 240.27,236.31Z" fill="#f0f0f0"/>
<text transform="translate(229.64,224.38) rotate(53.5)" x="0" y="2.1" font-size="5.4" text-anchor="middle" fill="#2a2a2a" class="t2" stroke="#2a2a2a" stroke-width="0.25">21</text>
<path d="M237.37,231.60 A61.78,57.10 0 0 1 238.20,231.11 L241.34,235.66 A55.94,51.70 0 0 0 240.60,236.11Z" fill="#8a8a8a"/>
<path d="M238.20,231.11 A61.78,57.10 0 0 1 239.00,230.64 L242.07,235.23 A55.94,51.70 0 0 0 241.34,235.66Z" fill="#b4b4b4"/>
<path d="M239.00,230.64 A61.78,57.10 0 0 1 239.44,230.39 L242.47,235.01 A55.94,51.70 0 0 0 242.07,235.23Z" fill="#1a1a1a"/>
<path d="M239.44,230.39 A61.78,57.10 0 0 1 240.11,230.02 L243.08,234.67 A55.94,51.70 0 0 0 242.47,235.01Z" fill="#555555"/>
<path d="M240.11,230.02 A61.78,57.10 0 0 1 240.78,229.66 L243.68,234.34 A55.94,51.70 0 0 0 243.08,234.67Z" fill="#1a1a1a"/>
<path d="M240.78,229.66 A61.78,57.10 0 0 1 241.40,229.33 L244.25,234.05 A55.94,51.70 0 0 0 243.68,234.34Z" fill="#1a1a1a"/>
<path d="M241.40,229.33 A61.78,57.10 0 0 1 242.52,228.77 L245.26,233.54 A55.94,51.70 0 0 0 244.25,234.05Z" fill="#bca4ac"/>
<path d="M242.52,228.77 A61.78,57.10 0 0 1 242.91,228.58 L245.61,233.37 A55.94,51.70 0 0 0 245.26,233.54Z" fill="#f0f0f0"/>
<text transform="translate(235.69,220.61) rotate(59.2)" x="0" y="2.1" font-size="5.4" text-anchor="middle" fill="#2a2a2a" class="t2" stroke="#2a2a2a" stroke-width="0.25">22</text>
<path d="M242.91,228.58 A61.78,57.10 0 0 1 244.87,227.68 L247.39,232.55 A55.94,51.70 0 0 0 245.61,233.37Z" fill="#d2d2d2"/>
<path d="M244.87,227.68 A61.78,57.10 0 0 1 245.59,227.36 L248.04,232.27 A55.94,51.70 0 0 0 247.39,232.55Z" fill="#555555"/>
<path d="M245.59,227.36 A61.78,57.10 0 0 1 246.26,227.08 L248.65,232.01 A55.94,51.70 0 0 0 248.04,232.27Z" fill="#1a1a1a"/>
<path d="M246.26,227.08 A61.78,57.10 0 0 1 246.97,226.79 L249.29,231.75 A55.94,51.70 0 0 0 248.65,232.01Z" fill="#b4b4b4"/>
<path d="M246.97,226.79 A61.78,57.10 0 0 1 249.77,225.75 L251.82,230.80 A55.94,51.70 0 0 0 249.29,231.75Z" fill="#b4b4b4"/>
<path d="M249.77,225.75 A61.78,57.10 0 0 1 250.34,225.55 L252.34,230.63 A55.94,51.70 0 0 0 251.82,230.80Z" fill="#1a1a1a"/>
<path d="M250.34,225.55 A61.78,57.10 0 0 1 250.86,225.38 L252.82,230.47 A55.94,51.70 0 0 0 252.34,230.63Z" fill="#555555"/>
<path d="M250.86,225.38 A61.78,57.10 0 0 1 251.24,225.26 L253.16,230.36 A55.94,51.70 0 0 0 252.82,230.47Z" fill="#1a1a1a"/>
<path d="M251.24,225.26 A61.78,57.10 0 0 1 253.23,224.65 L254.96,229.81 A55.94,51.70 0 0 0 253.16,230.36Z" fill="#d8c4ca"/>
<path d="M253.23,224.65 A61.78,57.10 0 0 1 255.76,223.98 L257.25,229.21 A55.94,51.70 0 0 0 254.96,229.81Z" fill="#b4b4b4"/>
<path d="M255.76,223.98 A61.78,57.10 0 0 1 257.14,223.66 L258.50,228.92 A55.94,51.70 0 0 0 257.25,229.21Z" fill="#e6e6e6"/>
<path d="M257.14,223.66 A61.78,57.10 0 0 1 257.84,223.51 L259.13,228.78 A55.94,51.70 0 0 0 258.50,228.92Z" fill="#1a1a1a"/>
<path d="M257.84,223.51 A61.78,57.10 0 0 1 258.59,223.36 L259.81,228.64 A55.94,51.70 0 0 0 259.13,228.78Z" fill="#555555"/>
<path d="M258.59,223.36 A61.78,57.10 0 0 1 259.57,223.17 L260.70,228.47 A55.94,51.70 0 0 0 259.81,228.64Z" fill="#8a8a8a"/>
<path d="M259.57,223.17 A61.78,57.10 0 0 1 260.02,223.09 L261.11,228.40 A55.94,51.70 0 0 0 260.70,228.47Z" fill="#1a1a1a"/>
<path d="M260.02,223.09 A61.78,57.10 0 0 1 260.61,222.99 L261.64,228.31 A55.94,51.70 0 0 0 261.11,228.40Z" fill="#555555"/>
<path d="M260.61,222.99 A61.78,57.10 0 0 1 260.87,222.95 L261.87,228.27 A55.94,51.70 0 0 0 261.64,228.31Z" fill="#b4b4b4"/>
<path d="M260.87,222.95 A61.78,57.10 0 0 1 261.29,222.88 L262.26,228.21 A55.94,51.70 0 0 0 261.87,228.27Z" fill="#f0f0f0"/>
<text transform="translate(249.37,214.68) rotate(71.3)" x="0" y="2.1" font-size="5.4" text-anchor="middle" fill="#2a2a2a" class="t2" stroke="#2a2a2a" stroke-width="0.25">X</text>
<path d="M261.29,222.88 A61.78,57.10 0 0 1 262.16,222.76 L263.04,228.09 A55.94,51.70 0 0 0 262.26,228.21Z" fill="#8a8a8a"/>
<path d="M262.16,222.76 A61.78,57.10 0 0 1 262.92,222.65 L263.73,228.00 A55.94,51.70 0 0 0 263.04,228.09Z" fill="#555555"/>
<path d="M262.92,222.65 A61.78,57.10 0 0 1 263.49,222.58 L264.25,227.94 A55.94,51.70 0 0 0 263.73,228.00Z" fill="#555555"/>
<path d="M263.49,222.58 A61.78,57.10 0 0 1 265.08,222.41 L265.69,227.78 A55.94,51.70 0 0 0 264.25,227.94Z" fill="#d8c4ca"/>
<path d="M265.08,222.41 A61.78,57.10 0 0 1 267.12,222.24 L267.54,227.63 A55.94,51.70 0 0 0 265.69,227.78Z" fill="#8a8a8a"/>
<path d="M267.12,222.24 A61.78,57.10 0 0 1 267.91,222.20 L268.25,227.59 A55.94,51.70 0 0 0 267.54,227.63Z" fill="#555555"/>
<path d="M267.91,222.20 A61.78,57.10 0 0 1 268.27,222.18 L268.57,227.57 A55.94,51.70 0 0 0 268.25,227.59Z" fill="#b4b4b4"/>
<path d="M268.27,222.18 A61.78,57.10 0 0 1 268.70,222.16 L268.96,227.55 A55.94,51.70 0 0 0 268.57,227.57Z" fill="#f0f0f0"/>
<text transform="translate(264.66,211.50) rotate(83.7)" x="0" y="2.1" font-size="5.4" text-anchor="middle" fill="#2a2a2a" class="t2" stroke="#2a2a2a" stroke-width="0.25">Y</text>
<ellipse cx="271.5" cy="279.2" rx="61.78" ry="57.1" fill="none" stroke="#484848" stroke-width="0.55"/>
<ellipse cx="271.5" cy="279.2" rx="55.94" ry="51.7" fill="none" stroke="#484848" stroke-width="0.55"/>
<path d="M425.43,228.64 Q436.00,279.20 382.46,293.48" stroke="#c8c0dc" stroke-width="0.8" stroke-opacity="0.85" fill="none"/>
<path d="M393.31,312.30 Q436.00,279.20 392.94,311.89" stroke="#ec8c98" stroke-width="0.9" stroke-opacity="0.85" fill="none"/>
<ellipse cx="436.0" cy="279.2" rx="64.81" ry="59.9" fill="none" stroke="#e6d4d8" stroke-width="0.6"/>
<ellipse cx="436.0" cy="279.2" rx="58.86" ry="54.40" fill="none" stroke="#d0d0d0" stroke-width="5.40"/>
<path d="M433.20,222.16 A61.78,57.10 0 0 1 434.49,222.12 L434.63,227.52 A55.94,51.70 0 0 0 433.46,227.55Z" fill="#8a8a8a"/>
<path d="M434.49,222.12 A61.78,57.10 0 0 1 436.08,222.10 L436.07,227.50 A55.94,51.70 0 0 0 434.63,227.52Z" fill="#8a8a8a"/>
<path d="M436.08,222.10 A61.78,57.10 0 0 1 436.47,222.10 L436.42,227.50 A55.94,51.70 0 0 0 436.07,227.50Z" fill="#1a1a1a"/>
<path d="M436.47,222.10 A61.78,57.10 0 0 1 436.94,222.11 L436.85,227.51 A55.94,51.70 0 0 0 436.42,227.50Z" fill="#1a1a1a"/>
<path d="M436.94,222.11 A61.78,57.10 0 0 1 437.68,222.12 L437.52,227.52 A55.94,51.70 0 0 0 436.85,227.51Z" fill="#555555"/>
<path d="M437.68,222.12 A61.78,57.10 0 0 1 439.51,222.19 L439.18,227.58 A55.94,51.70 0 0 0 437.52,227.52Z" fill="#b4b4b4"/>
<path d="M439.51,222.19 A61.78,57.10 0 0 1 440.61,222.26 L440.17,227.64 A55.94,51.70 0 0 0 439.18,227.58Z" fill="#8a8a8a"/>
<path d="M440.61,222.26 A61.78,57.10 0 0 1 443.31,222.50 L442.62,227.86 A55.94,51.70 0 0 0 440.17,227.64Z" fill="#8a8a8a"/>
<path d="M443.31,222.50 A61.78,57.10 0 0 1 445.72,222.81 L444.81,228.14 A55.94,51.70 0 0 0 442.62,227.86Z" fill="#b4b4b4"/>
<path d="M445.72,222.81 A61.78,57.10 0 0 1 446.61,222.95 L445.61,228.27 A55.94,51.70 0 0 0 444.81,228.14Z" fill="#d2d2d2"/>
<path d="M446.61,222.95 A61.78,57.10 0 0 1 447.00,223.01 L445.96,228.33 A55.94,51.70 0 0 0 445.61,228.27Z" fill="#1a1a1a"/>
<path d="M447.00,223.01 A61.78,57.10 0 0 1 447.67,223.13 L446.57,228.43 A55.94,51.70 0 0 0 445.96,228.33Z" fill="#555555"/>
<path d="M447.67,223.13 A61.78,57.10 0 0 1 450.36,223.66 L449.00,228.92 A55.94,51.70 0 0 0 446.57,228.43Z" fill="#b4b4b4"/>
<path d="M450.36,223.66 A61.78,57.10 0 0 1 451.06,223.82 L449.63,229.06 A55.94,51.70 0 0 0 449.00,228.92Z" fill="#555555"/>
<path d="M451.06,223.82 A61.78,57.10 0 0 1 452.76,224.24 L451.18,229.44 A55.94,51.70 0 0 0 449.63,229.06Z" fill="#bca4ac"/>
<path d="M452.76,224.24 A61.78,57.10 0 0 1 453.18,224.35 L451.55,229.54 A55.94,51.70 0 0 0 451.18,229.44Z" fill="#1a1a1a"/>
<path d="M453.18,224.35 A61.78,57.10 0 0 1 454.37,224.68 L452.64,229.84 A55.94,51.70 0 0 0 451.55,229.54Z" fill="#d8c4ca"/>
<path d="M454.37,224.68 A61.78,57.10 0 0 1 456.03,225.18 L454.13,230.29 A55.94,51.70 0 0 0 452.64,229.84Z" fill="#8a8a8a"/>
<path d="M456.03,225.18 A61.78,57.10 0 0 1 456.54,225.35 L454.60,230.44 A55.94,51.70 0 0 0 454.13,230.29Z" fill="#555555"/>
<path d="M456.54,225.35 A61.78,57.10 0 0 1 458.00,225.84 L455.92,230.89 A55.94,51.70 0 0 0 454.60,230.44Z" fill="#8a8a8a"/>
<path d="M458.00,225.84 A61.78,57.10 0 0 1 459.93,226.56 L457.66,231.53 A55.94,51.70 0 0 0 455.92,230.89Z" fill="#e6e6e6"/>
<path d="M459.93,226.56 A61.78,57.10 0 0 1 462.03,227.41 L459.57,232.31 A55.94,51.70 0 0 0 457.66,231.53Z" fill="#bca4ac"/>
<path d="M462.03,227.41 A61.78,57.10 0 0 1 463.07,227.87 L460.51,232.73 A55.94,51.70 0 0 0 459.57,232.31Z" fill="#d8c4ca"/>
<path d="M463.07,227.87 A61.78,57.10 0 0 1 463.46,228.05 L460.86,232.89 A55.94,51.70 0 0 0 460.51,232.73Z" fill="#f0f0f0"/>
<text transform="translate(451.59,212.50) rotate(-78.3)" x="0" y="2.1" font-size="5.4" text-anchor="middle" fill="#2a2a2a" class="t2" stroke="#2a2a2a" stroke-width="0.25">1</text>
<path d="M463.46,228.05 A61.78,57.10 0 0 1 464.13,228.36 L461.47,233.17 A55.94,51.70 0 0 0 460.86,232.89Z" fill="#1a1a1a"/>
<path d="M464.13,228.36 A61.78,57.10 0 0 1 466.71,229.65 L463.81,234.34 A55.94,51.70 0 0 0 461.47,233.17Z" fill="#e6e6e6"/>
<path d="M466.71,229.65 A61.78,57.10 0 0 1 468.47,230.62 L465.40,235.21 A55.94,51.70 0 0 0 463.81,234.34Z" fill="#b4b4b4"/>
<path d="M468.47,230.62 A61.78,57.10 0 0 1 469.51,231.23 L466.34,235.76 A55.94,51.70 0 0 0 465.40,235.21Z" fill="#d2d2d2"/>
<path d="M469.51,231.23 A61.78,57.10 0 0 1 469.85,231.43 L466.65,235.95 A55.94,51.70 0 0 0 466.34,235.76Z" fill="#1a1a1a"/>
<path d="M469.85,231.43 A61.78,57.10 0 0 1 472.06,232.84 L468.65,237.22 A55.94,51.70 0 0 0 466.65,235.95Z" fill="#d8c4ca"/>
<path d="M472.06,232.84 A61.78,57.10 0 0 1 472.84,233.36 L469.35,237.69 A55.94,51.70 0 0 0 468.65,237.22Z" fill="#d2d2d2"/>
<path d="M472.84,233.36 A61.78,57.10 0 0 1 473.24,233.64 L469.72,237.95 A55.94,51.70 0 0 0 469.35,237.69Z" fill="#1a1a1a"/>
<path d="M473.24,233.64 A61.78,57.10 0 0 1 475.20,235.07 L471.49,239.24 A55.94,51.70 0 0 0 469.72,237.95Z" fill="#e6e6e6"/>
<path d="M475.20,235.07 A61.78,57.10 0 0 1 475.86,235.57 L472.09,239.70 A55.94,51.70 0 0 0 471.49,239.24Z" fill="#8a8a8a"/>
<path d="M475.86,235.57 A61.78,57.10 0 0 1 476.51,236.09 L472.68,240.16 A55.94,51.70 0 0 0 472.09,239.70Z" fill="#b4b4b4"/>
<path d="M476.51,236.09 A61.78,57.10 0 0 1 477.63,237.01 L473.69,241.00 A55.94,51.70 0 0 0 472.68,240.16Z" fill="#e6e6e6"/>
<path d="M477.63,237.01 A61.78,57.10 0 0 1 478.22,237.52 L474.23,241.46 A55.94,51.70 0 0 0 473.69,241.00Z" fill="#555555"/>
<path d="M478.22,237.52 A61.78,57.10 0 0 1 478.69,237.92 L474.65,241.82 A55.94,51.70 0 0 0 474.23,241.46Z" fill="#1a1a1a"/>
<path d="M478.69,237.92 A61.78,57.10 0 0 1 479.09,238.28 L475.01,242.15 A55.94,51.70 0 0 0 474.65,241.82Z" fill="#1a1a1a"/>
<path d="M479.09,238.28 A61.78,57.10 0 0 1 479.37,238.53 L475.27,242.38 A55.94,51.70 0 0 0 475.01,242.15Z" fill="#1a1a1a"/>
<path d="M479.37,238.53 A61.78,57.10 0 0 1 479.93,239.05 L475.77,242.85 A55.94,51.70 0 0 0 475.27,242.38Z" fill="#1a1a1a"/>
<path d="M479.93,239.05 A61.78,57.10 0 0 1 480.33,239.43 L476.14,243.19 A55.94,51.70 0 0 0 475.77,242.85Z" fill="#555555"/>
<path d="M480.33,239.43 A61.78,57.10 0 0 1 481.65,240.73 L477.34,244.37 A55.94,51.70 0 0 0 476.14,243.19Z" fill="#b4b4b4"/>
<path d="M481.65,240.73 A61.78,57.10 0 0 1 483.05,242.19 L478.60,245.69 A55.94,51.70 0 0 0 477.34,244.37Z" fill="#8a8a8a"/>
<path d="M483.05,242.19 A61.78,57.10 0 0 1 484.42,243.73 L479.84,247.08 A55.94,51.70 0 0 0 478.60,245.69Z" fill="#bca4ac"/>
<path d="M484.42,243.73 A61.78,57.10 0 0 1 484.84,244.23 L480.22,247.54 A55.94,51.70 0 0 0 479.84,247.08Z" fill="#555555"/>
<path d="M484.84,244.23 A61.78,57.10 0 0 1 485.33,244.82 L480.66,248.07 A55.94,51.70 0 0 0 480.22,247.54Z" fill="#1a1a1a"/>
<path d="M485.33,244.82 A61.78,57.10 0 0 1 486.15,245.86 L481.41,249.01 A55.94,51.70 0 0 0 480.66,248.07Z" fill="#8a8a8a"/>
<path d="M486.15,245.86 A61.78,57.10 0 0 1 486.40,246.18 L481.64,249.30 A55.94,51.70 0 0 0 481.41,249.01Z" fill="#f0f0f0"/>
<text transform="translate(483.60,227.17) rotate(-49.7)" x="0" y="2.1" font-size="5.4" text-anchor="middle" fill="#2a2a2a" class="t2" stroke="#2a2a2a" stroke-width="0.25">2</text>
<path d="M486.40,246.18 A61.78,57.10 0 0 1 486.76,246.65 L481.96,249.73 A55.94,51.70 0 0 0 481.64,249.30Z" fill="#555555"/>
<path d="M486.76,246.65 A61.78,57.10 0 0 1 487.22,247.27 L482.37,250.29 A55.94,51.70 0 0 0 481.96,249.73Z" fill="#8a8a8a"/>
<path d="M487.22,247.27 A61.78,57.10 0 0 1 487.58,247.76 L482.70,250.74 A55.94,51.70 0 0 0 482.37,250.29Z" fill="#1a1a1a"/>
<path d="M487.58,247.76 A61.78,57.10 0 0 1 488.55,249.17 L483.58,252.01 A55.94,51.70 0 0 0 482.70,250.74Z" fill="#b4b4b4"/>
<path d="M488.55,249.17 A61.78,57.10 0 0 1 489.35,250.40 L484.30,253.13 A55.94,51.70 0 0 0 483.58,252.01Z" fill="#b4b4b4"/>
<path d="M489.35,250.40 A61.78,57.10 0 0 1 489.55,250.73 L484.49,253.42 A55.94,51.70 0 0 0 484.30,253.13Z" fill="#1a1a1a"/>
<path d="M489.55,250.73 A61.78,57.10 0 0 1 490.66,252.58 L485.49,255.09 A55.94,51.70 0 0 0 484.49,253.42Z" fill="#d8c4ca"/>
<path d="M490.66,252.58 A61.78,57.10 0 0 1 490.95,253.10 L485.75,255.56 A55.94,51.70 0 0 0 485.49,255.09Z" fill="#555555"/>
<path d="M490.95,253.10 A61.78,57.10 0 0 1 491.18,253.52 L485.96,255.95 A55.94,51.70 0 0 0 485.75,255.56Z" fill="#555555"/>
<path d="M491.18,253.52 A61.78,57.10 0 0 1 491.88,254.84 L486.59,257.14 A55.94,51.70 0 0 0 485.96,255.95Z" fill="#8a8a8a"/>
<path d="M491.88,254.84 A61.78,57.10 0 0 1 492.18,255.43 L486.86,257.68 A55.94,51.70 0 0 0 486.59,257.14Z" fill="#555555"/>
<path d="M492.18,255.43 A61.78,57.10 0 0 1 492.51,256.12 L487.17,258.30 A55.94,51.70 0 0 0 486.86,257.68Z" fill="#8a8a8a"/>
<path d="M492.51,256.12 A61.78,57.10 0 0 1 492.70,256.52 L487.34,258.67 A55.94,51.70 0 0 0 487.17,258.30Z" fill="#1a1a1a"/>
<path d="M492.70,256.52 A61.78,57.10 0 0 1 492.88,256.91 L487.50,259.02 A55.94,51.70 0 0 0 487.34,258.67Z" fill="#1a1a1a"/>
<path d="M492.88,256.91 A61.78,57.10 0 0 1 493.54,258.40 L488.10,260.37 A55.94,51.70 0 0 0 487.50,259.02Z" fill="#b4b4b4"/>
<path d="M493.54,258.40 A61.78,57.10 0 0 1 493.73,258.85 L488.27,260.78 A55.94,51.70 0 0 0 488.10,260.37Z" fill="#1a1a1a"/>
<path d="M493.73,258.85 A61.78,57.10 0 0 1 493.99,259.50 L488.50,261.36 A55.94,51.70 0 0 0 488.27,260.78Z" fill="#555555"/>
<path d="M493.99,259.50 A61.78,57.10 0 0 1 494.21,260.07 L488.71,261.88 A55.94,51.70 0 0 0 488.50,261.36Z" fill="#1a1a1a"/>
<path d="M494.21,260.07 A61.78,57.10 0 0 1 494.37,260.48 L488.85,262.25 A55.94,51.70 0 0 0 488.71,261.88Z" fill="#555555"/>
<path d="M494.37,260.48 A61.78,57.10 0 0 1 494.70,261.38 L489.15,263.07 A55.94,51.70 0 0 0 488.85,262.25Z" fill="#8a8a8a"/>
<path d="M494.70,261.38 A61.78,57.10 0 0 1 495.06,262.43 L489.47,264.02 A55.94,51.70 0 0 0 489.15,263.07Z" fill="#d2d2d2"/>
<path d="M495.06,262.43 A61.78,57.10 0 0 1 495.20,262.87 L489.60,264.41 A55.94,51.70 0 0 0 489.47,264.02Z" fill="#1a1a1a"/>
<path d="M495.20,262.87 A61.78,57.10 0 0 1 495.89,265.17 L490.22,266.50 A55.94,51.70 0 0 0 489.60,264.41Z" fill="#b4b4b4"/>
<path d="M495.89,265.17 A61.78,57.10 0 0 1 495.99,265.56 L490.32,266.85 A55.94,51.70 0 0 0 490.22,266.50Z" fill="#1a1a1a"/>
<path d="M495.99,265.56 A61.78,57.10 0 0 1 496.27,266.64 L490.57,267.83 A55.94,51.70 0 0 0 490.32,266.85Z" fill="#d2d2d2"/>
<path d="M496.27,266.64 A61.78,57.10 0 0 1 496.36,267.03 L490.65,268.18 A55.94,51.70 0 0 0 490.57,267.83Z" fill="#f0f0f0"/>
<text transform="translate(502.77,251.19) rotate(-24.0)" x="0" y="2.1" font-size="5.4" text-anchor="middle" fill="#2a2a2a" class="t2" stroke="#2a2a2a" stroke-width="0.25">3</text>
<path d="M496.36,267.03 A61.78,57.10 0 0 1 496.48,267.54 L490.76,268.64 A55.94,51.70 0 0 0 490.65,268.18Z" fill="#1a1a1a"/>
<path d="M496.48,267.54 A61.78,57.10 0 0 1 496.63,268.24 L490.90,269.27 A55.94,51.70 0 0 0 490.76,268.64Z" fill="#555555"/>
<path d="M496.63,268.24 A61.78,57.10 0 0 1 496.78,268.95 L491.03,269.92 A55.94,51.70 0 0 0 490.90,269.27Z" fill="#1a1a1a"/>
<path d="M496.78,268.95 A61.78,57.10 0 0 1 497.21,271.46 L491.42,272.19 A55.94,51.70 0 0 0 491.03,269.92Z" fill="#d8c4ca"/>
<path d="M497.21,271.46 A61.78,57.10 0 0 1 497.42,273.05 L491.61,273.63 A55.94,51.70 0 0 0 491.42,272.19Z" fill="#bca4ac"/>
<path d="M497.42,273.05 A61.78,57.10 0 0 1 497.49,273.69 L491.68,274.22 A55.94,51.70 0 0 0 491.61,273.63Z" fill="#1a1a1a"/>
<path d="M497.49,273.69 A61.78,57.10 0 0 1 497.69,276.14 L491.86,276.43 A55.94,51.70 0 0 0 491.68,274.22Z" fill="#b4b4b4"/>
<path d="M497.69,276.14 A61.78,57.10 0 0 1 497.72,276.62 L491.88,276.86 A55.94,51.70 0 0 0 491.86,276.43Z" fill="#1a1a1a"/>
<path d="M497.72,276.62 A61.78,57.10 0 0 1 497.74,277.20 L491.91,277.39 A55.94,51.70 0 0 0 491.88,276.86Z" fill="#1a1a1a"/>
<path d="M497.74,277.20 A61.78,57.10 0 0 1 497.78,278.50 L491.94,278.57 A55.94,51.70 0 0 0 491.91,277.39Z" fill="#d2d2d2"/>
<path d="M497.78,278.50 A61.78,57.10 0 0 1 497.78,279.29 L491.94,279.28 A55.94,51.70 0 0 0 491.94,278.57Z" fill="#e6e6e6"/>
<path d="M497.78,279.29 A61.78,57.10 0 0 1 497.73,281.44 L491.90,281.23 A55.94,51.70 0 0 0 491.94,279.28Z" fill="#bca4ac"/>
<path d="M497.73,281.44 A61.78,57.10 0 0 1 497.56,284.01 L491.74,283.56 A55.94,51.70 0 0 0 491.90,281.23Z" fill="#e6e6e6"/>
<path d="M497.56,284.01 A61.78,57.10 0 0 1 497.50,284.65 L491.68,284.14 A55.94,51.70 0 0 0 491.74,283.56Z" fill="#1a1a1a"/>
<path d="M497.50,284.65 A61.78,57.10 0 0 1 497.43,285.26 L491.62,284.69 A55.94,51.70 0 0 0 491.68,284.14Z" fill="#1a1a1a"/>
<path d="M497.43,285.26 A61.78,57.10 0 0 1 497.34,285.98 L491.54,285.34 A55.94,51.70 0 0 0 491.62,284.69Z" fill="#555555"/>
<path d="M497.34,285.98 A61.78,57.10 0 0 1 497.29,286.43 L491.49,285.75 A55.94,51.70 0 0 0 491.54,285.34Z" fill="#1a1a1a"/>
<path d="M497.29,286.43 A61.78,57.10 0 0 1 497.19,287.08 L491.40,286.34 A55.94,51.70 0 0 0 491.49,285.75Z" fill="#555555"/>
<path d="M497.19,287.08 A61.78,57.10 0 0 1 497.10,287.64 L491.32,286.84 A55.94,51.70 0 0 0 491.40,286.34Z" fill="#1a1a1a"/>
<path d="M497.10,287.64 A61.78,57.10 0 0 1 496.99,288.30 L491.23,287.44 A55.94,51.70 0 0 0 491.32,286.84Z" fill="#1a1a1a"/>
<path d="M496.99,288.30 A61.78,57.10 0 0 1 496.93,288.65 L491.17,287.76 A55.94,51.70 0 0 0 491.23,287.44Z" fill="#d2d2d2"/>
<path d="M496.93,288.65 A61.78,57.10 0 0 1 496.86,289.04 L491.10,288.11 A55.94,51.70 0 0 0 491.17,287.76Z" fill="#f0f0f0"/>
<text transform="translate(508.98,277.06) rotate(-1.4)" x="0" y="2.1" font-size="5.4" text-anchor="middle" fill="#2a2a2a" class="t2" stroke="#2a2a2a" stroke-width="0.25">4</text>
<path d="M496.86,289.04 A61.78,57.10 0 0 1 496.74,289.63 L491.00,288.65 A55.94,51.70 0 0 0 491.10,288.11Z" fill="#1a1a1a"/>
<path d="M496.74,289.63 A61.78,57.10 0 0 1 496.65,290.08 L490.91,289.05 A55.94,51.70 0 0 0 491.00,288.65Z" fill="#1a1a1a"/>
<path d="M496.65,290.08 A61.78,57.10 0 0 1 496.38,291.32 L490.67,290.17 A55.94,51.70 0 0 0 490.91,289.05Z" fill="#8a8a8a"/>
<path d="M496.38,291.32 A61.78,57.10 0 0 1 496.22,291.96 L490.53,290.75 A55.94,51.70 0 0 0 490.67,290.17Z" fill="#555555"/>
<path d="M496.22,291.96 A61.78,57.10 0 0 1 496.12,292.35 L490.44,291.10 A55.94,51.70 0 0 0 490.53,290.75Z" fill="#1a1a1a"/>
<path d="M496.12,292.35 A61.78,57.10 0 0 1 495.93,293.06 L490.27,291.75 A55.94,51.70 0 0 0 490.44,291.10Z" fill="#1a1a1a"/>
<path d="M495.93,293.06 A61.78,57.10 0 0 1 495.79,293.60 L490.13,292.23 A55.94,51.70 0 0 0 490.27,291.75Z" fill="#1a1a1a"/>
<path d="M495.79,293.60 A61.78,57.10 0 0 1 495.65,294.07 L490.01,292.66 A55.94,51.70 0 0 0 490.13,292.23Z" fill="#1a1a1a"/>
<path d="M495.65,294.07 A61.78,57.10 0 0 1 495.03,296.04 L489.45,294.45 A55.94,51.70 0 0 0 490.01,292.66Z" fill="#8a8a8a"/>
<path d="M495.03,296.04 A61.78,57.10 0 0 1 494.88,296.50 L489.31,294.86 A55.94,51.70 0 0 0 489.45,294.45Z" fill="#1a1a1a"/>
<path d="M494.88,296.50 A61.78,57.10 0 0 1 494.56,297.41 L489.02,295.68 A55.94,51.70 0 0 0 489.31,294.86Z" fill="#8a8a8a"/>
<path d="M494.56,297.41 A61.78,57.10 0 0 1 494.42,297.77 L488.90,296.01 A55.94,51.70 0 0 0 489.02,295.68Z" fill="#555555"/>
<path d="M494.42,297.77 A61.78,57.10 0 0 1 494.21,298.32 L488.71,296.51 A55.94,51.70 0 0 0 488.90,296.01Z" fill="#555555"/>
<path d="M494.21,298.32 A61.78,57.10 0 0 1 493.97,298.95 L488.49,297.08 A55.94,51.70 0 0 0 488.71,296.51Z" fill="#555555"/>
<path d="M493.97,298.95 A61.78,57.10 0 0 1 493.78,299.42 L488.32,297.51 A55.94,51.70 0 0 0 488.49,297.08Z" fill="#555555"/>
<path d="M493.78,299.42 A61.78,57.10 0 0 1 493.09,301.03 L487.69,298.97 A55.94,51.70 0 0 0 488.32,297.51Z" fill="#b4b4b4"/>
<path d="M493.09,301.03 A61.78,57.10 0 0 1 492.41,302.48 L487.08,300.28 A55.94,51.70 0 0 0 487.69,298.97Z" fill="#b4b4b4"/>
<path d="M492.41,302.48 A61.78,57.10 0 0 1 492.16,302.99 L486.85,300.74 A55.94,51.70 0 0 0 487.08,300.28Z" fill="#1a1a1a"/>
<path d="M492.16,302.99 A61.78,57.10 0 0 1 491.93,303.46 L486.64,301.17 A55.94,51.70 0 0 0 486.85,300.74Z" fill="#1a1a1a"/>
<path d="M491.93,303.46 A61.78,57.10 0 0 1 491.18,304.89 L485.96,302.46 A55.94,51.70 0 0 0 486.64,301.17Z" fill="#e6e6e6"/>
<path d="M491.18,304.89 A61.78,57.10 0 0 1 490.83,305.52 L485.64,303.03 A55.94,51.70 0 0 0 485.96,302.46Z" fill="#555555"/>
<path d="M490.83,305.52 A61.78,57.10 0 0 1 490.56,305.99 L485.40,303.46 A55.94,51.70 0 0 0 485.64,303.03Z" fill="#1a1a1a"/>
<path d="M490.56,305.99 A61.78,57.10 0 0 1 490.07,306.83 L484.95,304.22 A55.94,51.70 0 0 0 485.40,303.46Z" fill="#d2d2d2"/>
<path d="M490.07,306.83 A61.78,57.10 0 0 1 489.20,308.24 L484.17,305.49 A55.94,51.70 0 0 0 484.95,304.22Z" fill="#e6e6e6"/>
<path d="M489.20,308.24 A61.78,57.10 0 0 1 488.98,308.58 L483.97,305.80 A55.94,51.70 0 0 0 484.17,305.49Z" fill="#f0f0f0"/>
<text transform="translate(504.55,302.09) rotate(20.2)" x="0" y="2.1" font-size="5.4" text-anchor="middle" fill="#2a2a2a" class="t2" stroke="#2a2a2a" stroke-width="0.25">5</text>
<path d="M488.98,308.58 A61.78,57.10 0 0 1 487.62,310.57 L482.74,307.61 A55.94,51.70 0 0 0 483.97,305.80Z" fill="#b4b4b4"/>
<path d="M487.62,310.57 A61.78,57.10 0 0 1 486.25,312.41 L481.50,309.27 A55.94,51.70 0 0 0 482.74,307.61Z" fill="#8a8a8a"/>
<path d="M486.25,312.41 A61.78,57.10 0 0 1 485.67,313.15 L480.98,309.94 A55.94,51.70 0 0 0 481.50,309.27Z" fill="#8a8a8a"/>
<path d="M485.67,313.15 A61.78,57.10 0 0 1 485.25,313.68 L480.59,310.42 A55.94,51.70 0 0 0 480.98,309.94Z" fill="#1a1a1a"/>
<path d="M485.25,313.68 A61.78,57.10 0 0 1 484.99,313.99 L480.36,310.70 A55.94,51.70 0 0 0 480.59,310.42Z" fill="#1a1a1a"/>
<path d="M484.99,313.99 A61.78,57.10 0 0 1 484.75,314.27 L480.14,310.95 A55.94,51.70 0 0 0 480.36,310.70Z" fill="#1a1a1a"/>
<path d="M484.75,314.27 A61.78,57.10 0 0 1 484.30,314.81 L479.73,311.44 A55.94,51.70 0 0 0 480.14,310.95Z" fill="#1a1a1a"/>
<path d="M484.30,314.81 A61.78,57.10 0 0 1 482.84,316.43 L478.41,312.91 A55.94,51.70 0 0 0 479.73,311.44Z" fill="#d2d2d2"/>
<path d="M482.84,316.43 A61.78,57.10 0 0 1 480.89,318.43 L476.65,314.72 A55.94,51.70 0 0 0 478.41,312.91Z" fill="#8a8a8a"/>
<path d="M480.89,318.43 A61.78,57.10 0 0 1 480.40,318.90 L476.20,315.15 A55.94,51.70 0 0 0 476.65,314.72Z" fill="#1a1a1a"/>
<path d="M480.40,318.90 A61.78,57.10 0 0 1 479.05,320.15 L474.98,316.28 A55.94,51.70 0 0 0 476.20,315.15Z" fill="#b4b4b4"/>
<path d="M479.05,320.15 A61.78,57.10 0 0 1 478.33,320.79 L474.33,316.86 A55.94,51.70 0 0 0 474.98,316.28Z" fill="#b4b4b4"/>
<path d="M478.33,320.79 A61.78,57.10 0 0 1 477.95,321.12 L473.98,317.15 A55.94,51.70 0 0 0 474.33,316.86Z" fill="#1a1a1a"/>
<path d="M477.95,321.12 A61.78,57.10 0 0 1 476.44,322.37 L472.61,318.29 A55.94,51.70 0 0 0 473.98,317.15Z" fill="#d2d2d2"/>
<path d="M476.44,322.37 A61.78,57.10 0 0 1 476.07,322.66 L472.28,318.55 A55.94,51.70 0 0 0 472.61,318.29Z" fill="#1a1a1a"/>
<path d="M476.07,322.66 A61.78,57.10 0 0 1 475.33,323.24 L471.61,319.07 A55.94,51.70 0 0 0 472.28,318.55Z" fill="#d2d2d2"/>
<path d="M475.33,323.24 A61.78,57.10 0 0 1 475.00,323.49 L471.31,319.30 A55.94,51.70 0 0 0 471.61,319.07Z" fill="#f0f0f0"/>
<text transform="translate(491.57,322.79) rotate(40.7)" x="0" y="2.1" font-size="5.4" text-anchor="middle" fill="#2a2a2a" class="t2" stroke="#2a2a2a" stroke-width="0.25">6</text>
<path d="M475.00,323.49 A61.78,57.10 0 0 1 474.57,323.81 L470.92,319.59 A55.94,51.70 0 0 0 471.31,319.30Z" fill="#555555"/>
<path d="M474.57,323.81 A61.78,57.10 0 0 1 474.25,324.04 L470.63,319.80 A55.94,51.70 0 0 0 470.92,319.59Z" fill="#555555"/>
<path d="M474.25,324.04 A61.78,57.10 0 0 1 472.74,325.10 L469.27,320.76 A55.94,51.70 0 0 0 470.63,319.80Z" fill="#d8c4ca"/>
<path d="M472.74,325.10 A61.78,57.10 0 0 1 471.37,326.01 L468.03,321.59 A55.94,51.70 0 0 0 469.27,320.76Z" fill="#b4b4b4"/>
<path d="M471.37,326.01 A61.78,57.10 0 0 1 470.45,326.60 L467.19,322.12 A55.94,51.70 0 0 0 468.03,321.59Z" fill="#b4b4b4"/>
<path d="M470.45,326.60 A61.78,57.10 0 0 1 468.38,327.83 L465.31,323.23 A55.94,51.70 0 0 0 467.19,322.12Z" fill="#b4b4b4"/>
<path d="M468.38,327.83 A61.78,57.10 0 0 1 467.82,328.15 L464.81,323.52 A55.94,51.70 0 0 0 465.31,323.23Z" fill="#555555"/>
<path d="M467.82,328.15 A61.78,57.10 0 0 1 467.46,328.34 L464.48,323.70 A55.94,51.70 0 0 0 464.81,323.52Z" fill="#1a1a1a"/>
<path d="M467.46,328.34 A61.78,57.10 0 0 1 465.32,329.46 L462.55,324.71 A55.94,51.70 0 0 0 464.48,323.70Z" fill="#e6e6e6"/>
<path d="M465.32,329.46 A61.78,57.10 0 0 1 464.72,329.76 L462.00,324.98 A55.94,51.70 0 0 0 462.55,324.71Z" fill="#555555"/>
<path d="M464.72,329.76 A61.78,57.10 0 0 1 464.31,329.95 L461.63,325.15 A55.94,51.70 0 0 0 462.00,324.98Z" fill="#1a1a1a"/>
<path d="M464.31,329.95 A61.78,57.10 0 0 1 463.88,330.16 L461.24,325.34 A55.94,51.70 0 0 0 461.63,325.15Z" fill="#1a1a1a"/>
<path d="M463.88,330.16 A61.78,57.10 0 0 1 461.79,331.09 L459.35,326.18 A55.94,51.70 0 0 0 461.24,325.34Z" fill="#bca4ac"/>
<path d="M461.79,331.09 A61.78,57.10 0 0 1 460.49,331.62 L458.17,326.66 A55.94,51.70 0 0 0 459.35,326.18Z" fill="#b4b4b4"/>
<path d="M460.49,331.62 A61.78,57.10 0 0 1 458.93,332.22 L456.76,327.21 A55.94,51.70 0 0 0 458.17,326.66Z" fill="#d2d2d2"/>
<path d="M458.93,332.22 A61.78,57.10 0 0 1 458.49,332.38 L456.36,327.35 A55.94,51.70 0 0 0 456.76,327.21Z" fill="#1a1a1a"/>
<path d="M458.49,332.38 A61.78,57.10 0 0 1 458.18,332.50 L456.08,327.45 A55.94,51.70 0 0 0 456.36,327.35Z" fill="#555555"/>
<path d="M458.18,332.50 A61.78,57.10 0 0 1 457.77,332.64 L455.71,327.58 A55.94,51.70 0 0 0 456.08,327.45Z" fill="#f0f0f0"/>
<text transform="translate(473.09,337.19) rotate(59.9)" x="0" y="2.1" font-size="5.4" text-anchor="middle" fill="#2a2a2a" class="t2" stroke="#2a2a2a" stroke-width="0.25">7</text>
<path d="M457.77,332.64 A61.78,57.10 0 0 1 457.29,332.80 L455.28,327.73 A55.94,51.70 0 0 0 455.71,327.58Z" fill="#555555"/>
<path d="M457.29,332.80 A61.78,57.10 0 0 1 456.53,333.05 L454.59,327.96 A55.94,51.70 0 0 0 455.28,327.73Z" fill="#1a1a1a"/>
<path d="M456.53,333.05 A61.78,57.10 0 0 1 454.79,333.60 L453.01,328.45 A55.94,51.70 0 0 0 454.59,327.96Z" fill="#8a8a8a"/>
<path d="M454.79,333.60 A61.78,57.10 0 0 1 453.05,334.08 L451.44,328.89 A55.94,51.70 0 0 0 453.01,328.45Z" fill="#d2d2d2"/>
<path d="M453.05,334.08 A61.78,57.10 0 0 1 450.52,334.70 L449.15,329.45 A55.94,51.70 0 0 0 451.44,328.89Z" fill="#8a8a8a"/>
<path d="M450.52,334.70 A61.78,57.10 0 0 1 448.72,335.08 L447.52,329.79 A55.94,51.70 0 0 0 449.15,329.45Z" fill="#b4b4b4"/>
<path d="M448.72,335.08 A61.78,57.10 0 0 1 448.04,335.20 L446.90,329.91 A55.94,51.70 0 0 0 447.52,329.79Z" fill="#555555"/>
<path d="M448.04,335.20 A61.78,57.10 0 0 1 447.57,335.29 L446.48,329.98 A55.94,51.70 0 0 0 446.90,329.91Z" fill="#555555"/>
<path d="M447.57,335.29 A61.78,57.10 0 0 1 446.31,335.50 L445.33,330.18 A55.94,51.70 0 0 0 446.48,329.98Z" fill="#b4b4b4"/>
<path d="M446.31,335.50 A61.78,57.10 0 0 1 444.05,335.81 L443.29,330.46 A55.94,51.70 0 0 0 445.33,330.18Z" fill="#d8c4ca"/>
<path d="M444.05,335.81 A61.78,57.10 0 0 1 443.59,335.87 L442.88,330.51 A55.94,51.70 0 0 0 443.29,330.46Z" fill="#1a1a1a"/>
<path d="M443.59,335.87 A61.78,57.10 0 0 1 442.92,335.94 L442.26,330.57 A55.94,51.70 0 0 0 442.88,330.51Z" fill="#1a1a1a"/>
<path d="M442.92,335.94 A61.78,57.10 0 0 1 440.32,336.16 L439.91,330.77 A55.94,51.70 0 0 0 442.26,330.57Z" fill="#e6e6e6"/>
<path d="M440.32,336.16 A61.78,57.10 0 0 1 439.89,336.19 L439.52,330.80 A55.94,51.70 0 0 0 439.91,330.77Z" fill="#f0f0f0"/>
<text transform="translate(452.36,344.74) rotate(77.7)" x="0" y="2.1" font-size="5.4" text-anchor="middle" fill="#2a2a2a" class="t2" stroke="#2a2a2a" stroke-width="0.25">8</text>
<path d="M439.89,336.19 A61.78,57.10 0 0 1 438.56,336.25 L438.32,330.86 A55.94,51.70 0 0 0 439.52,330.80Z" fill="#d2d2d2"/>
<path d="M438.56,336.25 A61.78,57.10 0 0 1 437.87,336.27 L437.69,330.88 A55.94,51.70 0 0 0 438.32,330.86Z" fill="#555555"/>
<path d="M437.87,336.27 A61.78,57.10 0 0 1 437.13,336.29 L437.02,330.89 A55.94,51.70 0 0 0 437.69,330.88Z" fill="#1a1a1a"/>
<path d="M437.13,336.29 A61.78,57.10 0 0 1 436.50,336.30 L436.46,330.90 A55.94,51.70 0 0 0 437.02,330.89Z" fill="#555555"/>
<path d="M436.50,336.30 A61.78,57.10 0 0 1 435.98,336.30 L435.98,330.90 A55.94,51.70 0 0 0 436.46,330.90Z" fill="#1a1a1a"/>
<path d="M435.98,336.30 A61.78,57.10 0 0 1 435.51,336.30 L435.56,330.90 A55.94,51.70 0 0 0 435.98,330.90Z" fill="#555555"/>
<path d="M435.51,336.30 A61.78,57.10 0 0 1 433.43,336.25 L433.68,330.86 A55.94,51.70 0 0 0 435.56,330.90Z" fill="#bca4ac"/>
<path d="M433.43,336.25 A61.78,57.10 0 0 1 431.80,336.17 L432.19,330.78 A55.94,51.70 0 0 0 433.68,330.86Z" fill="#8a8a8a"/>
<path d="M431.80,336.17 A61.78,57.10 0 0 1 431.13,336.12 L431.59,330.74 A55.94,51.70 0 0 0 432.19,330.78Z" fill="#1a1a1a"/>
<path d="M431.13,336.12 A61.78,57.10 0 0 1 430.13,336.04 L430.68,330.67 A55.94,51.70 0 0 0 431.59,330.74Z" fill="#e6e6e6"/>
<path d="M430.13,336.04 A61.78,57.10 0 0 1 429.35,335.97 L429.98,330.60 A55.94,51.70 0 0 0 430.68,330.67Z" fill="#1a1a1a"/>
<path d="M429.35,335.97 A61.78,57.10 0 0 1 427.76,335.79 L428.54,330.44 A55.94,51.70 0 0 0 429.98,330.60Z" fill="#d2d2d2"/>
<path d="M427.76,335.79 A61.78,57.10 0 0 1 427.10,335.70 L427.94,330.36 A55.94,51.70 0 0 0 428.54,330.44Z" fill="#1a1a1a"/>
<path d="M427.10,335.70 A61.78,57.10 0 0 1 424.89,335.37 L425.94,330.06 A55.94,51.70 0 0 0 427.94,330.36Z" fill="#d2d2d2"/>
<path d="M424.89,335.37 A61.78,57.10 0 0 1 423.56,335.13 L424.73,329.84 A55.94,51.70 0 0 0 425.94,330.06Z" fill="#d2d2d2"/>
<path d="M423.56,335.13 A61.78,57.10 0 0 1 422.72,334.97 L423.98,329.69 A55.94,51.70 0 0 0 424.73,329.84Z" fill="#b4b4b4"/>
<path d="M422.72,334.97 A61.78,57.10 0 0 1 422.30,334.88 L423.60,329.61 A55.94,51.70 0 0 0 423.98,329.69Z" fill="#f0f0f0"/>
<text transform="translate(431.47,346.10) rotate(-85.6)" x="0" y="2.1" font-size="5.4" text-anchor="middle" fill="#2a2a2a" class="t2" stroke="#2a2a2a" stroke-width="0.25">9</text>
<path d="M422.30,334.88 A61.78,57.10 0 0 1 421.72,334.75 L423.07,329.50 A55.94,51.70 0 0 0 423.60,329.61Z" fill="#1a1a1a"/>
<path d="M421.72,334.75 A61.78,57.10 0 0 1 420.22,334.41 L421.71,329.18 A55.94,51.70 0 0 0 423.07,329.50Z" fill="#b4b4b4"/>
<path d="M420.22,334.41 A61.78,57.10 0 0 1 418.01,333.83 L419.72,328.66 A55.94,51.70 0 0 0 421.71,329.18Z" fill="#8a8a8a"/>
<path d="M418.01,333.83 A61.78,57.10 0 0 1 416.90,333.50 L418.71,328.37 A55.94,51.70 0 0 0 419.72,328.66Z" fill="#b4b4b4"/>
<path d="M416.90,333.50 A61.78,57.10 0 0 1 416.18,333.28 L418.05,328.17 A55.94,51.70 0 0 0 418.71,328.37Z" fill="#1a1a1a"/>
<path d="M416.18,333.28 A61.78,57.10 0 0 1 415.44,333.05 L417.39,327.95 A55.94,51.70 0 0 0 418.05,328.17Z" fill="#1a1a1a"/>
<path d="M415.44,333.05 A61.78,57.10 0 0 1 414.80,332.83 L416.80,327.76 A55.94,51.70 0 0 0 417.39,327.95Z" fill="#1a1a1a"/>
<path d="M414.80,332.83 A61.78,57.10 0 0 1 412.83,332.13 L415.02,327.13 A55.94,51.70 0 0 0 416.80,327.76Z" fill="#8a8a8a"/>
<path d="M412.83,332.13 A61.78,57.10 0 0 1 412.35,331.95 L414.59,326.96 A55.94,51.70 0 0 0 415.02,327.13Z" fill="#555555"/>
<path d="M412.35,331.95 A61.78,57.10 0 0 1 411.72,331.71 L414.02,326.74 A55.94,51.70 0 0 0 414.59,326.96Z" fill="#1a1a1a"/>
<path d="M411.72,331.71 A61.78,57.10 0 0 1 409.48,330.77 L411.98,325.89 A55.94,51.70 0 0 0 414.02,326.74Z" fill="#8a8a8a"/>
<path d="M409.48,330.77 A61.78,57.10 0 0 1 409.03,330.57 L411.58,325.72 A55.94,51.70 0 0 0 411.98,325.89Z" fill="#555555"/>
<path d="M409.03,330.57 A61.78,57.10 0 0 1 407.58,329.90 L410.27,325.11 A55.94,51.70 0 0 0 411.58,325.72Z" fill="#e6e6e6"/>
<path d="M407.58,329.90 A61.78,57.10 0 0 1 407.15,329.69 L409.88,324.92 A55.94,51.70 0 0 0 410.27,325.11Z" fill="#555555"/>
<path d="M407.15,329.69 A61.78,57.10 0 0 1 406.83,329.54 L409.59,324.78 A55.94,51.70 0 0 0 409.88,324.92Z" fill="#1a1a1a"/>
<path d="M406.83,329.54 A61.78,57.10 0 0 1 406.45,329.35 L409.25,324.60 A55.94,51.70 0 0 0 409.59,324.78Z" fill="#f0f0f0"/>
<text transform="translate(411.80,342.02) rotate(-69.5)" x="0" y="2.1" font-size="5.4" text-anchor="middle" fill="#2a2a2a" class="t2" stroke="#2a2a2a" stroke-width="0.25">10</text>
<path d="M406.45,329.35 A61.78,57.10 0 0 1 405.00,328.59 L407.93,323.92 A55.94,51.70 0 0 0 409.25,324.60Z" fill="#8a8a8a"/>
<path d="M405.00,328.59 A61.78,57.10 0 0 1 404.36,328.24 L407.35,323.61 A55.94,51.70 0 0 0 407.93,323.92Z" fill="#1a1a1a"/>
<path d="M404.36,328.24 A61.78,57.10 0 0 1 404.00,328.04 L407.03,323.42 A55.94,51.70 0 0 0 407.35,323.61Z" fill="#1a1a1a"/>
<path d="M404.00,328.04 A61.78,57.10 0 0 1 403.14,327.55 L406.25,322.98 A55.94,51.70 0 0 0 407.03,323.42Z" fill="#d2d2d2"/>
<path d="M403.14,327.55 A61.78,57.10 0 0 1 402.75,327.33 L405.90,322.78 A55.94,51.70 0 0 0 406.25,322.98Z" fill="#1a1a1a"/>
<path d="M402.75,327.33 A61.78,57.10 0 0 1 401.33,326.46 L404.61,321.99 A55.94,51.70 0 0 0 405.90,322.78Z" fill="#b4b4b4"/>
<path d="M401.33,326.46 A61.78,57.10 0 0 1 399.21,325.07 L402.69,320.73 A55.94,51.70 0 0 0 404.61,321.99Z" fill="#b4b4b4"/>
<path d="M399.21,325.07 A61.78,57.10 0 0 1 398.77,324.77 L402.29,320.46 A55.94,51.70 0 0 0 402.69,320.73Z" fill="#1a1a1a"/>
<path d="M398.77,324.77 A61.78,57.10 0 0 1 397.83,324.10 L401.44,319.85 A55.94,51.70 0 0 0 402.29,320.46Z" fill="#8a8a8a"/>
<path d="M397.83,324.10 A61.78,57.10 0 0 1 397.45,323.82 L401.09,319.60 A55.94,51.70 0 0 0 401.44,319.85Z" fill="#1a1a1a"/>
<path d="M397.45,323.82 A61.78,57.10 0 0 1 396.88,323.40 L400.58,319.22 A55.94,51.70 0 0 0 401.09,319.60Z" fill="#1a1a1a"/>
<path d="M396.88,323.40 A61.78,57.10 0 0 1 394.78,321.73 L398.67,317.71 A55.94,51.70 0 0 0 400.58,319.22Z" fill="#bca4ac"/>
<path d="M394.78,321.73 A61.78,57.10 0 0 1 393.58,320.72 L397.59,316.79 A55.94,51.70 0 0 0 398.67,317.71Z" fill="#8a8a8a"/>
<path d="M393.58,320.72 A61.78,57.10 0 0 1 393.18,320.36 L397.23,316.47 A55.94,51.70 0 0 0 397.59,316.79Z" fill="#8a8a8a"/>
<path d="M393.18,320.36 A61.78,57.10 0 0 1 392.87,320.09 L396.95,316.22 A55.94,51.70 0 0 0 397.23,316.47Z" fill="#f0f0f0"/>
<text transform="translate(394.46,333.24) rotate(-53.8)" x="0" y="2.1" font-size="5.4" text-anchor="middle" fill="#2a2a2a" class="t2" stroke="#2a2a2a" stroke-width="0.25">11</text>
<path d="M392.87,320.09 A61.78,57.10 0 0 1 390.80,318.13 L395.07,314.44 A55.94,51.70 0 0 0 396.95,316.22Z" fill="#b4b4b4"/>
<path d="M390.80,318.13 A61.78,57.10 0 0 1 389.83,317.15 L394.20,313.56 A55.94,51.70 0 0 0 395.07,314.44Z" fill="#d2d2d2"/>
<path d="M389.83,317.15 A61.78,57.10 0 0 1 388.63,315.85 L393.11,312.39 A55.94,51.70 0 0 0 394.20,313.56Z" fill="#8a8a8a"/>
<path d="M388.63,315.85 A61.78,57.10 0 0 1 388.17,315.35 L392.70,311.93 A55.94,51.70 0 0 0 393.11,312.39Z" fill="#1a1a1a"/>
<path d="M388.17,315.35 A61.78,57.10 0 0 1 387.79,314.91 L392.35,311.54 A55.94,51.70 0 0 0 392.70,311.93Z" fill="#555555"/>
<path d="M387.79,314.91 A61.78,57.10 0 0 1 387.42,314.47 L392.01,311.14 A55.94,51.70 0 0 0 392.35,311.54Z" fill="#1a1a1a"/>
<path d="M387.42,314.47 A61.78,57.10 0 0 1 387.01,314.00 L391.65,310.71 A55.94,51.70 0 0 0 392.01,311.14Z" fill="#555555"/>
<path d="M387.01,314.00 A61.78,57.10 0 0 1 385.96,312.69 L390.69,309.52 A55.94,51.70 0 0 0 391.65,310.71Z" fill="#8a8a8a"/>
<path d="M385.96,312.69 A61.78,57.10 0 0 1 384.30,310.46 L389.19,307.51 A55.94,51.70 0 0 0 390.69,309.52Z" fill="#e6e6e6"/>
<path d="M384.30,310.46 A61.78,57.10 0 0 1 383.73,309.64 L388.67,306.76 A55.94,51.70 0 0 0 389.19,307.51Z" fill="#d2d2d2"/>
<path d="M383.73,309.64 A61.78,57.10 0 0 1 383.45,309.22 L388.42,306.38 A55.94,51.70 0 0 0 388.67,306.76Z" fill="#1a1a1a"/>
<path d="M383.45,309.22 A61.78,57.10 0 0 1 383.13,308.74 L388.13,305.95 A55.94,51.70 0 0 0 388.42,306.38Z" fill="#1a1a1a"/>
<path d="M383.13,308.74 A61.78,57.10 0 0 1 382.80,308.24 L387.83,305.49 A55.94,51.70 0 0 0 388.13,305.95Z" fill="#1a1a1a"/>
<path d="M382.80,308.24 A61.78,57.10 0 0 1 382.58,307.89 L387.64,305.18 A55.94,51.70 0 0 0 387.83,305.49Z" fill="#f0f0f0"/>
<text transform="translate(380.38,320.45) rotate(-38.1)" x="0" y="2.1" font-size="5.4" text-anchor="middle" fill="#2a2a2a" class="t2" stroke="#2a2a2a" stroke-width="0.25">12</text>
<path d="M382.58,307.89 A61.78,57.10 0 0 1 382.21,307.29 L387.30,304.63 A55.94,51.70 0 0 0 387.64,305.18Z" fill="#1a1a1a"/>
<path d="M382.21,307.29 A61.78,57.10 0 0 1 381.20,305.57 L386.38,303.08 A55.94,51.70 0 0 0 387.30,304.63Z" fill="#bca4ac"/>
<path d="M381.20,305.57 A61.78,57.10 0 0 1 380.15,303.61 L385.43,301.30 A55.94,51.70 0 0 0 386.38,303.08Z" fill="#b4b4b4"/>
<path d="M380.15,303.61 A61.78,57.10 0 0 1 379.51,302.32 L384.85,300.13 A55.94,51.70 0 0 0 385.43,301.30Z" fill="#d2d2d2"/>
<path d="M379.51,302.32 A61.78,57.10 0 0 1 378.41,299.87 L383.86,297.92 A55.94,51.70 0 0 0 384.85,300.13Z" fill="#d2d2d2"/>
<path d="M378.41,299.87 A61.78,57.10 0 0 1 377.80,298.36 L383.30,296.55 A55.94,51.70 0 0 0 383.86,297.92Z" fill="#d2d2d2"/>
<path d="M377.80,298.36 A61.78,57.10 0 0 1 377.67,298.02 L383.19,296.24 A55.94,51.70 0 0 0 383.30,296.55Z" fill="#1a1a1a"/>
<path d="M377.67,298.02 A61.78,57.10 0 0 1 377.52,297.63 L383.05,295.88 A55.94,51.70 0 0 0 383.19,296.24Z" fill="#1a1a1a"/>
<path d="M377.52,297.63 A61.78,57.10 0 0 1 376.97,296.05 L382.55,294.46 A55.94,51.70 0 0 0 383.05,295.88Z" fill="#b4b4b4"/>
<path d="M376.97,296.05 A61.78,57.10 0 0 1 376.84,295.67 L382.44,294.11 A55.94,51.70 0 0 0 382.55,294.46Z" fill="#f0f0f0"/>
<text transform="translate(371.05,305.83) rotate(-23.7)" x="0" y="2.1" font-size="5.4" text-anchor="middle" fill="#2a2a2a" class="t2" stroke="#2a2a2a" stroke-width="0.25">13</text>
<path d="M376.84,295.67 A61.78,57.10 0 0 1 376.66,295.09 L382.27,293.59 A55.94,51.70 0 0 0 382.44,294.11Z" fill="#555555"/>
<path d="M376.66,295.09 A61.78,57.10 0 0 1 376.47,294.46 L382.10,293.02 A55.94,51.70 0 0 0 382.27,293.59Z" fill="#555555"/>
<path d="M376.47,294.46 A61.78,57.10 0 0 1 376.27,293.78 L381.91,292.40 A55.94,51.70 0 0 0 382.10,293.02Z" fill="#1a1a1a"/>
<path d="M376.27,293.78 A61.78,57.10 0 0 1 376.13,293.30 L381.79,291.97 A55.94,51.70 0 0 0 381.91,292.40Z" fill="#555555"/>
<path d="M376.13,293.30 A61.78,57.10 0 0 1 375.68,291.54 L381.38,290.38 A55.94,51.70 0 0 0 381.79,291.97Z" fill="#8a8a8a"/>
<path d="M375.68,291.54 A61.78,57.10 0 0 1 375.58,291.12 L381.29,289.99 A55.94,51.70 0 0 0 381.38,290.38Z" fill="#1a1a1a"/>
<path d="M375.58,291.12 A61.78,57.10 0 0 1 375.46,290.60 L381.19,289.52 A55.94,51.70 0 0 0 381.29,289.99Z" fill="#1a1a1a"/>
<path d="M375.46,290.60 A61.78,57.10 0 0 1 375.37,290.19 L381.11,289.15 A55.94,51.70 0 0 0 381.19,289.52Z" fill="#1a1a1a"/>
<path d="M375.37,290.19 A61.78,57.10 0 0 1 375.30,289.84 L381.04,288.83 A55.94,51.70 0 0 0 381.11,289.15Z" fill="#1a1a1a"/>
<path d="M375.30,289.84 A61.78,57.10 0 0 1 375.19,289.30 L380.94,288.35 A55.94,51.70 0 0 0 381.04,288.83Z" fill="#1a1a1a"/>
<path d="M375.19,289.30 A61.78,57.10 0 0 1 375.09,288.78 L380.85,287.88 A55.94,51.70 0 0 0 380.94,288.35Z" fill="#1a1a1a"/>
<path d="M375.09,288.78 A61.78,57.10 0 0 1 374.84,287.25 L380.62,286.49 A55.94,51.70 0 0 0 380.85,287.88Z" fill="#b4b4b4"/>
<path d="M374.84,287.25 A61.78,57.10 0 0 1 374.76,286.75 L380.55,286.03 A55.94,51.70 0 0 0 380.62,286.49Z" fill="#555555"/>
<path d="M374.76,286.75 A61.78,57.10 0 0 1 374.66,286.00 L380.46,285.36 A55.94,51.70 0 0 0 380.55,286.03Z" fill="#d8c4ca"/>
<path d="M374.66,286.00 A61.78,57.10 0 0 1 374.59,285.47 L380.40,284.87 A55.94,51.70 0 0 0 380.46,285.36Z" fill="#1a1a1a"/>
<path d="M374.59,285.47 A61.78,57.10 0 0 1 374.48,284.43 L380.30,283.94 A55.94,51.70 0 0 0 380.40,284.87Z" fill="#8a8a8a"/>
<path d="M374.48,284.43 A61.78,57.10 0 0 1 374.44,284.06 L380.26,283.60 A55.94,51.70 0 0 0 380.30,283.94Z" fill="#1a1a1a"/>
<path d="M374.44,284.06 A61.78,57.10 0 0 1 374.42,283.86 L380.25,283.42 A55.94,51.70 0 0 0 380.26,283.60Z" fill="#1a1a1a"/>
<path d="M374.42,283.86 A61.78,57.10 0 0 1 374.39,283.46 L380.22,283.06 A55.94,51.70 0 0 0 380.25,283.42Z" fill="#f0f0f0"/>
<text transform="translate(366.26,291.28) rotate(-10.7)" x="0" y="2.1" font-size="5.4" text-anchor="middle" fill="#2a2a2a" class="t2" stroke="#2a2a2a" stroke-width="0.25">14</text>
<path d="M374.39,283.46 A61.78,57.10 0 0 1 374.28,281.79 L380.12,281.55 A55.94,51.70 0 0 0 380.22,283.06Z" fill="#bca4ac"/>
<path d="M374.28,281.79 A61.78,57.10 0 0 1 374.26,281.34 L380.10,281.14 A55.94,51.70 0 0 0 380.12,281.55Z" fill="#1a1a1a"/>
<path d="M374.26,281.34 A61.78,57.10 0 0 1 374.22,278.94 L380.06,278.96 A55.94,51.70 0 0 0 380.10,281.14Z" fill="#8a8a8a"/>
<path d="M374.22,278.94 A61.78,57.10 0 0 1 374.23,278.32 L380.07,278.40 A55.94,51.70 0 0 0 380.06,278.96Z" fill="#1a1a1a"/>
<path d="M374.23,278.32 A61.78,57.10 0 0 1 374.34,275.59 L380.17,275.93 A55.94,51.70 0 0 0 380.07,278.40Z" fill="#8a8a8a"/>
<path d="M374.34,275.59 A61.78,57.10 0 0 1 374.37,275.21 L380.20,275.59 A55.94,51.70 0 0 0 380.17,275.93Z" fill="#1a1a1a"/>
<path d="M374.37,275.21 A61.78,57.10 0 0 1 374.40,274.84 L380.22,275.25 A55.94,51.70 0 0 0 380.20,275.59Z" fill="#1a1a1a"/>
<path d="M374.40,274.84 A61.78,57.10 0 0 1 374.61,272.78 L380.41,273.39 A55.94,51.70 0 0 0 380.22,275.25Z" fill="#e6e6e6"/>
<path d="M374.61,272.78 A61.78,57.10 0 0 1 374.71,272.01 L380.51,272.69 A55.94,51.70 0 0 0 380.41,273.39Z" fill="#d8c4ca"/>
<path d="M374.71,272.01 A61.78,57.10 0 0 1 374.77,271.61 L380.56,272.33 A55.94,51.70 0 0 0 380.51,272.69Z" fill="#f0f0f0"/>
<text transform="translate(365.02,276.96) rotate(1.5)" x="0" y="2.1" font-size="5.4" text-anchor="middle" fill="#2a2a2a" class="t2" stroke="#2a2a2a" stroke-width="0.25">15</text>
<path d="M374.77,271.61 A61.78,57.10 0 0 1 375.04,269.93 L380.80,270.81 A55.94,51.70 0 0 0 380.56,272.33Z" fill="#d2d2d2"/>
<path d="M375.04,269.93 A61.78,57.10 0 0 1 375.56,267.36 L381.28,268.48 A55.94,51.70 0 0 0 380.80,270.81Z" fill="#bca4ac"/>
<path d="M375.56,267.36 A61.78,57.10 0 0 1 375.70,266.78 L381.40,267.96 A55.94,51.70 0 0 0 381.28,268.48Z" fill="#1a1a1a"/>
<path d="M375.70,266.78 A61.78,57.10 0 0 1 375.81,266.33 L381.50,267.55 A55.94,51.70 0 0 0 381.40,267.96Z" fill="#1a1a1a"/>
<path d="M375.81,266.33 A61.78,57.10 0 0 1 375.93,265.84 L381.61,267.10 A55.94,51.70 0 0 0 381.50,267.55Z" fill="#1a1a1a"/>
<path d="M375.93,265.84 A61.78,57.10 0 0 1 376.30,264.48 L381.95,265.88 A55.94,51.70 0 0 0 381.61,267.10Z" fill="#b4b4b4"/>
<path d="M376.30,264.48 A61.78,57.10 0 0 1 376.49,263.86 L382.12,265.31 A55.94,51.70 0 0 0 381.95,265.88Z" fill="#1a1a1a"/>
<path d="M376.49,263.86 A61.78,57.10 0 0 1 377.16,261.80 L382.72,263.44 A55.94,51.70 0 0 0 382.12,265.31Z" fill="#d2d2d2"/>
<path d="M377.16,261.80 A61.78,57.10 0 0 1 377.29,261.42 L382.84,263.10 A55.94,51.70 0 0 0 382.72,263.44Z" fill="#f0f0f0"/>
<text transform="translate(366.76,263.85) rotate(12.7)" x="0" y="2.1" font-size="5.4" text-anchor="middle" fill="#2a2a2a" class="t2" stroke="#2a2a2a" stroke-width="0.25">16</text>
<path d="M377.29,261.42 A61.78,57.10 0 0 1 377.95,259.66 L383.44,261.51 A55.94,51.70 0 0 0 382.84,263.10Z" fill="#bca4ac"/>
<path d="M377.95,259.66 A61.78,57.10 0 0 1 378.11,259.25 L383.59,261.14 A55.94,51.70 0 0 0 383.44,261.51Z" fill="#555555"/>
<path d="M378.11,259.25 A61.78,57.10 0 0 1 378.29,258.82 L383.74,260.75 A55.94,51.70 0 0 0 383.59,261.14Z" fill="#555555"/>
<path d="M378.29,258.82 A61.78,57.10 0 0 1 378.70,257.84 L384.12,259.86 A55.94,51.70 0 0 0 383.74,260.75Z" fill="#b4b4b4"/>
<path d="M378.70,257.84 A61.78,57.10 0 0 1 379.53,256.03 L384.87,258.22 A55.94,51.70 0 0 0 384.12,259.86Z" fill="#b4b4b4"/>
<path d="M379.53,256.03 A61.78,57.10 0 0 1 379.71,255.66 L385.04,257.89 A55.94,51.70 0 0 0 384.87,258.22Z" fill="#555555"/>
<path d="M379.71,255.66 A61.78,57.10 0 0 1 379.95,255.17 L385.25,257.45 A55.94,51.70 0 0 0 385.04,257.89Z" fill="#1a1a1a"/>
<path d="M379.95,255.17 A61.78,57.10 0 0 1 381.04,253.12 L386.24,255.59 A55.94,51.70 0 0 0 385.25,257.45Z" fill="#b4b4b4"/>
<path d="M381.04,253.12 A61.78,57.10 0 0 1 381.04,253.11 L386.24,255.58 A55.94,51.70 0 0 0 386.24,255.59Z" fill="#1a1a1a"/>
<path d="M381.04,253.11 A61.78,57.10 0 0 1 381.24,252.76 L386.42,255.26 A55.94,51.70 0 0 0 386.24,255.58Z" fill="#f0f0f0"/>
<text transform="translate(370.56,252.65) rotate(22.7)" x="0" y="2.1" font-size="5.4" text-anchor="middle" fill="#2a2a2a" class="t2" stroke="#2a2a2a" stroke-width="0.25">17</text>
<path d="M381.24,252.76 A61.78,57.10 0 0 1 382.30,250.96 L387.38,253.63 A55.94,51.70 0 0 0 386.42,255.26Z" fill="#e6e6e6"/>
<path d="M382.30,250.96 A61.78,57.10 0 0 1 382.68,250.35 L387.73,253.08 A55.94,51.70 0 0 0 387.38,253.63Z" fill="#555555"/>
<path d="M382.68,250.35 A61.78,57.10 0 0 1 382.96,249.92 L387.97,252.69 A55.94,51.70 0 0 0 387.73,253.08Z" fill="#1a1a1a"/>
<path d="M382.96,249.92 A61.78,57.10 0 0 1 383.37,249.30 L388.34,252.13 A55.94,51.70 0 0 0 387.97,252.69Z" fill="#555555"/>
<path d="M383.37,249.30 A61.78,57.10 0 0 1 383.89,248.52 L388.82,251.42 A55.94,51.70 0 0 0 388.34,252.13Z" fill="#8a8a8a"/>
<path d="M383.89,248.52 A61.78,57.10 0 0 1 384.25,248.01 L389.14,250.96 A55.94,51.70 0 0 0 388.82,251.42Z" fill="#1a1a1a"/>
<path d="M384.25,248.01 A61.78,57.10 0 0 1 384.49,247.67 L389.36,250.65 A55.94,51.70 0 0 0 389.14,250.96Z" fill="#1a1a1a"/>
<path d="M384.49,247.67 A61.78,57.10 0 0 1 385.75,245.98 L390.50,249.12 A55.94,51.70 0 0 0 389.36,250.65Z" fill="#8a8a8a"/>
<path d="M385.75,245.98 A61.78,57.10 0 0 1 386.19,245.42 L390.90,248.61 A55.94,51.70 0 0 0 390.50,249.12Z" fill="#1a1a1a"/>
<path d="M386.19,245.42 A61.78,57.10 0 0 1 386.45,245.10 L391.13,248.32 A55.94,51.70 0 0 0 390.90,248.61Z" fill="#f0f0f0"/>
<text transform="translate(375.89,242.95) rotate(31.9)" x="0" y="2.1" font-size="5.4" text-anchor="middle" fill="#2a2a2a" class="t2" stroke="#2a2a2a" stroke-width="0.25">18</text>
<path d="M386.45,245.10 A61.78,57.10 0 0 1 387.20,244.18 L391.82,247.49 A55.94,51.70 0 0 0 391.13,248.32Z" fill="#8a8a8a"/>
<path d="M387.20,244.18 A61.78,57.10 0 0 1 388.27,242.95 L392.78,246.37 A55.94,51.70 0 0 0 391.82,247.49Z" fill="#d2d2d2"/>
<path d="M388.27,242.95 A61.78,57.10 0 0 1 389.65,241.45 L394.03,245.02 A55.94,51.70 0 0 0 392.78,246.37Z" fill="#d2d2d2"/>
<path d="M389.65,241.45 A61.78,57.10 0 0 1 389.95,241.14 L394.30,244.74 A55.94,51.70 0 0 0 394.03,245.02Z" fill="#1a1a1a"/>
<path d="M389.95,241.14 A61.78,57.10 0 0 1 390.57,240.50 L394.87,244.16 A55.94,51.70 0 0 0 394.30,244.74Z" fill="#d2d2d2"/>
<path d="M390.57,240.50 A61.78,57.10 0 0 1 390.92,240.15 L395.19,243.85 A55.94,51.70 0 0 0 394.87,244.16Z" fill="#1a1a1a"/>
<path d="M390.92,240.15 A61.78,57.10 0 0 1 391.22,239.86 L395.45,243.58 A55.94,51.70 0 0 0 395.19,243.85Z" fill="#f0f0f0"/>
<text transform="translate(381.77,235.33) rotate(39.9)" x="0" y="2.1" font-size="5.4" text-anchor="middle" fill="#2a2a2a" class="t2" stroke="#2a2a2a" stroke-width="0.25">19</text>
<path d="M391.22,239.86 A61.78,57.10 0 0 1 392.06,239.06 L396.21,242.86 A55.94,51.70 0 0 0 395.45,243.58Z" fill="#e6e6e6"/>
<path d="M392.06,239.06 A61.78,57.10 0 0 1 392.39,238.75 L396.52,242.58 A55.94,51.70 0 0 0 396.21,242.86Z" fill="#555555"/>
<path d="M392.39,238.75 A61.78,57.10 0 0 1 394.30,237.07 L398.24,241.06 A55.94,51.70 0 0 0 396.52,242.58Z" fill="#8a8a8a"/>
<path d="M394.30,237.07 A61.78,57.10 0 0 1 395.95,235.72 L399.74,239.83 A55.94,51.70 0 0 0 398.24,241.06Z" fill="#d2d2d2"/>
<path d="M395.95,235.72 A61.78,57.10 0 0 1 396.44,235.34 L400.18,239.49 A55.94,51.70 0 0 0 399.74,239.83Z" fill="#1a1a1a"/>
<path d="M396.44,235.34 A61.78,57.10 0 0 1 396.68,235.16 L400.40,239.32 A55.94,51.70 0 0 0 400.18,239.49Z" fill="#1a1a1a"/>
<path d="M396.68,235.16 A61.78,57.10 0 0 1 397.01,234.91 L400.70,239.09 A55.94,51.70 0 0 0 400.40,239.32Z" fill="#f0f0f0"/>
<text transform="translate(387.90,229.25) rotate(47.0)" x="0" y="2.1" font-size="5.4" text-anchor="middle" fill="#2a2a2a" class="t2" stroke="#2a2a2a" stroke-width="0.25">20</text>
<path d="M397.01,234.91 A61.78,57.10 0 0 1 398.66,233.71 L402.19,238.01 A55.94,51.70 0 0 0 400.70,239.09Z" fill="#d2d2d2"/>
<path d="M398.66,233.71 A61.78,57.10 0 0 1 399.64,233.03 L403.08,237.40 A55.94,51.70 0 0 0 402.19,238.01Z" fill="#8a8a8a"/>
<path d="M399.64,233.03 A61.78,57.10 0 0 1 401.12,232.07 L404.42,236.53 A55.94,51.70 0 0 0 403.08,237.40Z" fill="#b4b4b4"/>
<path d="M401.12,232.07 A61.78,57.10 0 0 1 401.51,231.83 L404.77,236.31 A55.94,51.70 0 0 0 404.42,236.53Z" fill="#1a1a1a"/>
<path d="M401.51,231.83 A61.78,57.10 0 0 1 401.87,231.60 L405.10,236.11 A55.94,51.70 0 0 0 404.77,236.31Z" fill="#f0f0f0"/>
<text transform="translate(394.14,224.38) rotate(53.5)" x="0" y="2.1" font-size="5.4" text-anchor="middle" fill="#2a2a2a" class="t2" stroke="#2a2a2a" stroke-width="0.25">21</text>
<path d="M401.87,231.60 A61.78,57.10 0 0 1 402.64,231.14 L405.79,235.69 A55.94,51.70 0 0 0 405.10,236.11Z" fill="#8a8a8a"/>
<path d="M402.64,231.14 A61.78,57.10 0 0 1 403.19,230.82 L406.29,235.39 A55.94,51.70 0 0 0 405.79,235.69Z" fill="#555555"/>
<path d="M403.19,230.82 A61.78,57.10 0 0 1 403.64,230.56 L406.70,235.16 A55.94,51.70 0 0 0 406.29,235.39Z" fill="#1a1a1a"/>
<path d="M403.64,230.56 A61.78,57.10 0 0 1 404.12,230.29 L407.14,234.91 A55.94,51.70 0 0 0 406.70,235.16Z" fill="#1a1a1a"/>
<path d="M404.12,230.29 A61.78,57.10 0 0 1 404.51,230.08 L407.49,234.72 A55.94,51.70 0 0 0 407.14,234.91Z" fill="#1a1a1a"/>
<path d="M404.51,230.08 A61.78,57.10 0 0 1 407.00,228.78 L409.75,233.55 A55.94,51.70 0 0 0 407.49,234.72Z" fill="#b4b4b4"/>
<path d="M407.00,228.78 A61.78,57.10 0 0 1 407.02,228.77 L409.76,233.54 A55.94,51.70 0 0 0 409.75,233.55Z" fill="#d8c4ca"/>
<path d="M407.02,228.77 A61.78,57.10 0 0 1 407.41,228.58 L410.11,233.37 A55.94,51.70 0 0 0 409.76,233.54Z" fill="#f0f0f0"/>
<text transform="translate(400.19,220.61) rotate(59.2)" x="0" y="2.1" font-size="5.4" text-anchor="middle" fill="#2a2a2a" class="t2" stroke="#2a2a2a" stroke-width="0.25">22</text>
<path d="M407.41,228.58 A61.78,57.10 0 0 1 409.32,227.70 L411.84,232.57 A55.94,51.70 0 0 0 410.11,233.37Z" fill="#bca4ac"/>
<path d="M409.32,227.70 A61.78,57.10 0 0 1 410.03,227.39 L412.49,232.29 A55.94,51.70 0 0 0 411.84,232.57Z" fill="#555555"/>
<path d="M410.03,227.39 A61.78,57.10 0 0 1 412.60,226.35 L414.81,231.35 A55.94,51.70 0 0 0 412.49,232.29Z" fill="#bca4ac"/>
<path d="M412.60,226.35 A61.78,57.10 0 0 1 414.32,225.73 L416.37,230.79 A55.94,51.70 0 0 0 414.81,231.35Z" fill="#d2d2d2"/>
<path d="M414.32,225.73 A61.78,57.10 0 0 1 415.90,225.21 L417.80,230.31 A55.94,51.70 0 0 0 416.37,230.79Z" fill="#d8c4ca"/>
<path d="M415.90,225.21 A61.78,57.10 0 0 1 416.64,224.98 L418.47,230.10 A55.94,51.70 0 0 0 417.80,230.31Z" fill="#1a1a1a"/>
<path d="M416.64,224.98 A61.78,57.10 0 0 1 417.29,224.78 L419.06,229.93 A55.94,51.70 0 0 0 418.47,230.10Z" fill="#1a1a1a"/>
<path d="M417.29,224.78 A61.78,57.10 0 0 1 418.65,224.40 L420.29,229.58 A55.94,51.70 0 0 0 419.06,229.93Z" fill="#8a8a8a"/>
<path d="M418.65,224.40 A61.78,57.10 0 0 1 419.33,224.22 L420.90,229.42 A55.94,51.70 0 0 0 420.29,229.58Z" fill="#1a1a1a"/>
<path d="M419.33,224.22 A61.78,57.10 0 0 1 419.83,224.09 L421.36,229.30 A55.94,51.70 0 0 0 420.90,229.42Z" fill="#555555"/>
<path d="M419.83,224.09 A61.78,57.10 0 0 1 422.20,223.54 L423.50,228.81 A55.94,51.70 0 0 0 421.36,229.30Z" fill="#b4b4b4"/>
<path d="M422.20,223.54 A61.78,57.10 0 0 1 422.69,223.44 L423.95,228.71 A55.94,51.70 0 0 0 423.50,228.81Z" fill="#1a1a1a"/>
<path d="M422.69,223.44 A61.78,57.10 0 0 1 423.12,223.35 L424.34,228.64 A55.94,51.70 0 0 0 423.95,228.71Z" fill="#1a1a1a"/>
<path d="M423.12,223.35 A61.78,57.10 0 0 1 425.37,222.95 L426.37,228.27 A55.94,51.70 0 0 0 424.34,228.64Z" fill="#b4b4b4"/>
<path d="M425.37,222.95 A61.78,57.10 0 0 1 425.79,222.88 L426.76,228.21 A55.94,51.70 0 0 0 426.37,228.27Z" fill="#f0f0f0"/>
<text transform="translate(413.87,214.68) rotate(71.3)" x="0" y="2.1" font-size="5.4" text-anchor="middle" fill="#2a2a2a" class="t2" stroke="#2a2a2a" stroke-width="0.25">X</text>
<path d="M425.79,222.88 A61.78,57.10 0 0 1 428.73,222.50 L429.42,227.86 A55.94,51.70 0 0 0 426.76,228.21Z" fill="#d8c4ca"/>
<path d="M428.73,222.50 A61.78,57.10 0 0 1 429.17,222.45 L429.82,227.82 A55.94,51.70 0 0 0 429.42,227.86Z" fill="#555555"/>
<path d="M429.17,222.45 A61.78,57.10 0 0 1 429.78,222.39 L430.36,227.76 A55.94,51.70 0 0 0 429.82,227.82Z" fill="#555555"/>
<path d="M429.78,222.39 A61.78,57.10 0 0 1 430.52,222.33 L431.04,227.70 A55.94,51.70 0 0 0 430.36,227.76Z" fill="#555555"/>
<path d="M430.52,222.33 A61.78,57.10 0 0 1 431.27,222.27 L431.72,227.65 A55.94,51.70 0 0 0 431.04,227.70Z" fill="#555555"/>
<path d="M431.27,222.27 A61.78,57.10 0 0 1 431.76,222.23 L432.16,227.62 A55.94,51.70 0 0 0 431.72,227.65Z" fill="#1a1a1a"/>
<path d="M431.76,222.23 A61.78,57.10 0 0 1 432.19,222.21 L432.55,227.60 A55.94,51.70 0 0 0 432.16,227.62Z" fill="#1a1a1a"/>
<path d="M432.19,222.21 A61.78,57.10 0 0 1 432.77,222.18 L433.07,227.57 A55.94,51.70 0 0 0 432.55,227.60Z" fill="#8a8a8a"/>
<path d="M432.77,222.18 A61.78,57.10 0 0 1 433.20,222.16 L433.46,227.55 A55.94,51.70 0 0 0 433.07,227.57Z" fill="#f0f0f0"/>
<text transform="translate(429.16,211.50) rotate(83.7)" x="0" y="2.1" font-size="5.4" text-anchor="middle" fill="#2a2a2a" class="t2" stroke="#2a2a2a" stroke-width="0.25">Y</text>
<ellipse cx="436.0" cy="279.2" rx="61.78" ry="57.1" fill="none" stroke="#484848" stroke-width="0.55"/>
<ellipse cx="436.0" cy="279.2" rx="55.94" ry="51.7" fill="none" stroke="#484848" stroke-width="0.55"/>
<text x="101" y="361" font-size="8.3" text-anchor="middle" fill="#222" stroke="#222" stroke-width="0.22">TCL81</text>
<text x="269.5" y="361" font-size="8.3" text-anchor="middle" fill="#222" stroke="#222" stroke-width="0.22">TCL66</text>
<text x="435" y="361" font-size="8.3" text-anchor="middle" fill="#222" stroke="#222" stroke-width="0.22">TCL86</text>
<path d="M77.1,440.5 L77.10,380.20 A60.3,60.3 0 1 1 17.87,451.80Z" fill="#a6032f"/>
<path d="M77.1,440.5 L17.87,451.80 A60.3,60.3 0 0 1 77.10,380.20Z" fill="#2e4c7b"/>
<text x="51.2" y="423.1" font-size="10" text-anchor="middle" fill="#fff" class="t" stroke="#fff" stroke-width="0.1">28%</text>
<text x="101.7" y="457" font-size="10" text-anchor="middle" fill="#fff" class="t" stroke="#fff" stroke-width="0.1">72%</text>
<rect x="144" y="432" width="6.2" height="6" fill="#a6032f"/>
<rect x="144" y="443.1" width="6.2" height="6" fill="#2e4c7b"/>
<text x="153.6" y="438" font-size="7.6" fill="#1a1a1a" class="lg" stroke="#1a1a1a" stroke-width="0.12">Intrachromosomal</text>
<text x="153.6" y="449.1" font-size="7.6" fill="#1a1a1a" class="lg" stroke="#1a1a1a" stroke-width="0.12">Interchromosomal</text>
<path d="M307.2,440.4 L307.20,380.00 A60.4,60.4 0 0 1 361.85,466.12Z" fill="#2e4c7b"/>
<path d="M307.2,440.4 L361.85,466.12 A60.4,60.4 0 0 1 258.34,475.90Z" fill="#a6032f"/>
<path d="M307.2,440.4 L258.34,475.90 A60.4,60.4 0 0 1 246.92,436.61Z" fill="#b2bd86"/>
<path d="M307.2,440.4 L246.92,436.61 A60.4,60.4 0 0 1 288.54,382.96Z" fill="#522663"/>
<path d="M307.2,440.4 L288.54,382.96 A60.4,60.4 0 0 1 307.20,380.00Z" fill="#6aaade"/>
<text x="337.5" y="423.8" font-size="10" text-anchor="middle" fill="#fff" class="t" stroke="#fff" stroke-width="0.1">32%</text>
<text x="310.2" y="480" font-size="10" text-anchor="middle" fill="#fff" class="t" stroke="#fff" stroke-width="0.1">33%</text>
<text x="267.3" y="457.3" font-size="10" text-anchor="middle" fill="#1a2418" class="t" stroke="#1a2418" stroke-width="0.25">11%</text>
<text x="272.3" y="421.9" font-size="10" text-anchor="middle" fill="#fff" class="t" stroke="#fff" stroke-width="0.1">19%</text>
<text x="299" y="391.8" font-size="10" text-anchor="middle" fill="#15304f" class="t" stroke="#15304f" stroke-width="0.25">5%</text>
<rect x="374" y="409.20" width="6" height="5.6" fill="#2e4c7b"/>
<text x="383" y="414.80" font-size="7.7" fill="#1a1a1a" class="lg" stroke="#1a1a1a" stroke-width="0.12">2 non-genic breakpoints</text>
<rect x="374" y="420.48" width="6" height="5.6" fill="#a6032f"/>
<text x="383" y="426.08" font-size="7.7" fill="#1a1a1a" class="lg" stroke="#1a1a1a" stroke-width="0.12">1 non-genic breakpoint</text>
<rect x="374" y="431.76" width="6" height="5.6" fill="#b2bd86"/>
<text x="383" y="437.36" font-size="7.7" fill="#1a1a1a" class="lg" stroke="#1a1a1a" stroke-width="0.12">intragenic</text>
<rect x="374" y="443.04" width="6" height="5.6" fill="#522663"/>
<text x="383" y="448.64" font-size="7.7" fill="#1a1a1a" class="lg" stroke="#1a1a1a" stroke-width="0.12">2 genes involved, no expressed fusion</text>
<rect x="374" y="454.32" width="6" height="5.6" fill="#6aaade"/>
<text x="383" y="459.92" font-size="7.7" fill="#1a1a1a" class="lg" stroke="#1a1a1a" stroke-width="0.12">2 genes involved, expressed fusion</text>
<text x="6.2" y="16.0" font-size="12.2" font-weight="bold" fill="#000" stroke="#000" stroke-width="0.25">A</text>
<text x="6.8" y="221.1" font-size="12.2" font-weight="bold" fill="#000" stroke="#000" stroke-width="0.25">B</text>
<text x="184.2" y="221.2" font-size="12.2" font-weight="bold" fill="#000" stroke="#000" stroke-width="0.25">C</text>
<text x="352.8" y="221.1" font-size="12.2" font-weight="bold" fill="#000" stroke="#000" stroke-width="0.25">D</text>
<text x="6.8" y="389.7" font-size="12.2" font-weight="bold" fill="#000" stroke="#000" stroke-width="0.25">E</text>
<text x="237.4" y="389.7" font-size="12.2" font-weight="bold" fill="#000" stroke="#000" stroke-width="0.25">F</text>
</svg>
<div style="position:absolute;left:0;top:0;width:518px;height:506px;border:1px solid #111"></div>
</body></html>
